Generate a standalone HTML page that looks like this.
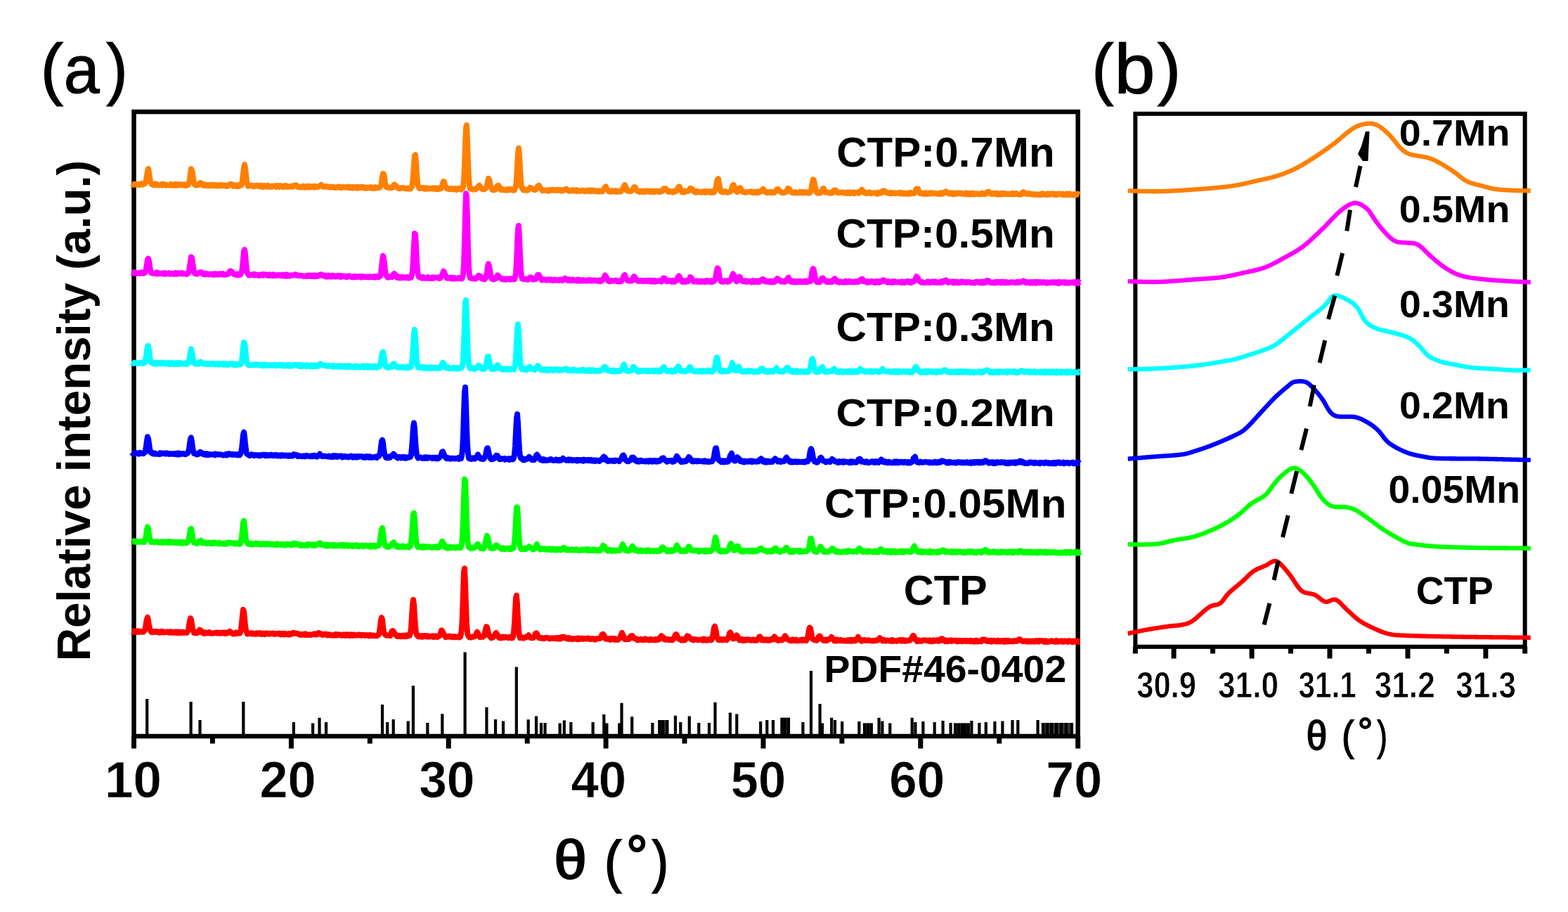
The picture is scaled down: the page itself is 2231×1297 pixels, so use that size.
<!DOCTYPE html><html><head><meta charset="utf-8"><title>XRD</title><style>html,body{margin:0;padding:0;background:#fff;}svg{display:block;}</style></head><body><svg width="2231" height="1297" viewBox="0 0 2231 1297"><rect width="100%" height="100%" fill="#fff"/><rect x="190.5" y="159.0" width="1343.2" height="888.0" fill="none" stroke="#000" stroke-width="6.5"/><line x1="190.5" y1="1047.0" x2="190.5" y2="1064.5" stroke="#000" stroke-width="7"/><line x1="414.4" y1="1047.0" x2="414.4" y2="1064.5" stroke="#000" stroke-width="7"/><line x1="638.2" y1="1047.0" x2="638.2" y2="1064.5" stroke="#000" stroke-width="7"/><line x1="862.1" y1="1047.0" x2="862.1" y2="1064.5" stroke="#000" stroke-width="7"/><line x1="1086.0" y1="1047.0" x2="1086.0" y2="1064.5" stroke="#000" stroke-width="7"/><line x1="1309.8" y1="1047.0" x2="1309.8" y2="1064.5" stroke="#000" stroke-width="7"/><line x1="1533.7" y1="1047.0" x2="1533.7" y2="1064.5" stroke="#000" stroke-width="7"/><line x1="302.4" y1="1047.0" x2="302.4" y2="1057.5" stroke="#000" stroke-width="7"/><line x1="526.3" y1="1047.0" x2="526.3" y2="1057.5" stroke="#000" stroke-width="7"/><line x1="750.2" y1="1047.0" x2="750.2" y2="1057.5" stroke="#000" stroke-width="7"/><line x1="974.0" y1="1047.0" x2="974.0" y2="1057.5" stroke="#000" stroke-width="7"/><line x1="1197.9" y1="1047.0" x2="1197.9" y2="1057.5" stroke="#000" stroke-width="7"/><line x1="1421.8" y1="1047.0" x2="1421.8" y2="1057.5" stroke="#000" stroke-width="7"/><path d="M209.2 1047.0V994.1M271.6 1047.0V997.9M284.5 1047.0V1023.9M346.3 1047.0V997.9M417.8 1047.0V1027.0M445.1 1047.0V1028.6M454.5 1047.0V1020.8M464.0 1047.0V1027.0M544.0 1047.0V1002.0M551.2 1047.0V1027.0M559.7 1047.0V1023.0M580.7 1047.0V1025.5M587.9 1047.0V975.3M608.3 1047.0V1028.0M629.3 1047.0V1015.2M661.6 1047.0V927.6M692.4 1047.0V1005.7M705.0 1047.0V1023.0M716.0 1047.0V1025.5M734.8 1047.0V948.6M751.7 1047.0V1023.3M763.0 1047.0V1018.6M770.0 1047.0V1028.0M775.5 1047.0V1028.0M796.6 1047.0V1028.6M802.8 1047.0V1024.6M812.3 1047.0V1027.0M843.6 1047.0V1027.0M859.3 1047.0V1016.0M863.4 1047.0V1028.6M881.3 1047.0V1028.6M884.5 1047.0V999.8M899.2 1047.0V1019.2M928.4 1047.0V1028.0M938.4 1047.0V1024.0M943.0 1047.0V1024.0M949.4 1047.0V1024.0M961.0 1047.0V1017.7M968.3 1047.0V1027.0M980.8 1047.0V1018.6M994.3 1047.0V1028.0M1009.0 1047.0V1028.0M1017.5 1047.0V998.8M1038.9 1047.0V1013.6M1048.3 1047.0V1015.5M1082.2 1047.0V1026.0M1091.3 1047.0V1024.0M1100.0 1047.0V1024.0M1112.6 1047.0V1020.8M1117.0 1047.0V1020.8M1122.0 1047.0V1020.8M1142.4 1047.0V1027.0M1154.0 1047.0V954.0M1166.6 1047.0V1001.0M1170.0 1047.0V1028.6M1183.2 1047.0V1020.8M1188.0 1047.0V1024.0M1198.2 1047.0V1026.0M1222.4 1047.0V1026.0M1230.0 1047.0V1028.6M1235.0 1047.0V1028.6M1239.7 1047.0V1028.6M1250.6 1047.0V1020.8M1255.4 1047.0V1025.5M1266.3 1047.0V1028.6M1297.7 1047.0V1020.8M1302.4 1047.0V1027.0M1313.4 1047.0V1026.0M1329.7 1047.0V1027.0M1341.6 1047.0V1024.9M1352.6 1047.0V1028.0M1359.0 1047.0V1028.6M1364.0 1047.0V1028.6M1369.0 1047.0V1028.6M1373.0 1047.0V1028.6M1377.7 1047.0V1028.6M1382.4 1047.0V1024.9M1393.4 1047.0V1028.0M1402.8 1047.0V1027.0M1415.4 1047.0V1026.0M1426.4 1047.0V1025.5M1440.5 1047.0V1024.0M1448.3 1047.0V1024.0M1476.6 1047.0V1024.0M1484.0 1047.0V1028.0M1490.0 1047.0V1028.0M1496.0 1047.0V1028.0M1503.0 1047.0V1028.0M1510.0 1047.0V1028.0M1517.0 1047.0V1028.0M1525.0 1047.0V1028.0" stroke="#000" stroke-width="4.2" fill="none"/><rect x="936.5" y="1024.0" width="14.5" height="23.0" fill="#000" fill-opacity="0.8"/><rect x="1110.5" y="1020.8" width="13.5" height="26.2" fill="#000" fill-opacity="0.8"/><rect x="1228.0" y="1028.6" width="14.0" height="18.4" fill="#000" fill-opacity="0.8"/><rect x="1357.0" y="1028.6" width="23.0" height="18.4" fill="#000" fill-opacity="0.8"/><rect x="1482.0" y="1028.0" width="45.0" height="19.0" fill="#000" fill-opacity="0.8"/><path d="M188.0 898.1 189.0 898.6 190.0 897.8 191.0 899.0 192.0 898.6 193.0 897.4 194.0 898.8 195.0 898.1 196.0 897.5 197.0 898.8 198.0 897.9 199.0 898.3 200.0 898.0 201.0 898.8 202.0 898.1 203.0 897.5 204.0 898.6 205.0 897.4 206.0 896.4 207.0 892.8 208.0 885.4 209.0 880.5 210.0 878.0 211.0 882.3 212.0 889.5 213.0 893.9 214.0 896.8 215.0 898.4 216.0 899.3 217.0 898.9 218.0 897.9 219.0 898.1 220.0 898.9 221.0 899.0 222.0 898.0 223.0 898.5 224.0 898.0 225.0 899.4 226.0 899.2 227.0 899.8 228.0 898.5 229.0 898.8 230.0 897.9 231.0 899.1 232.0 898.4 233.0 899.4 234.0 899.3 235.0 899.0 236.0 898.8 237.0 898.5 238.0 898.6 239.0 899.3 240.0 898.7 241.0 899.7 242.0 898.4 243.0 898.3 244.0 899.7 245.0 899.6 246.0 900.0 247.0 899.0 248.0 898.5 249.0 899.6 250.0 900.0 251.0 898.4 252.0 898.4 253.0 900.2 254.0 900.2 255.0 898.8 256.0 900.0 257.0 900.2 258.0 899.2 259.0 899.7 260.0 898.8 261.0 898.8 262.0 900.1 263.0 899.9 264.0 899.7 265.0 899.1 266.0 899.7 267.0 898.1 268.0 896.0 269.0 888.8 270.0 883.8 271.0 879.2 272.0 881.4 273.0 887.9 274.0 894.4 275.0 896.5 276.0 899.9 277.0 899.3 278.0 900.2 279.0 899.9 280.0 900.4 281.0 898.6 282.0 899.4 283.0 898.2 284.0 895.7 285.0 896.1 286.0 896.7 287.0 898.3 288.0 900.0 289.0 899.7 290.0 900.8 291.0 899.6 292.0 900.7 293.0 899.8 294.0 899.7 295.0 899.7 296.0 900.4 297.0 900.2 298.0 899.2 299.0 900.6 300.0 900.8 301.0 900.7 302.0 900.8 303.0 900.4 304.0 900.5 305.0 900.2 306.0 900.0 307.0 899.8 308.0 899.8 309.0 900.5 310.0 899.5 311.0 900.0 312.0 899.8 313.0 900.8 314.0 900.8 315.0 900.3 316.0 899.5 317.0 900.1 318.0 900.5 319.0 899.4 320.0 899.4 321.0 901.1 322.0 899.5 323.0 899.4 324.0 900.3 325.0 899.5 326.0 899.0 327.0 898.0 328.0 898.8 329.0 899.6 330.0 900.5 331.0 901.3 332.0 900.5 333.0 901.4 334.0 901.3 335.0 900.5 336.0 899.6 337.0 901.2 338.0 900.5 339.0 900.0 340.0 899.6 341.0 900.6 342.0 899.5 343.0 894.4 344.0 885.7 345.0 875.7 346.0 867.0 347.0 869.4 348.0 879.1 349.0 890.5 350.0 896.2 351.0 899.3 352.0 901.6 353.0 901.2 354.0 900.4 355.0 901.2 356.0 900.6 357.0 900.5 358.0 900.1 359.0 901.7 360.0 901.3 361.0 901.1 362.0 901.2 363.0 900.8 364.0 901.8 365.0 900.9 366.0 900.3 367.0 901.2 368.0 901.4 369.0 901.5 370.0 900.2 371.0 900.9 372.0 901.9 373.0 901.9 374.0 900.5 375.0 901.0 376.0 901.8 377.0 902.1 378.0 901.0 379.0 900.4 380.0 900.9 381.0 901.3 382.0 900.9 383.0 901.8 384.0 901.2 385.0 901.0 386.0 901.1 387.0 901.2 388.0 900.6 389.0 900.5 390.0 901.9 391.0 901.8 392.0 901.2 393.0 901.6 394.0 901.0 395.0 900.9 396.0 901.0 397.0 901.3 398.0 900.6 399.0 902.5 400.0 902.6 401.0 901.1 402.0 900.7 403.0 901.9 404.0 902.5 405.0 900.8 406.0 901.1 407.0 901.9 408.0 901.7 409.0 902.0 410.0 902.6 411.0 901.1 412.0 902.6 413.0 902.4 414.0 901.2 415.0 901.7 416.0 900.4 417.0 900.9 418.0 900.0 419.0 900.8 420.0 900.7 421.0 900.6 422.0 901.0 423.0 901.1 424.0 901.2 425.0 902.2 426.0 902.1 427.0 901.9 428.0 903.1 429.0 902.0 430.0 902.6 431.0 902.8 432.0 901.7 433.0 902.0 434.0 903.0 435.0 901.5 436.0 903.2 437.0 903.2 438.0 903.0 439.0 902.5 440.0 903.0 441.0 902.5 442.0 902.7 443.0 903.0 444.0 902.5 445.0 902.2 446.0 901.8 447.0 901.4 448.0 902.4 449.0 902.5 450.0 902.7 451.0 902.3 452.0 900.8 453.0 899.9 454.0 900.1 455.0 900.5 456.0 901.8 457.0 902.1 458.0 902.4 459.0 903.0 460.0 901.7 461.0 901.7 462.0 902.2 463.0 902.4 464.0 901.8 465.0 903.5 466.0 903.4 467.0 903.4 468.0 902.3 469.0 903.0 470.0 903.4 471.0 902.8 472.0 903.6 473.0 903.3 474.0 903.8 475.0 903.4 476.0 902.7 477.0 903.5 478.0 902.0 479.0 902.7 480.0 903.5 481.0 903.2 482.0 902.3 483.0 903.0 484.0 902.7 485.0 903.6 486.0 903.7 487.0 903.7 488.0 902.6 489.0 902.4 490.0 903.2 491.0 903.9 492.0 902.4 493.0 903.2 494.0 903.7 495.0 902.5 496.0 903.1 497.0 902.6 498.0 904.1 499.0 903.3 500.0 902.5 501.0 903.8 502.0 903.9 503.0 902.7 504.0 902.5 505.0 903.6 506.0 903.7 507.0 903.3 508.0 903.6 509.0 903.5 510.0 902.6 511.0 902.6 512.0 903.4 513.0 902.8 514.0 903.9 515.0 903.2 516.0 903.0 517.0 902.9 518.0 903.0 519.0 903.9 520.0 903.6 521.0 903.1 522.0 903.5 523.0 903.7 524.0 903.4 525.0 904.5 526.0 904.4 527.0 903.1 528.0 904.1 529.0 903.9 530.0 903.7 531.0 903.6 532.0 904.2 533.0 904.2 534.0 904.4 535.0 904.6 536.0 904.0 537.0 904.1 538.0 902.7 539.0 902.4 540.0 897.7 541.0 890.0 542.0 881.9 543.0 878.4 544.0 881.1 545.0 890.9 546.0 898.2 547.0 901.3 548.0 902.5 549.0 903.5 550.0 903.1 551.0 903.9 552.0 903.7 553.0 903.3 554.0 903.9 555.0 904.3 556.0 901.8 557.0 899.4 558.0 897.2 559.0 897.1 560.0 898.2 561.0 900.1 562.0 902.2 563.0 902.9 564.0 903.8 565.0 904.8 566.0 903.7 567.0 904.8 568.0 904.1 569.0 905.2 570.0 904.8 571.0 904.1 572.0 905.2 573.0 905.2 574.0 903.6 575.0 904.6 576.0 905.3 577.0 903.5 578.0 903.6 579.0 904.9 580.0 903.6 581.0 904.5 582.0 904.1 583.0 903.6 584.0 900.5 585.0 892.1 586.0 876.0 587.0 861.1 588.0 852.9 589.0 859.6 590.0 876.4 591.0 890.9 592.0 899.4 593.0 902.7 594.0 904.3 595.0 905.4 596.0 905.3 597.0 904.3 598.0 905.5 599.0 905.7 600.0 904.4 601.0 904.2 602.0 905.6 603.0 904.1 604.0 904.9 605.0 904.0 606.0 904.6 607.0 905.4 608.0 904.3 609.0 905.6 610.0 905.7 611.0 905.5 612.0 904.9 613.0 904.9 614.0 904.5 615.0 905.5 616.0 904.4 617.0 905.9 618.0 905.8 619.0 905.8 620.0 904.4 621.0 905.5 622.0 906.1 623.0 904.8 624.0 905.2 625.0 904.6 626.0 903.1 627.0 900.0 628.0 896.6 629.0 896.7 630.0 899.1 631.0 900.8 632.0 903.1 633.0 904.3 634.0 906.2 635.0 905.7 636.0 905.2 637.0 905.1 638.0 905.7 639.0 905.4 640.0 904.5 641.0 905.0 642.0 905.8 643.0 906.2 644.0 905.6 645.0 905.1 646.0 906.3 647.0 906.3 648.0 905.3 649.0 905.8 650.0 905.7 651.0 906.3 652.0 905.8 653.0 904.9 654.0 906.3 655.0 905.5 656.0 901.7 657.0 893.4 658.0 873.1 659.0 842.6 660.0 813.4 661.0 808.5 662.0 829.1 663.0 861.4 664.0 887.0 665.0 900.1 666.0 903.6 667.0 905.5 668.0 906.5 669.0 906.4 670.0 906.6 671.0 905.8 672.0 905.4 673.0 905.7 674.0 905.3 675.0 905.4 676.0 904.9 677.0 903.3 678.0 900.4 679.0 898.8 680.0 900.5 681.0 903.3 682.0 905.1 683.0 906.2 684.0 905.6 685.0 905.6 686.0 905.3 687.0 905.8 688.0 905.0 689.0 904.2 690.0 899.2 691.0 894.9 692.0 891.3 693.0 892.0 694.0 896.3 695.0 900.7 696.0 904.1 697.0 905.4 698.0 906.0 699.0 907.2 700.0 905.6 701.0 906.8 702.0 905.9 703.0 904.8 704.0 902.6 705.0 901.0 706.0 899.9 707.0 902.2 708.0 903.0 709.0 905.2 710.0 906.8 711.0 905.9 712.0 907.5 713.0 907.5 714.0 906.6 715.0 905.7 716.0 906.4 717.0 906.9 718.0 906.2 719.0 905.8 720.0 905.8 721.0 906.3 722.0 906.9 723.0 907.3 724.0 906.4 725.0 905.8 726.0 907.0 727.0 906.6 728.0 907.5 729.0 907.3 730.0 905.4 731.0 899.2 732.0 886.9 733.0 868.3 734.0 850.7 735.0 846.9 736.0 860.4 737.0 880.4 738.0 895.6 739.0 904.1 740.0 907.2 741.0 906.9 742.0 907.1 743.0 906.9 744.0 906.5 745.0 907.6 746.0 907.3 747.0 906.7 748.0 906.3 749.0 906.3 750.0 904.6 751.0 904.4 752.0 903.2 753.0 905.3 754.0 906.3 755.0 907.0 756.0 906.8 757.0 907.5 758.0 906.6 759.0 907.0 760.0 905.4 761.0 903.1 762.0 901.0 763.0 900.4 764.0 901.1 765.0 904.1 766.0 905.7 767.0 907.3 768.0 907.4 769.0 907.0 770.0 907.1 771.0 907.9 772.0 907.5 773.0 907.8 774.0 908.3 775.0 907.4 776.0 906.9 777.0 907.1 778.0 906.7 779.0 907.2 780.0 907.6 781.0 907.4 782.0 908.5 783.0 908.0 784.0 908.1 785.0 907.8 786.0 907.2 787.0 907.5 788.0 907.8 789.0 908.0 790.0 907.4 791.0 908.2 792.0 907.2 793.0 908.5 794.0 908.1 795.0 906.9 796.0 908.5 797.0 907.3 798.0 908.2 799.0 905.8 800.0 905.6 801.0 906.7 802.0 906.3 803.0 905.9 804.0 907.5 805.0 907.1 806.0 908.0 807.0 908.4 808.0 907.2 809.0 908.8 810.0 907.3 811.0 907.5 812.0 908.8 813.0 908.7 814.0 908.8 815.0 909.1 816.0 908.2 817.0 907.9 818.0 908.5 819.0 908.3 820.0 908.1 821.0 909.2 822.0 908.8 823.0 907.4 824.0 909.1 825.0 908.2 826.0 908.6 827.0 907.7 828.0 907.8 829.0 908.9 830.0 908.6 831.0 908.1 832.0 908.2 833.0 908.6 834.0 908.4 835.0 908.4 836.0 907.6 837.0 907.8 838.0 907.8 839.0 909.0 840.0 909.2 841.0 909.1 842.0 908.5 843.0 908.1 844.0 908.5 845.0 908.4 846.0 909.6 847.0 909.0 848.0 909.4 849.0 908.3 850.0 908.4 851.0 908.0 852.0 908.2 853.0 908.0 854.0 907.8 855.0 907.1 856.0 903.8 857.0 902.1 858.0 901.8 859.0 902.7 860.0 905.3 861.0 906.9 862.0 908.8 863.0 908.5 864.0 908.0 865.0 908.2 866.0 909.2 867.0 908.8 868.0 909.7 869.0 908.2 870.0 909.3 871.0 908.1 872.0 908.2 873.0 908.4 874.0 909.5 875.0 908.3 876.0 909.8 877.0 909.4 878.0 909.2 879.0 909.9 880.0 908.5 881.0 908.3 882.0 907.7 883.0 904.1 884.0 902.8 885.0 899.9 886.0 902.6 887.0 904.2 888.0 907.5 889.0 909.3 890.0 909.1 891.0 909.1 892.0 909.0 893.0 908.4 894.0 909.2 895.0 909.0 896.0 908.1 897.0 905.1 898.0 904.2 899.0 904.3 900.0 904.2 901.0 906.8 902.0 907.7 903.0 908.2 904.0 908.3 905.0 908.3 906.0 909.5 907.0 910.3 908.0 909.3 909.0 909.8 910.0 910.1 911.0 909.5 912.0 908.9 913.0 909.4 914.0 909.2 915.0 910.3 916.0 909.2 917.0 909.6 918.0 908.6 919.0 909.9 920.0 909.4 921.0 909.7 922.0 909.4 923.0 909.4 924.0 910.3 925.0 909.5 926.0 909.0 927.0 910.1 928.0 910.2 929.0 909.8 930.0 909.9 931.0 909.8 932.0 910.3 933.0 909.0 934.0 909.8 935.0 910.1 936.0 908.8 937.0 909.5 938.0 909.3 939.0 906.9 940.0 905.5 941.0 904.2 942.0 905.3 943.0 906.1 944.0 906.5 945.0 909.3 946.0 909.3 947.0 909.9 948.0 908.9 949.0 908.7 950.0 909.3 951.0 909.3 952.0 910.3 953.0 910.1 954.0 909.3 955.0 909.5 956.0 910.4 957.0 910.3 958.0 908.2 959.0 908.1 960.0 905.3 961.0 902.8 962.0 902.2 963.0 903.3 964.0 905.8 965.0 907.8 966.0 908.6 967.0 909.1 968.0 909.1 969.0 910.4 970.0 908.9 971.0 908.9 972.0 910.6 973.0 910.2 974.0 909.6 975.0 910.1 976.0 908.5 977.0 906.1 978.0 904.3 979.0 904.8 980.0 905.3 981.0 906.8 982.0 907.6 983.0 909.0 984.0 908.6 985.0 908.9 986.0 910.4 987.0 909.2 988.0 910.0 989.0 909.4 990.0 909.0 991.0 909.3 992.0 909.9 993.0 910.3 994.0 910.2 995.0 909.7 996.0 909.7 997.0 909.6 998.0 910.3 999.0 909.9 1000.0 910.6 1001.0 908.8 1002.0 910.3 1003.0 909.0 1004.0 910.5 1005.0 910.4 1006.0 910.8 1007.0 909.5 1008.0 909.9 1009.0 910.1 1010.0 908.8 1011.0 908.7 1012.0 910.4 1013.0 909.0 1014.0 904.3 1015.0 898.9 1016.0 892.8 1017.0 890.6 1018.0 894.3 1019.0 898.6 1020.0 906.0 1021.0 908.0 1022.0 909.7 1023.0 909.0 1024.0 910.2 1025.0 909.0 1026.0 909.1 1027.0 910.3 1028.0 910.4 1029.0 909.2 1030.0 909.6 1031.0 909.0 1032.0 909.8 1033.0 909.4 1034.0 910.2 1035.0 909.0 1036.0 908.0 1037.0 904.6 1038.0 900.5 1039.0 899.5 1040.0 901.3 1041.0 903.8 1042.0 906.7 1043.0 908.2 1044.0 908.3 1045.0 908.1 1046.0 906.8 1047.0 905.0 1048.0 903.4 1049.0 904.5 1050.0 905.9 1051.0 908.2 1052.0 910.4 1053.0 910.4 1054.0 910.2 1055.0 910.4 1056.0 909.0 1057.0 911.0 1058.0 909.7 1059.0 910.8 1060.0 909.8 1061.0 910.5 1062.0 909.4 1063.0 910.2 1064.0 910.1 1065.0 909.3 1066.0 910.0 1067.0 909.7 1068.0 910.7 1069.0 910.6 1070.0 910.3 1071.0 909.7 1072.0 909.5 1073.0 910.8 1074.0 910.0 1075.0 909.9 1076.0 910.9 1077.0 910.7 1078.0 909.6 1079.0 908.2 1080.0 905.8 1081.0 905.3 1082.0 906.4 1083.0 907.9 1084.0 910.1 1085.0 909.5 1086.0 910.6 1087.0 910.7 1088.0 909.4 1089.0 910.3 1090.0 909.9 1091.0 909.6 1092.0 910.7 1093.0 910.4 1094.0 909.9 1095.0 910.9 1096.0 910.5 1097.0 909.2 1098.0 908.8 1099.0 909.5 1100.0 908.0 1101.0 906.8 1102.0 905.4 1103.0 906.6 1104.0 909.3 1105.0 908.9 1106.0 909.2 1107.0 911.0 1108.0 910.8 1109.0 909.7 1110.0 910.0 1111.0 910.5 1112.0 910.5 1113.0 909.0 1114.0 909.8 1115.0 907.9 1116.0 906.1 1117.0 904.4 1118.0 905.7 1119.0 907.5 1120.0 909.0 1121.0 908.9 1122.0 910.4 1123.0 910.4 1124.0 911.0 1125.0 910.9 1126.0 911.3 1127.0 909.8 1128.0 909.4 1129.0 910.9 1130.0 910.2 1131.0 910.9 1132.0 910.6 1133.0 909.7 1134.0 911.4 1135.0 910.9 1136.0 910.7 1137.0 911.2 1138.0 911.0 1139.0 910.1 1140.0 910.2 1141.0 909.6 1142.0 911.2 1143.0 909.8 1144.0 909.8 1145.0 910.0 1146.0 909.6 1147.0 911.1 1148.0 908.9 1149.0 906.9 1150.0 902.5 1151.0 895.6 1152.0 892.6 1153.0 893.4 1154.0 898.3 1155.0 904.8 1156.0 908.9 1157.0 909.2 1158.0 909.4 1159.0 910.4 1160.0 909.8 1161.0 909.5 1162.0 910.8 1163.0 908.9 1164.0 907.9 1165.0 905.2 1166.0 904.5 1167.0 904.9 1168.0 907.0 1169.0 909.0 1170.0 909.3 1171.0 909.8 1172.0 911.1 1173.0 910.8 1174.0 909.9 1175.0 909.6 1176.0 911.2 1177.0 909.7 1178.0 910.5 1179.0 909.5 1180.0 909.0 1181.0 908.8 1182.0 907.9 1183.0 905.9 1184.0 906.7 1185.0 908.4 1186.0 908.7 1187.0 911.3 1188.0 910.4 1189.0 910.4 1190.0 911.6 1191.0 909.8 1192.0 910.9 1193.0 910.7 1194.0 911.2 1195.0 911.1 1196.0 910.0 1197.0 911.2 1198.0 910.7 1199.0 911.3 1200.0 910.9 1201.0 911.3 1202.0 911.6 1203.0 911.0 1204.0 911.6 1205.0 910.9 1206.0 910.3 1207.0 911.5 1208.0 910.5 1209.0 911.4 1210.0 910.0 1211.0 911.6 1212.0 910.0 1213.0 911.5 1214.0 910.3 1215.0 909.9 1216.0 909.8 1217.0 911.3 1218.0 909.9 1219.0 909.0 1220.0 907.7 1221.0 905.8 1222.0 907.9 1223.0 909.3 1224.0 910.1 1225.0 910.4 1226.0 911.7 1227.0 911.0 1228.0 910.4 1229.0 910.0 1230.0 910.0 1231.0 911.0 1232.0 911.1 1233.0 911.0 1234.0 910.7 1235.0 910.3 1236.0 910.9 1237.0 910.6 1238.0 911.0 1239.0 911.2 1240.0 911.5 1241.0 911.6 1242.0 911.5 1243.0 910.9 1244.0 911.4 1245.0 911.1 1246.0 910.8 1247.0 910.3 1248.0 910.9 1249.0 909.6 1250.0 910.0 1251.0 909.1 1252.0 907.2 1253.0 908.7 1254.0 908.9 1255.0 909.7 1256.0 911.4 1257.0 910.5 1258.0 910.0 1259.0 911.5 1260.0 911.7 1261.0 911.5 1262.0 910.8 1263.0 910.6 1264.0 910.8 1265.0 911.4 1266.0 911.6 1267.0 911.3 1268.0 910.5 1269.0 911.7 1270.0 910.2 1271.0 911.7 1272.0 911.0 1273.0 911.6 1274.0 911.4 1275.0 911.5 1276.0 911.9 1277.0 910.9 1278.0 910.6 1279.0 911.1 1280.0 911.0 1281.0 910.1 1282.0 911.5 1283.0 911.8 1284.0 910.9 1285.0 910.1 1286.0 910.9 1287.0 911.6 1288.0 910.5 1289.0 910.9 1290.0 911.7 1291.0 910.9 1292.0 911.0 1293.0 910.5 1294.0 910.9 1295.0 910.3 1296.0 908.8 1297.0 908.4 1298.0 906.0 1299.0 904.0 1300.0 904.2 1301.0 906.5 1302.0 909.1 1303.0 910.2 1304.0 910.1 1305.0 912.1 1306.0 910.6 1307.0 910.3 1308.0 911.8 1309.0 911.6 1310.0 911.7 1311.0 912.0 1312.0 910.9 1313.0 910.6 1314.0 910.7 1315.0 910.5 1316.0 910.4 1317.0 910.6 1318.0 910.5 1319.0 911.3 1320.0 910.9 1321.0 911.3 1322.0 911.9 1323.0 910.4 1324.0 911.4 1325.0 912.2 1326.0 911.3 1327.0 911.5 1328.0 910.5 1329.0 911.9 1330.0 911.3 1331.0 911.2 1332.0 910.9 1333.0 910.3 1334.0 910.5 1335.0 911.9 1336.0 911.4 1337.0 911.5 1338.0 909.3 1339.0 908.7 1340.0 908.1 1341.0 908.7 1342.0 910.7 1343.0 909.8 1344.0 910.2 1345.0 912.0 1346.0 910.7 1347.0 912.2 1348.0 912.2 1349.0 912.3 1350.0 910.8 1351.0 911.1 1352.0 910.4 1353.0 910.7 1354.0 911.9 1355.0 910.7 1356.0 911.1 1357.0 910.9 1358.0 911.2 1359.0 910.9 1360.0 911.0 1361.0 910.8 1362.0 912.4 1363.0 911.8 1364.0 912.1 1365.0 911.4 1366.0 910.7 1367.0 911.1 1368.0 912.0 1369.0 912.4 1370.0 911.1 1371.0 911.1 1372.0 911.1 1373.0 911.0 1374.0 912.1 1375.0 912.1 1376.0 911.1 1377.0 911.7 1378.0 911.4 1379.0 911.9 1380.0 910.9 1381.0 912.2 1382.0 911.3 1383.0 911.1 1384.0 911.4 1385.0 912.5 1386.0 911.6 1387.0 912.5 1388.0 912.3 1389.0 910.6 1390.0 911.2 1391.0 912.5 1392.0 911.6 1393.0 912.0 1394.0 911.8 1395.0 911.6 1396.0 912.3 1397.0 910.2 1398.0 909.5 1399.0 909.9 1400.0 909.4 1401.0 909.7 1402.0 911.0 1403.0 910.9 1404.0 910.5 1405.0 911.9 1406.0 911.3 1407.0 911.2 1408.0 912.0 1409.0 911.0 1410.0 910.7 1411.0 912.5 1412.0 911.8 1413.0 911.4 1414.0 910.7 1415.0 911.3 1416.0 912.1 1417.0 912.2 1418.0 911.7 1419.0 912.5 1420.0 910.8 1421.0 911.5 1422.0 911.9 1423.0 912.4 1424.0 911.2 1425.0 911.2 1426.0 912.2 1427.0 912.1 1428.0 910.9 1429.0 912.7 1430.0 911.2 1431.0 912.4 1432.0 911.3 1433.0 912.2 1434.0 910.9 1435.0 912.4 1436.0 911.4 1437.0 911.5 1438.0 912.2 1439.0 911.6 1440.0 912.1 1441.0 912.1 1442.0 912.5 1443.0 911.1 1444.0 911.8 1445.0 911.5 1446.0 911.5 1447.0 911.8 1448.0 910.5 1449.0 910.2 1450.0 909.2 1451.0 909.2 1452.0 910.2 1453.0 910.8 1454.0 911.6 1455.0 911.6 1456.0 912.2 1457.0 912.1 1458.0 911.7 1459.0 911.4 1460.0 911.5 1461.0 912.5 1462.0 912.7 1463.0 912.0 1464.0 911.5 1465.0 912.5 1466.0 912.1 1467.0 912.4 1468.0 912.6 1469.0 911.4 1470.0 911.6 1471.0 911.9 1472.0 912.6 1473.0 911.6 1474.0 912.2 1475.0 911.2 1476.0 911.7 1477.0 911.3 1478.0 912.6 1479.0 911.1 1480.0 911.2 1481.0 911.4 1482.0 911.5 1483.0 911.2 1484.0 911.3 1485.0 912.6 1486.0 912.0 1487.0 913.0 1488.0 911.2 1489.0 912.8 1490.0 912.7 1491.0 913.0 1492.0 912.6 1493.0 912.6 1494.0 912.2 1495.0 911.5 1496.0 911.4 1497.0 911.2 1498.0 912.0 1499.0 912.5 1500.0 912.4 1501.0 912.9 1502.0 912.4 1503.0 911.1 1504.0 912.6 1505.0 911.9 1506.0 911.8 1507.0 912.7 1508.0 912.2 1509.0 911.8 1510.0 911.3 1511.0 911.7 1512.0 912.8 1513.0 911.8 1514.0 912.4 1515.0 911.6 1516.0 911.5 1517.0 912.1 1518.0 912.1 1519.0 912.9 1520.0 911.5 1521.0 911.2 1522.0 911.7 1523.0 912.5 1524.0 912.2 1525.0 911.9 1526.0 913.2 1527.0 911.7 1528.0 912.5 1529.0 912.8 1530.0 911.7 1531.0 912.4 1532.0 912.6 1533.0 912.7 1534.0 911.7 1535.0 912.6 1536.0 912.3" stroke="#ff0000" stroke-width="8" fill="none" stroke-linejoin="round"/><path d="M188.0 770.4 189.0 770.1 190.0 770.4 191.0 769.4 192.0 769.9 193.0 770.6 194.0 769.7 195.0 769.7 196.0 770.9 197.0 770.8 198.0 770.6 199.0 770.4 200.0 770.5 201.0 769.7 202.0 769.9 203.0 770.6 204.0 770.2 205.0 770.9 206.0 769.2 207.0 766.0 208.0 760.7 209.0 752.7 210.0 749.3 211.0 751.9 212.0 759.7 213.0 765.7 214.0 769.1 215.0 770.9 216.0 770.1 217.0 770.0 218.0 770.8 219.0 771.4 220.0 770.5 221.0 770.2 222.0 770.3 223.0 770.8 224.0 770.1 225.0 770.9 226.0 771.5 227.0 771.5 228.0 771.4 229.0 771.4 230.0 770.3 231.0 770.2 232.0 771.8 233.0 770.9 234.0 770.3 235.0 771.5 236.0 771.6 237.0 770.6 238.0 770.5 239.0 771.6 240.0 770.3 241.0 771.9 242.0 771.7 243.0 770.4 244.0 770.9 245.0 771.5 246.0 771.8 247.0 770.8 248.0 770.9 249.0 771.7 250.0 772.3 251.0 770.9 252.0 770.8 253.0 771.5 254.0 772.1 255.0 772.3 256.0 770.6 257.0 772.4 258.0 771.6 259.0 770.9 260.0 772.5 261.0 771.1 262.0 771.4 263.0 772.3 264.0 772.5 265.0 772.3 266.0 771.6 267.0 771.4 268.0 769.7 269.0 764.7 270.0 758.9 271.0 752.4 272.0 751.9 273.0 757.0 274.0 763.8 275.0 768.9 276.0 771.4 277.0 771.3 278.0 771.6 279.0 772.8 280.0 771.9 281.0 772.5 282.0 771.0 283.0 770.0 284.0 769.6 285.0 770.0 286.0 768.7 287.0 771.3 288.0 772.4 289.0 771.6 290.0 772.3 291.0 772.4 292.0 771.5 293.0 771.4 294.0 773.0 295.0 772.8 296.0 771.4 297.0 771.6 298.0 772.2 299.0 772.2 300.0 773.2 301.0 772.5 302.0 771.7 303.0 772.9 304.0 772.3 305.0 771.5 306.0 772.8 307.0 772.4 308.0 772.3 309.0 772.8 310.0 773.2 311.0 772.6 312.0 771.8 313.0 773.4 314.0 773.0 315.0 772.9 316.0 772.9 317.0 773.6 318.0 772.9 319.0 773.5 320.0 773.8 321.0 772.4 322.0 772.3 323.0 773.2 324.0 771.9 325.0 771.5 326.0 771.6 327.0 772.0 328.0 772.2 329.0 772.0 330.0 772.3 331.0 772.2 332.0 772.3 333.0 773.5 334.0 773.4 335.0 772.5 336.0 773.6 337.0 773.0 338.0 773.0 339.0 772.4 340.0 773.8 341.0 773.9 342.0 773.0 343.0 768.9 344.0 763.7 345.0 753.3 346.0 742.7 347.0 740.7 348.0 747.3 349.0 758.8 350.0 767.5 351.0 771.2 352.0 772.6 353.0 773.6 354.0 773.8 355.0 772.8 356.0 772.6 357.0 774.3 358.0 774.2 359.0 773.5 360.0 773.8 361.0 774.1 362.0 773.2 363.0 773.7 364.0 772.6 365.0 773.9 366.0 773.5 367.0 772.9 368.0 773.8 369.0 773.0 370.0 773.4 371.0 774.5 372.0 774.4 373.0 773.2 374.0 772.8 375.0 773.1 376.0 774.2 377.0 774.4 378.0 773.2 379.0 774.4 380.0 774.1 381.0 773.3 382.0 773.8 383.0 773.3 384.0 774.5 385.0 774.4 386.0 774.5 387.0 774.2 388.0 773.8 389.0 774.7 390.0 774.2 391.0 774.0 392.0 775.0 393.0 773.5 394.0 774.8 395.0 773.6 396.0 774.5 397.0 774.1 398.0 773.9 399.0 774.6 400.0 773.9 401.0 774.2 402.0 774.8 403.0 774.1 404.0 775.3 405.0 774.4 406.0 775.3 407.0 774.5 408.0 774.8 409.0 773.7 410.0 774.2 411.0 774.3 412.0 774.4 413.0 774.1 414.0 775.3 415.0 775.2 416.0 774.1 417.0 774.3 418.0 772.5 419.0 772.8 420.0 772.7 421.0 774.2 422.0 773.3 423.0 773.7 424.0 774.5 425.0 774.3 426.0 774.2 427.0 775.7 428.0 774.5 429.0 775.7 430.0 774.7 431.0 775.1 432.0 775.3 433.0 775.8 434.0 775.4 435.0 775.1 436.0 775.9 437.0 774.2 438.0 775.9 439.0 774.0 440.0 774.7 441.0 774.7 442.0 774.5 443.0 774.5 444.0 774.2 445.0 775.9 446.0 774.7 447.0 774.7 448.0 775.7 449.0 774.3 450.0 775.4 451.0 774.4 452.0 774.1 453.0 773.6 454.0 772.5 455.0 772.6 456.0 772.3 457.0 774.7 458.0 774.6 459.0 774.2 460.0 775.1 461.0 775.4 462.0 774.9 463.0 776.2 464.0 774.8 465.0 776.1 466.0 774.9 467.0 776.4 468.0 775.1 469.0 775.7 470.0 775.3 471.0 775.7 472.0 776.2 473.0 775.0 474.0 776.0 475.0 775.0 476.0 776.6 477.0 775.4 478.0 775.8 479.0 776.4 480.0 776.0 481.0 775.2 482.0 775.3 483.0 775.0 484.0 776.2 485.0 775.2 486.0 775.7 487.0 774.9 488.0 776.6 489.0 775.5 490.0 776.4 491.0 775.2 492.0 775.9 493.0 776.2 494.0 775.0 495.0 775.3 496.0 776.9 497.0 775.7 498.0 775.4 499.0 776.2 500.0 776.7 501.0 775.7 502.0 777.0 503.0 776.3 504.0 776.0 505.0 776.3 506.0 775.3 507.0 776.3 508.0 776.6 509.0 775.8 510.0 777.2 511.0 777.2 512.0 776.7 513.0 776.6 514.0 776.2 515.0 775.5 516.0 776.0 517.0 777.3 518.0 776.0 519.0 776.5 520.0 775.5 521.0 775.8 522.0 776.1 523.0 776.6 524.0 776.6 525.0 776.1 526.0 777.4 527.0 777.4 528.0 775.9 529.0 777.5 530.0 776.6 531.0 776.9 532.0 775.8 533.0 777.0 534.0 777.6 535.0 776.3 536.0 776.7 537.0 776.4 538.0 775.6 539.0 775.5 540.0 773.0 541.0 767.7 542.0 759.9 543.0 752.8 544.0 750.9 545.0 757.5 546.0 765.3 547.0 772.5 548.0 775.8 549.0 775.7 550.0 777.5 551.0 777.6 552.0 777.7 553.0 777.0 554.0 777.6 555.0 776.1 556.0 775.9 557.0 775.5 558.0 773.1 559.0 772.4 560.0 771.3 561.0 773.2 562.0 774.5 563.0 776.4 564.0 777.4 565.0 776.8 566.0 776.3 567.0 778.2 568.0 777.8 569.0 777.8 570.0 777.8 571.0 776.9 572.0 777.9 573.0 776.6 574.0 776.7 575.0 778.1 576.0 777.9 577.0 777.9 578.0 777.0 579.0 776.9 580.0 777.6 581.0 776.5 582.0 778.4 583.0 777.2 584.0 776.3 585.0 771.0 586.0 761.4 587.0 745.8 588.0 731.9 589.0 729.6 590.0 739.3 591.0 756.4 592.0 768.5 593.0 774.0 594.0 777.2 595.0 778.3 596.0 777.7 597.0 777.7 598.0 777.3 599.0 778.4 600.0 777.2 601.0 778.4 602.0 778.9 603.0 777.0 604.0 778.1 605.0 778.1 606.0 778.3 607.0 777.3 608.0 778.0 609.0 777.9 610.0 777.6 611.0 777.6 612.0 777.9 613.0 778.3 614.0 778.4 615.0 779.0 616.0 778.7 617.0 777.8 618.0 777.3 619.0 778.5 620.0 778.4 621.0 777.3 622.0 777.7 623.0 778.9 624.0 777.2 625.0 778.3 626.0 777.1 627.0 775.0 628.0 772.4 629.0 769.8 630.0 771.2 631.0 772.0 632.0 774.7 633.0 777.7 634.0 778.7 635.0 777.5 636.0 779.5 637.0 779.2 638.0 779.5 639.0 778.6 640.0 777.7 641.0 778.9 642.0 778.0 643.0 779.0 644.0 778.9 645.0 778.6 646.0 778.1 647.0 779.1 648.0 779.5 649.0 779.0 650.0 778.0 651.0 778.1 652.0 777.9 653.0 778.8 654.0 778.5 655.0 779.1 656.0 777.7 657.0 773.9 658.0 763.7 659.0 740.8 660.0 707.6 661.0 681.6 662.0 682.9 663.0 707.9 664.0 740.6 665.0 764.3 666.0 774.9 667.0 778.3 668.0 778.5 669.0 778.5 670.0 780.1 671.0 779.3 672.0 779.7 673.0 778.7 674.0 779.3 675.0 778.8 676.0 778.1 677.0 777.7 678.0 776.0 679.0 774.2 680.0 773.9 681.0 775.4 682.0 777.6 683.0 777.9 684.0 779.8 685.0 779.5 686.0 779.5 687.0 779.1 688.0 780.2 689.0 778.2 690.0 775.5 691.0 770.6 692.0 765.5 693.0 761.9 694.0 764.1 695.0 769.5 696.0 775.3 697.0 776.9 698.0 779.4 699.0 778.8 700.0 779.9 701.0 779.5 702.0 779.9 703.0 779.3 704.0 777.4 705.0 775.9 706.0 775.5 707.0 775.5 708.0 777.0 709.0 777.7 710.0 778.4 711.0 779.3 712.0 779.3 713.0 780.7 714.0 779.5 715.0 779.8 716.0 779.3 717.0 781.0 718.0 779.9 719.0 780.8 720.0 779.8 721.0 780.5 722.0 780.1 723.0 779.9 724.0 781.0 725.0 781.0 726.0 780.9 727.0 781.2 728.0 779.3 729.0 780.2 730.0 780.1 731.0 777.9 732.0 771.0 733.0 759.1 734.0 739.5 735.0 721.7 736.0 721.4 737.0 735.5 738.0 756.3 739.0 769.9 740.0 777.3 741.0 780.3 742.0 781.1 743.0 780.5 744.0 780.0 745.0 780.8 746.0 779.8 747.0 781.1 748.0 780.8 749.0 780.3 750.0 779.6 751.0 779.2 752.0 778.1 753.0 777.2 754.0 778.0 755.0 779.5 756.0 779.3 757.0 779.9 758.0 781.5 759.0 781.6 760.0 780.2 761.0 780.2 762.0 778.4 763.0 775.8 764.0 774.0 765.0 776.8 766.0 778.2 767.0 779.9 768.0 779.7 769.0 781.5 770.0 780.1 771.0 780.3 772.0 780.4 773.0 780.9 774.0 780.2 775.0 780.2 776.0 781.3 777.0 780.8 778.0 781.6 779.0 781.4 780.0 781.7 781.0 780.5 782.0 780.3 783.0 780.6 784.0 782.0 785.0 780.7 786.0 781.7 787.0 780.4 788.0 781.4 789.0 782.1 790.0 781.3 791.0 782.1 792.0 780.7 793.0 781.9 794.0 782.0 795.0 781.3 796.0 780.8 797.0 781.1 798.0 782.1 799.0 781.4 800.0 781.2 801.0 780.0 802.0 778.8 803.0 780.5 804.0 780.0 805.0 781.9 806.0 780.9 807.0 781.3 808.0 782.6 809.0 782.4 810.0 781.8 811.0 782.1 812.0 782.5 813.0 781.4 814.0 781.0 815.0 782.2 816.0 782.3 817.0 782.4 818.0 782.1 819.0 781.7 820.0 781.2 821.0 782.3 822.0 782.5 823.0 782.5 824.0 782.6 825.0 783.0 826.0 782.6 827.0 782.6 828.0 781.5 829.0 781.7 830.0 782.5 831.0 781.7 832.0 781.2 833.0 781.7 834.0 782.3 835.0 781.2 836.0 782.8 837.0 781.3 838.0 782.8 839.0 781.6 840.0 782.2 841.0 782.6 842.0 783.1 843.0 783.2 844.0 781.8 845.0 783.0 846.0 781.7 847.0 783.2 848.0 783.1 849.0 782.2 850.0 782.8 851.0 782.4 852.0 782.2 853.0 783.2 854.0 783.3 855.0 782.1 856.0 780.1 857.0 779.4 858.0 775.9 859.0 776.8 860.0 776.8 861.0 778.6 862.0 780.4 863.0 782.1 864.0 782.0 865.0 783.5 866.0 782.8 867.0 782.6 868.0 781.9 869.0 782.3 870.0 783.8 871.0 782.7 872.0 783.4 873.0 783.2 874.0 782.5 875.0 783.6 876.0 783.4 877.0 783.2 878.0 782.6 879.0 783.0 880.0 782.9 881.0 782.7 882.0 782.9 883.0 781.6 884.0 778.6 885.0 776.1 886.0 774.0 887.0 776.1 888.0 778.3 889.0 780.0 890.0 782.8 891.0 782.7 892.0 782.4 893.0 783.1 894.0 783.7 895.0 782.5 896.0 782.2 897.0 782.3 898.0 779.4 899.0 778.3 900.0 776.6 901.0 778.5 902.0 779.2 903.0 781.8 904.0 783.1 905.0 782.4 906.0 782.1 907.0 783.4 908.0 784.0 909.0 783.2 910.0 782.8 911.0 782.8 912.0 782.5 913.0 783.9 914.0 782.8 915.0 782.9 916.0 783.1 917.0 783.7 918.0 783.6 919.0 782.9 920.0 784.0 921.0 782.7 922.0 782.2 923.0 782.3 924.0 783.0 925.0 784.2 926.0 783.4 927.0 783.5 928.0 783.0 929.0 783.1 930.0 784.1 931.0 783.6 932.0 783.6 933.0 782.9 934.0 783.1 935.0 784.0 936.0 783.4 937.0 782.9 938.0 782.6 939.0 783.5 940.0 781.5 941.0 779.7 942.0 778.9 943.0 778.1 944.0 779.2 945.0 781.1 946.0 781.4 947.0 782.2 948.0 782.3 949.0 784.2 950.0 782.7 951.0 783.0 952.0 784.0 953.0 782.7 954.0 784.0 955.0 782.3 956.0 783.6 957.0 784.0 958.0 782.9 959.0 782.8 960.0 782.2 961.0 780.1 962.0 777.2 963.0 775.5 964.0 777.4 965.0 778.6 966.0 781.1 967.0 782.0 968.0 782.4 969.0 784.1 970.0 783.1 971.0 782.6 972.0 783.5 973.0 782.9 974.0 784.1 975.0 783.7 976.0 783.9 977.0 783.1 978.0 781.2 979.0 778.5 980.0 777.3 981.0 777.5 982.0 780.4 983.0 781.9 984.0 783.0 985.0 782.6 986.0 782.7 987.0 782.6 988.0 782.9 989.0 782.6 990.0 783.0 991.0 782.8 992.0 783.0 993.0 782.9 994.0 784.3 995.0 783.4 996.0 784.4 997.0 783.8 998.0 783.4 999.0 782.8 1000.0 783.2 1001.0 783.1 1002.0 784.4 1003.0 783.4 1004.0 782.6 1005.0 784.5 1006.0 783.3 1007.0 784.1 1008.0 782.8 1009.0 782.7 1010.0 783.7 1011.0 784.1 1012.0 783.5 1013.0 782.4 1014.0 781.5 1015.0 779.4 1016.0 774.9 1017.0 768.5 1018.0 764.2 1019.0 766.9 1020.0 772.7 1021.0 777.2 1022.0 782.4 1023.0 782.8 1024.0 783.8 1025.0 783.1 1026.0 784.5 1027.0 782.9 1028.0 783.6 1029.0 783.9 1030.0 783.4 1031.0 783.3 1032.0 784.5 1033.0 784.2 1034.0 783.3 1035.0 783.1 1036.0 782.0 1037.0 780.7 1038.0 777.6 1039.0 774.7 1040.0 773.2 1041.0 774.5 1042.0 775.9 1043.0 780.4 1044.0 782.7 1045.0 782.5 1046.0 782.4 1047.0 780.9 1048.0 778.0 1049.0 776.8 1050.0 776.8 1051.0 778.7 1052.0 782.2 1053.0 783.4 1054.0 784.1 1055.0 784.2 1056.0 784.5 1057.0 783.5 1058.0 784.6 1059.0 783.1 1060.0 783.5 1061.0 783.2 1062.0 783.8 1063.0 783.8 1064.0 783.7 1065.0 782.9 1066.0 783.9 1067.0 784.5 1068.0 783.7 1069.0 783.4 1070.0 782.8 1071.0 784.5 1072.0 782.9 1073.0 783.4 1074.0 783.3 1075.0 784.2 1076.0 782.9 1077.0 783.5 1078.0 783.3 1079.0 782.8 1080.0 781.9 1081.0 781.1 1082.0 779.8 1083.0 779.8 1084.0 780.9 1085.0 781.9 1086.0 782.5 1087.0 782.9 1088.0 783.2 1089.0 783.2 1090.0 783.1 1091.0 784.6 1092.0 784.3 1093.0 783.5 1094.0 783.0 1095.0 784.3 1096.0 783.7 1097.0 783.3 1098.0 784.4 1099.0 784.4 1100.0 783.8 1101.0 780.8 1102.0 780.0 1103.0 780.7 1104.0 779.7 1105.0 782.3 1106.0 782.5 1107.0 783.8 1108.0 784.1 1109.0 784.3 1110.0 784.8 1111.0 783.2 1112.0 783.3 1113.0 783.2 1114.0 783.2 1115.0 783.4 1116.0 781.3 1117.0 780.3 1118.0 779.1 1119.0 778.8 1120.0 779.5 1121.0 782.5 1122.0 782.5 1123.0 783.3 1124.0 785.0 1125.0 783.3 1126.0 783.5 1127.0 784.9 1128.0 783.6 1129.0 785.0 1130.0 783.6 1131.0 783.2 1132.0 783.1 1133.0 783.2 1134.0 783.3 1135.0 783.4 1136.0 784.3 1137.0 783.3 1138.0 785.0 1139.0 783.3 1140.0 784.4 1141.0 784.7 1142.0 784.8 1143.0 784.1 1144.0 783.6 1145.0 783.9 1146.0 784.2 1147.0 784.2 1148.0 783.8 1149.0 782.6 1150.0 782.0 1151.0 778.5 1152.0 773.4 1153.0 766.0 1154.0 765.6 1155.0 768.8 1156.0 774.8 1157.0 779.7 1158.0 782.7 1159.0 784.4 1160.0 784.1 1161.0 784.8 1162.0 785.1 1163.0 783.6 1164.0 782.2 1165.0 782.0 1166.0 780.5 1167.0 777.4 1168.0 777.7 1169.0 779.8 1170.0 782.2 1171.0 782.8 1172.0 784.9 1173.0 783.3 1174.0 784.2 1175.0 785.0 1176.0 784.8 1177.0 784.8 1178.0 784.4 1179.0 784.8 1180.0 783.1 1181.0 783.3 1182.0 783.1 1183.0 781.9 1184.0 780.0 1185.0 780.0 1186.0 781.8 1187.0 782.6 1188.0 783.6 1189.0 783.1 1190.0 785.1 1191.0 783.6 1192.0 784.1 1193.0 784.2 1194.0 785.3 1195.0 784.5 1196.0 785.3 1197.0 785.0 1198.0 785.2 1199.0 784.8 1200.0 784.0 1201.0 784.8 1202.0 784.3 1203.0 784.4 1204.0 785.0 1205.0 783.9 1206.0 784.7 1207.0 783.4 1208.0 784.2 1209.0 784.4 1210.0 783.5 1211.0 783.5 1212.0 783.8 1213.0 784.6 1214.0 784.9 1215.0 784.0 1216.0 784.3 1217.0 784.2 1218.0 784.0 1219.0 784.7 1220.0 783.0 1221.0 781.5 1222.0 780.6 1223.0 779.7 1224.0 781.0 1225.0 783.3 1226.0 783.9 1227.0 784.2 1228.0 784.9 1229.0 783.7 1230.0 784.4 1231.0 783.5 1232.0 784.0 1233.0 784.9 1234.0 784.0 1235.0 784.9 1236.0 783.5 1237.0 784.5 1238.0 784.3 1239.0 784.1 1240.0 784.6 1241.0 784.9 1242.0 785.2 1243.0 784.6 1244.0 783.6 1245.0 783.9 1246.0 784.5 1247.0 785.3 1248.0 783.9 1249.0 783.6 1250.0 785.0 1251.0 782.7 1252.0 781.6 1253.0 781.0 1254.0 781.1 1255.0 782.4 1256.0 782.6 1257.0 785.0 1258.0 784.1 1259.0 783.8 1260.0 784.6 1261.0 784.4 1262.0 783.7 1263.0 785.5 1264.0 783.6 1265.0 784.7 1266.0 784.3 1267.0 785.6 1268.0 783.7 1269.0 785.4 1270.0 783.6 1271.0 784.7 1272.0 784.7 1273.0 783.8 1274.0 785.6 1275.0 785.4 1276.0 785.3 1277.0 785.2 1278.0 785.0 1279.0 784.0 1280.0 785.3 1281.0 785.1 1282.0 784.6 1283.0 783.7 1284.0 785.0 1285.0 784.4 1286.0 785.5 1287.0 783.8 1288.0 784.0 1289.0 783.8 1290.0 783.8 1291.0 784.0 1292.0 784.1 1293.0 784.6 1294.0 784.9 1295.0 785.1 1296.0 785.1 1297.0 784.5 1298.0 783.0 1299.0 779.7 1300.0 778.9 1301.0 776.4 1302.0 779.6 1303.0 780.7 1304.0 782.9 1305.0 784.1 1306.0 783.8 1307.0 785.2 1308.0 784.0 1309.0 785.1 1310.0 785.4 1311.0 784.1 1312.0 785.3 1313.0 785.6 1314.0 784.1 1315.0 784.3 1316.0 784.5 1317.0 785.0 1318.0 784.6 1319.0 785.4 1320.0 785.0 1321.0 784.8 1322.0 785.8 1323.0 785.6 1324.0 783.8 1325.0 785.8 1326.0 784.8 1327.0 785.5 1328.0 784.5 1329.0 784.4 1330.0 785.0 1331.0 785.5 1332.0 785.3 1333.0 785.6 1334.0 785.8 1335.0 783.9 1336.0 783.9 1337.0 785.6 1338.0 784.0 1339.0 784.3 1340.0 782.8 1341.0 782.5 1342.0 782.8 1343.0 782.6 1344.0 783.6 1345.0 785.2 1346.0 784.8 1347.0 783.9 1348.0 784.5 1349.0 785.0 1350.0 785.0 1351.0 785.0 1352.0 784.9 1353.0 784.5 1354.0 784.0 1355.0 785.8 1356.0 784.9 1357.0 784.4 1358.0 784.1 1359.0 785.7 1360.0 785.8 1361.0 785.7 1362.0 785.3 1363.0 784.3 1364.0 784.2 1365.0 784.2 1366.0 785.0 1367.0 784.6 1368.0 785.4 1369.0 785.7 1370.0 785.4 1371.0 786.0 1372.0 784.6 1373.0 785.5 1374.0 785.9 1375.0 786.0 1376.0 784.8 1377.0 785.2 1378.0 784.2 1379.0 785.1 1380.0 785.6 1381.0 785.0 1382.0 784.1 1383.0 785.2 1384.0 785.4 1385.0 784.4 1386.0 785.0 1387.0 785.8 1388.0 786.1 1389.0 786.0 1390.0 786.0 1391.0 784.3 1392.0 784.5 1393.0 784.3 1394.0 784.5 1395.0 784.4 1396.0 786.0 1397.0 784.1 1398.0 785.1 1399.0 784.0 1400.0 783.4 1401.0 783.5 1402.0 781.8 1403.0 782.8 1404.0 783.2 1405.0 785.3 1406.0 784.3 1407.0 785.8 1408.0 785.9 1409.0 785.0 1410.0 784.5 1411.0 785.7 1412.0 785.4 1413.0 785.2 1414.0 784.2 1415.0 784.8 1416.0 785.4 1417.0 785.8 1418.0 785.5 1419.0 784.9 1420.0 786.1 1421.0 786.0 1422.0 786.1 1423.0 784.8 1424.0 784.3 1425.0 785.7 1426.0 785.6 1427.0 784.5 1428.0 784.7 1429.0 785.3 1430.0 785.4 1431.0 785.1 1432.0 785.1 1433.0 786.2 1434.0 786.0 1435.0 784.8 1436.0 784.7 1437.0 784.9 1438.0 784.4 1439.0 785.3 1440.0 786.2 1441.0 785.8 1442.0 784.4 1443.0 785.8 1444.0 784.5 1445.0 784.9 1446.0 785.2 1447.0 785.0 1448.0 784.2 1449.0 785.6 1450.0 784.2 1451.0 784.2 1452.0 783.2 1453.0 783.4 1454.0 784.2 1455.0 785.2 1456.0 786.2 1457.0 786.0 1458.0 786.0 1459.0 784.5 1460.0 784.6 1461.0 785.3 1462.0 786.0 1463.0 784.6 1464.0 785.9 1465.0 784.9 1466.0 784.5 1467.0 786.1 1468.0 784.9 1469.0 785.3 1470.0 786.0 1471.0 785.0 1472.0 785.4 1473.0 785.8 1474.0 784.9 1475.0 786.4 1476.0 785.7 1477.0 784.8 1478.0 786.2 1479.0 785.9 1480.0 784.6 1481.0 785.5 1482.0 784.9 1483.0 785.7 1484.0 785.5 1485.0 784.9 1486.0 786.0 1487.0 784.8 1488.0 786.1 1489.0 785.6 1490.0 786.1 1491.0 784.7 1492.0 784.7 1493.0 785.0 1494.0 786.1 1495.0 785.3 1496.0 785.8 1497.0 785.1 1498.0 785.3 1499.0 785.7 1500.0 785.0 1501.0 785.4 1502.0 786.3 1503.0 786.1 1504.0 785.7 1505.0 786.2 1506.0 786.6 1507.0 786.6 1508.0 785.8 1509.0 785.6 1510.0 786.1 1511.0 786.6 1512.0 786.5 1513.0 785.5 1514.0 785.9 1515.0 785.0 1516.0 785.8 1517.0 786.6 1518.0 785.1 1519.0 785.4 1520.0 784.7 1521.0 785.1 1522.0 786.2 1523.0 784.9 1524.0 785.0 1525.0 786.1 1526.0 785.5 1527.0 785.6 1528.0 786.0 1529.0 786.3 1530.0 784.7 1531.0 785.8 1532.0 786.6 1533.0 784.9 1534.0 784.8 1535.0 786.6 1536.0 784.7" stroke="#00ff00" stroke-width="8" fill="none" stroke-linejoin="round"/><path d="M188.0 643.5 189.0 645.3 190.0 645.1 191.0 645.5 192.0 644.3 193.0 643.8 194.0 644.6 195.0 644.5 196.0 645.0 197.0 645.6 198.0 643.9 199.0 643.7 200.0 644.4 201.0 645.0 202.0 644.5 203.0 645.0 204.0 645.2 205.0 643.5 206.0 643.5 207.0 639.7 208.0 634.1 209.0 626.6 210.0 621.2 211.0 624.1 212.0 630.3 213.0 637.4 214.0 643.2 215.0 643.7 216.0 644.6 217.0 644.3 218.0 644.0 219.0 645.6 220.0 645.2 221.0 644.6 222.0 645.8 223.0 645.8 224.0 645.8 225.0 645.7 226.0 645.7 227.0 646.0 228.0 644.2 229.0 645.6 230.0 644.6 231.0 644.8 232.0 644.6 233.0 645.0 234.0 644.5 235.0 645.5 236.0 645.4 237.0 644.3 238.0 644.9 239.0 645.5 240.0 645.9 241.0 645.0 242.0 645.7 243.0 645.2 244.0 645.2 245.0 645.8 246.0 645.2 247.0 645.7 248.0 645.0 249.0 645.8 250.0 645.1 251.0 646.1 252.0 645.4 253.0 644.6 254.0 646.5 255.0 644.6 256.0 645.0 257.0 645.8 258.0 645.2 259.0 645.5 260.0 645.2 261.0 645.1 262.0 645.7 263.0 645.4 264.0 646.1 265.0 645.1 266.0 645.0 267.0 644.5 268.0 642.0 269.0 638.8 270.0 630.5 271.0 624.4 272.0 622.4 273.0 628.1 274.0 636.2 275.0 641.9 276.0 644.9 277.0 644.7 278.0 645.2 279.0 645.7 280.0 646.4 281.0 645.4 282.0 646.0 283.0 644.1 284.0 644.4 285.0 642.7 286.0 643.9 287.0 643.7 288.0 645.5 289.0 645.8 290.0 646.4 291.0 645.2 292.0 645.2 293.0 645.5 294.0 647.1 295.0 645.3 296.0 645.7 297.0 646.2 298.0 646.9 299.0 646.0 300.0 646.4 301.0 646.3 302.0 646.5 303.0 646.4 304.0 646.1 305.0 646.1 306.0 647.3 307.0 645.5 308.0 646.5 309.0 646.6 310.0 646.2 311.0 646.2 312.0 646.1 313.0 646.6 314.0 646.5 315.0 646.5 316.0 646.8 317.0 647.4 318.0 647.3 319.0 647.3 320.0 647.2 321.0 646.1 322.0 645.7 323.0 647.4 324.0 646.6 325.0 646.8 326.0 645.1 327.0 645.5 328.0 645.8 329.0 645.7 330.0 646.7 331.0 645.8 332.0 646.6 333.0 646.0 334.0 646.2 335.0 646.6 336.0 647.0 337.0 646.1 338.0 645.9 339.0 647.3 340.0 646.4 341.0 647.1 342.0 645.7 343.0 643.3 344.0 638.0 345.0 628.5 346.0 618.2 347.0 614.6 348.0 620.7 349.0 632.1 350.0 639.5 351.0 645.2 352.0 645.6 353.0 646.7 354.0 646.9 355.0 648.0 356.0 647.3 357.0 647.0 358.0 646.2 359.0 647.4 360.0 647.2 361.0 648.0 362.0 647.1 363.0 647.6 364.0 647.0 365.0 647.3 366.0 647.2 367.0 647.8 368.0 647.1 369.0 648.3 370.0 647.5 371.0 647.1 372.0 647.7 373.0 646.8 374.0 646.6 375.0 646.9 376.0 647.3 377.0 648.0 378.0 646.6 379.0 646.8 380.0 648.0 381.0 647.1 382.0 648.1 383.0 648.1 384.0 647.2 385.0 647.5 386.0 646.7 387.0 647.8 388.0 648.0 389.0 648.2 390.0 647.1 391.0 647.8 392.0 647.8 393.0 646.8 394.0 647.5 395.0 648.5 396.0 648.0 397.0 647.4 398.0 647.3 399.0 648.6 400.0 647.8 401.0 647.0 402.0 647.2 403.0 648.3 404.0 648.3 405.0 647.5 406.0 648.1 407.0 647.6 408.0 647.6 409.0 648.8 410.0 648.6 411.0 648.8 412.0 647.4 413.0 648.3 414.0 648.4 415.0 647.7 416.0 648.7 417.0 647.9 418.0 646.0 419.0 646.3 420.0 647.3 421.0 646.9 422.0 647.0 423.0 647.4 424.0 649.1 425.0 648.7 426.0 648.3 427.0 648.3 428.0 648.8 429.0 649.0 430.0 649.0 431.0 649.1 432.0 648.3 433.0 648.6 434.0 649.3 435.0 648.6 436.0 647.9 437.0 648.5 438.0 648.3 439.0 648.8 440.0 648.7 441.0 648.6 442.0 649.2 443.0 648.5 444.0 648.0 445.0 649.1 446.0 647.9 447.0 647.7 448.0 647.7 449.0 649.0 450.0 648.6 451.0 649.5 452.0 648.6 453.0 648.4 454.0 646.8 455.0 645.5 456.0 647.6 457.0 648.1 458.0 648.9 459.0 648.9 460.0 648.4 461.0 648.8 462.0 648.4 463.0 649.0 464.0 648.8 465.0 649.0 466.0 649.4 467.0 648.9 468.0 648.4 469.0 649.7 470.0 649.6 471.0 649.6 472.0 649.8 473.0 650.0 474.0 648.1 475.0 648.6 476.0 649.6 477.0 648.2 478.0 649.2 479.0 648.5 480.0 649.8 481.0 649.1 482.0 648.5 483.0 648.5 484.0 649.0 485.0 648.3 486.0 649.3 487.0 650.2 488.0 648.8 489.0 649.4 490.0 648.9 491.0 649.8 492.0 649.1 493.0 649.8 494.0 649.5 495.0 650.2 496.0 650.4 497.0 649.1 498.0 649.1 499.0 648.4 500.0 648.5 501.0 649.2 502.0 650.5 503.0 649.3 504.0 649.1 505.0 649.0 506.0 650.3 507.0 650.6 508.0 649.9 509.0 649.0 510.0 649.8 511.0 648.9 512.0 649.1 513.0 649.1 514.0 649.3 515.0 649.0 516.0 649.7 517.0 650.7 518.0 649.9 519.0 649.5 520.0 650.6 521.0 648.9 522.0 648.9 523.0 649.7 524.0 650.5 525.0 649.2 526.0 649.1 527.0 650.0 528.0 650.8 529.0 650.0 530.0 650.4 531.0 650.3 532.0 650.2 533.0 650.3 534.0 649.6 535.0 650.1 536.0 650.9 537.0 649.1 538.0 649.0 539.0 648.9 540.0 646.9 541.0 643.2 542.0 635.5 543.0 627.6 544.0 625.8 545.0 629.8 546.0 638.9 547.0 645.4 548.0 647.7 549.0 650.7 550.0 649.8 551.0 651.2 552.0 650.3 553.0 649.7 554.0 649.4 555.0 650.8 556.0 649.2 557.0 648.0 558.0 648.1 559.0 646.8 560.0 645.4 561.0 647.1 562.0 647.6 563.0 649.6 564.0 649.7 565.0 650.7 566.0 651.4 567.0 649.8 568.0 649.9 569.0 650.1 570.0 650.1 571.0 651.2 572.0 650.3 573.0 649.8 574.0 650.0 575.0 649.8 576.0 651.6 577.0 650.3 578.0 651.6 579.0 651.0 580.0 650.9 581.0 650.0 582.0 650.5 583.0 649.7 584.0 649.9 585.0 646.6 586.0 636.7 587.0 622.8 588.0 606.9 589.0 601.5 590.0 609.4 591.0 626.3 592.0 640.2 593.0 646.9 594.0 650.2 595.0 651.4 596.0 650.2 597.0 650.2 598.0 650.2 599.0 651.1 600.0 651.5 601.0 651.8 602.0 651.3 603.0 651.9 604.0 650.3 605.0 650.6 606.0 651.6 607.0 650.2 608.0 651.7 609.0 651.6 610.0 650.6 611.0 650.4 612.0 650.9 613.0 650.7 614.0 651.3 615.0 652.0 616.0 650.7 617.0 651.2 618.0 651.6 619.0 650.8 620.0 652.2 621.0 652.3 622.0 651.1 623.0 652.3 624.0 651.5 625.0 651.0 626.0 649.8 627.0 649.2 628.0 646.1 629.0 642.7 630.0 642.1 631.0 644.7 632.0 646.9 633.0 649.1 634.0 650.4 635.0 651.8 636.0 652.1 637.0 651.1 638.0 651.2 639.0 651.7 640.0 652.6 641.0 651.9 642.0 651.7 643.0 652.2 644.0 651.6 645.0 652.1 646.0 652.0 647.0 652.5 648.0 651.8 649.0 652.2 650.0 651.8 651.0 651.6 652.0 651.0 653.0 652.7 654.0 651.2 655.0 651.9 656.0 652.1 657.0 648.6 658.0 639.3 659.0 619.6 660.0 585.8 661.0 557.8 662.0 550.7 663.0 574.3 664.0 607.5 665.0 632.3 666.0 645.2 667.0 651.5 668.0 652.5 669.0 652.5 670.0 651.6 671.0 652.8 672.0 652.1 673.0 651.4 674.0 652.3 675.0 652.7 676.0 651.5 677.0 651.8 678.0 649.7 679.0 648.7 680.0 646.4 681.0 648.6 682.0 650.0 683.0 650.9 684.0 652.3 685.0 651.5 686.0 652.7 687.0 653.1 688.0 652.9 689.0 651.6 690.0 650.1 691.0 647.3 692.0 641.5 693.0 637.6 694.0 637.3 695.0 641.8 696.0 646.8 697.0 649.4 698.0 652.4 699.0 653.3 700.0 652.6 701.0 652.3 702.0 652.8 703.0 652.0 704.0 650.5 705.0 649.8 706.0 647.6 707.0 648.7 708.0 648.2 709.0 651.3 710.0 652.5 711.0 653.2 712.0 652.6 713.0 652.2 714.0 652.4 715.0 652.7 716.0 652.5 717.0 652.5 718.0 651.9 719.0 653.6 720.0 652.6 721.0 653.0 722.0 652.9 723.0 653.2 724.0 652.2 725.0 653.9 726.0 652.7 727.0 652.5 728.0 652.1 729.0 653.4 730.0 653.1 731.0 651.6 732.0 645.8 733.0 634.5 734.0 613.8 735.0 594.6 736.0 589.0 737.0 602.6 738.0 621.9 739.0 639.6 740.0 648.4 741.0 651.5 742.0 652.6 743.0 652.4 744.0 653.8 745.0 652.6 746.0 654.3 747.0 653.1 748.0 653.5 749.0 652.6 750.0 652.9 751.0 652.2 752.0 650.6 753.0 649.7 754.0 651.1 755.0 651.8 756.0 652.9 757.0 654.0 758.0 652.9 759.0 653.0 760.0 654.1 761.0 651.7 762.0 650.7 763.0 647.6 764.0 646.6 765.0 648.1 766.0 649.1 767.0 651.3 768.0 653.0 769.0 654.0 770.0 652.9 771.0 653.2 772.0 654.7 773.0 653.2 774.0 654.7 775.0 653.8 776.0 654.7 777.0 654.6 778.0 654.8 779.0 654.2 780.0 654.3 781.0 654.4 782.0 653.6 783.0 653.1 784.0 653.0 785.0 653.9 786.0 654.6 787.0 654.8 788.0 654.9 789.0 654.6 790.0 654.3 791.0 653.5 792.0 654.8 793.0 654.4 794.0 654.0 795.0 655.1 796.0 654.0 797.0 654.9 798.0 654.8 799.0 653.8 800.0 653.4 801.0 651.8 802.0 653.2 803.0 653.3 804.0 653.6 805.0 654.0 806.0 654.9 807.0 654.7 808.0 654.1 809.0 653.4 810.0 654.7 811.0 654.0 812.0 653.5 813.0 654.6 814.0 655.0 815.0 654.4 816.0 654.0 817.0 654.4 818.0 654.8 819.0 654.4 820.0 655.2 821.0 654.1 822.0 655.3 823.0 654.7 824.0 654.0 825.0 654.2 826.0 654.0 827.0 655.0 828.0 654.0 829.0 654.1 830.0 655.6 831.0 653.8 832.0 654.8 833.0 654.0 834.0 654.6 835.0 654.1 836.0 655.0 837.0 654.4 838.0 653.9 839.0 655.3 840.0 655.1 841.0 654.0 842.0 655.1 843.0 655.6 844.0 654.8 845.0 654.2 846.0 654.8 847.0 655.8 848.0 654.9 849.0 654.5 850.0 654.9 851.0 655.2 852.0 655.8 853.0 656.0 854.0 654.3 855.0 654.4 856.0 653.8 857.0 652.2 858.0 650.6 859.0 649.4 860.0 650.2 861.0 650.8 862.0 654.4 863.0 654.9 864.0 654.1 865.0 656.0 866.0 655.5 867.0 655.8 868.0 655.1 869.0 655.4 870.0 655.2 871.0 655.7 872.0 654.9 873.0 655.9 874.0 656.1 875.0 655.7 876.0 654.6 877.0 654.9 878.0 655.1 879.0 655.2 880.0 655.1 881.0 656.0 882.0 654.5 883.0 653.7 884.0 652.8 885.0 649.9 886.0 647.8 887.0 647.3 888.0 649.2 889.0 652.6 890.0 654.4 891.0 654.4 892.0 655.8 893.0 656.1 894.0 656.3 895.0 654.9 896.0 654.9 897.0 654.6 898.0 653.1 899.0 650.5 900.0 650.6 901.0 650.5 902.0 651.1 903.0 653.7 904.0 655.1 905.0 654.4 906.0 655.9 907.0 656.5 908.0 656.2 909.0 655.3 910.0 656.5 911.0 655.7 912.0 654.7 913.0 655.5 914.0 656.0 915.0 655.8 916.0 656.2 917.0 655.8 918.0 655.5 919.0 656.5 920.0 655.3 921.0 655.9 922.0 655.7 923.0 656.6 924.0 655.4 925.0 654.8 926.0 655.2 927.0 655.4 928.0 656.6 929.0 656.2 930.0 655.0 931.0 656.2 932.0 655.1 933.0 655.0 934.0 656.5 935.0 655.6 936.0 656.4 937.0 655.8 938.0 654.8 939.0 655.6 940.0 653.9 941.0 653.0 942.0 651.7 943.0 651.5 944.0 651.3 945.0 652.9 946.0 654.2 947.0 655.2 948.0 655.2 949.0 656.7 950.0 656.3 951.0 655.3 952.0 654.9 953.0 654.9 954.0 655.5 955.0 655.6 956.0 655.0 957.0 656.7 958.0 655.1 959.0 656.2 960.0 655.5 961.0 653.8 962.0 650.6 963.0 648.8 964.0 650.0 965.0 651.6 966.0 654.0 967.0 654.9 968.0 654.7 969.0 656.8 970.0 656.0 971.0 655.7 972.0 656.8 973.0 656.6 974.0 656.2 975.0 655.1 976.0 656.1 977.0 655.2 978.0 652.9 979.0 652.9 980.0 649.9 981.0 650.9 982.0 652.4 983.0 653.1 984.0 655.6 985.0 655.0 986.0 656.4 987.0 655.8 988.0 656.2 989.0 655.4 990.0 655.1 991.0 655.3 992.0 656.4 993.0 656.2 994.0 655.3 995.0 655.8 996.0 655.4 997.0 656.0 998.0 656.0 999.0 656.3 1000.0 655.5 1001.0 656.3 1002.0 656.6 1003.0 655.1 1004.0 655.7 1005.0 656.8 1006.0 656.7 1007.0 656.1 1008.0 656.6 1009.0 656.9 1010.0 656.8 1011.0 656.1 1012.0 656.2 1013.0 656.3 1014.0 654.7 1015.0 652.9 1016.0 648.9 1017.0 642.4 1018.0 637.5 1019.0 637.3 1020.0 642.5 1021.0 648.8 1022.0 653.3 1023.0 654.7 1024.0 655.2 1025.0 655.4 1026.0 657.0 1027.0 655.5 1028.0 656.1 1029.0 655.5 1030.0 657.2 1031.0 655.9 1032.0 655.3 1033.0 655.6 1034.0 656.9 1035.0 656.8 1036.0 656.5 1037.0 655.3 1038.0 651.5 1039.0 647.9 1040.0 646.5 1041.0 644.6 1042.0 649.2 1043.0 651.5 1044.0 654.7 1045.0 655.5 1046.0 655.6 1047.0 653.8 1048.0 651.0 1049.0 650.2 1050.0 651.0 1051.0 652.2 1052.0 652.9 1053.0 655.8 1054.0 655.0 1055.0 655.3 1056.0 656.8 1057.0 656.5 1058.0 655.7 1059.0 657.3 1060.0 655.6 1061.0 655.8 1062.0 656.6 1063.0 656.0 1064.0 656.0 1065.0 656.6 1066.0 655.4 1067.0 656.2 1068.0 656.0 1069.0 655.5 1070.0 657.1 1071.0 655.6 1072.0 656.0 1073.0 655.9 1074.0 656.4 1075.0 656.3 1076.0 656.8 1077.0 655.9 1078.0 656.1 1079.0 656.4 1080.0 655.7 1081.0 653.2 1082.0 653.2 1083.0 652.3 1084.0 653.4 1085.0 653.9 1086.0 656.7 1087.0 656.0 1088.0 656.2 1089.0 657.4 1090.0 655.5 1091.0 656.2 1092.0 657.2 1093.0 655.6 1094.0 656.4 1095.0 657.1 1096.0 656.4 1097.0 656.3 1098.0 656.3 1099.0 656.8 1100.0 655.2 1101.0 654.2 1102.0 654.0 1103.0 652.2 1104.0 653.6 1105.0 654.8 1106.0 654.6 1107.0 656.6 1108.0 656.5 1109.0 656.6 1110.0 655.6 1111.0 656.9 1112.0 655.7 1113.0 656.2 1114.0 656.3 1115.0 656.2 1116.0 655.6 1117.0 653.8 1118.0 651.8 1119.0 650.6 1120.0 652.0 1121.0 653.8 1122.0 655.4 1123.0 656.3 1124.0 657.0 1125.0 655.7 1126.0 657.2 1127.0 656.2 1128.0 656.7 1129.0 657.5 1130.0 657.0 1131.0 656.3 1132.0 656.0 1133.0 657.3 1134.0 657.4 1135.0 657.0 1136.0 656.4 1137.0 657.2 1138.0 657.1 1139.0 657.0 1140.0 657.2 1141.0 657.3 1142.0 656.6 1143.0 656.8 1144.0 657.4 1145.0 657.5 1146.0 656.0 1147.0 656.0 1148.0 656.5 1149.0 656.5 1150.0 655.2 1151.0 652.9 1152.0 646.4 1153.0 640.7 1154.0 638.3 1155.0 640.3 1156.0 645.2 1157.0 651.9 1158.0 654.8 1159.0 656.5 1160.0 656.5 1161.0 657.3 1162.0 657.7 1163.0 657.5 1164.0 655.3 1165.0 655.1 1166.0 653.7 1167.0 651.3 1168.0 650.6 1169.0 651.5 1170.0 654.5 1171.0 655.5 1172.0 655.6 1173.0 655.8 1174.0 656.2 1175.0 657.3 1176.0 656.3 1177.0 656.3 1178.0 656.0 1179.0 656.6 1180.0 656.1 1181.0 656.9 1182.0 655.0 1183.0 654.4 1184.0 652.8 1185.0 653.7 1186.0 654.0 1187.0 655.1 1188.0 656.4 1189.0 656.1 1190.0 656.7 1191.0 657.0 1192.0 657.9 1193.0 656.4 1194.0 656.0 1195.0 657.5 1196.0 656.4 1197.0 656.6 1198.0 656.9 1199.0 656.2 1200.0 657.7 1201.0 656.3 1202.0 657.1 1203.0 656.6 1204.0 657.1 1205.0 656.8 1206.0 656.9 1207.0 656.9 1208.0 657.9 1209.0 656.7 1210.0 656.3 1211.0 658.0 1212.0 657.9 1213.0 656.4 1214.0 656.7 1215.0 657.3 1216.0 657.4 1217.0 657.4 1218.0 657.8 1219.0 656.7 1220.0 656.3 1221.0 653.7 1222.0 654.1 1223.0 652.6 1224.0 652.9 1225.0 655.4 1226.0 656.6 1227.0 656.2 1228.0 656.2 1229.0 656.4 1230.0 657.5 1231.0 657.0 1232.0 657.5 1233.0 656.3 1234.0 657.2 1235.0 657.9 1236.0 658.0 1237.0 657.9 1238.0 657.5 1239.0 657.0 1240.0 656.2 1241.0 656.3 1242.0 656.3 1243.0 657.6 1244.0 656.8 1245.0 657.8 1246.0 656.3 1247.0 656.9 1248.0 656.3 1249.0 657.2 1250.0 657.9 1251.0 655.9 1252.0 655.6 1253.0 655.1 1254.0 653.4 1255.0 654.8 1256.0 656.6 1257.0 657.3 1258.0 657.3 1259.0 656.2 1260.0 657.7 1261.0 657.4 1262.0 656.9 1263.0 658.1 1264.0 657.8 1265.0 656.8 1266.0 657.9 1267.0 658.1 1268.0 658.1 1269.0 657.7 1270.0 658.3 1271.0 657.4 1272.0 657.8 1273.0 656.4 1274.0 658.0 1275.0 658.3 1276.0 656.4 1277.0 657.2 1278.0 656.7 1279.0 658.1 1280.0 657.0 1281.0 656.9 1282.0 656.8 1283.0 656.8 1284.0 657.8 1285.0 657.9 1286.0 657.9 1287.0 656.6 1288.0 657.1 1289.0 657.4 1290.0 657.0 1291.0 658.3 1292.0 657.1 1293.0 658.2 1294.0 658.1 1295.0 658.4 1296.0 658.2 1297.0 656.3 1298.0 656.7 1299.0 654.1 1300.0 651.1 1301.0 650.8 1302.0 649.6 1303.0 653.5 1304.0 656.1 1305.0 657.4 1306.0 656.7 1307.0 657.9 1308.0 658.1 1309.0 656.7 1310.0 656.6 1311.0 656.8 1312.0 657.3 1313.0 657.8 1314.0 657.4 1315.0 657.2 1316.0 657.1 1317.0 656.7 1318.0 656.9 1319.0 657.3 1320.0 657.6 1321.0 657.5 1322.0 657.0 1323.0 658.3 1324.0 657.7 1325.0 657.5 1326.0 657.4 1327.0 658.3 1328.0 657.9 1329.0 657.6 1330.0 656.8 1331.0 657.9 1332.0 657.7 1333.0 658.3 1334.0 657.7 1335.0 656.8 1336.0 657.1 1337.0 657.7 1338.0 656.4 1339.0 657.0 1340.0 655.3 1341.0 655.4 1342.0 655.6 1343.0 656.0 1344.0 656.5 1345.0 656.7 1346.0 657.2 1347.0 658.3 1348.0 657.7 1349.0 658.3 1350.0 656.9 1351.0 658.0 1352.0 656.9 1353.0 657.5 1354.0 657.8 1355.0 658.1 1356.0 658.1 1357.0 657.4 1358.0 657.7 1359.0 658.2 1360.0 658.6 1361.0 658.1 1362.0 657.9 1363.0 656.9 1364.0 657.5 1365.0 657.7 1366.0 657.2 1367.0 657.9 1368.0 658.0 1369.0 657.3 1370.0 658.4 1371.0 657.9 1372.0 658.3 1373.0 657.5 1374.0 657.6 1375.0 658.0 1376.0 657.3 1377.0 658.5 1378.0 658.5 1379.0 658.1 1380.0 658.1 1381.0 657.2 1382.0 658.8 1383.0 658.1 1384.0 657.4 1385.0 658.2 1386.0 656.9 1387.0 658.3 1388.0 657.6 1389.0 656.8 1390.0 657.6 1391.0 656.9 1392.0 658.0 1393.0 657.0 1394.0 658.2 1395.0 658.4 1396.0 656.9 1397.0 657.6 1398.0 657.1 1399.0 657.7 1400.0 656.2 1401.0 655.9 1402.0 655.1 1403.0 656.3 1404.0 655.8 1405.0 657.1 1406.0 657.9 1407.0 658.7 1408.0 657.8 1409.0 657.4 1410.0 657.3 1411.0 657.9 1412.0 658.7 1413.0 657.2 1414.0 657.7 1415.0 658.9 1416.0 657.9 1417.0 658.6 1418.0 657.1 1419.0 657.6 1420.0 658.0 1421.0 657.3 1422.0 657.7 1423.0 658.1 1424.0 657.8 1425.0 657.1 1426.0 657.7 1427.0 657.8 1428.0 657.2 1429.0 657.3 1430.0 658.1 1431.0 658.9 1432.0 658.6 1433.0 657.9 1434.0 659.0 1435.0 657.8 1436.0 658.7 1437.0 659.0 1438.0 657.5 1439.0 657.4 1440.0 658.2 1441.0 657.8 1442.0 658.4 1443.0 657.4 1444.0 657.3 1445.0 658.8 1446.0 657.1 1447.0 657.9 1448.0 657.6 1449.0 657.1 1450.0 657.4 1451.0 655.5 1452.0 655.5 1453.0 655.8 1454.0 657.9 1455.0 656.7 1456.0 657.0 1457.0 657.5 1458.0 658.8 1459.0 658.3 1460.0 658.6 1461.0 658.9 1462.0 658.9 1463.0 658.9 1464.0 657.8 1465.0 657.3 1466.0 657.9 1467.0 657.5 1468.0 657.7 1469.0 658.3 1470.0 657.8 1471.0 658.8 1472.0 659.0 1473.0 657.8 1474.0 658.5 1475.0 658.4 1476.0 658.3 1477.0 658.7 1478.0 658.7 1479.0 657.9 1480.0 659.2 1481.0 658.0 1482.0 657.7 1483.0 658.3 1484.0 658.4 1485.0 658.1 1486.0 658.9 1487.0 658.7 1488.0 657.4 1489.0 658.0 1490.0 658.3 1491.0 658.7 1492.0 658.2 1493.0 659.2 1494.0 658.4 1495.0 658.4 1496.0 658.6 1497.0 659.2 1498.0 658.0 1499.0 658.8 1500.0 659.2 1501.0 658.1 1502.0 659.2 1503.0 657.6 1504.0 657.5 1505.0 657.4 1506.0 658.2 1507.0 657.4 1508.0 658.4 1509.0 658.0 1510.0 658.8 1511.0 658.4 1512.0 658.4 1513.0 657.6 1514.0 659.2 1515.0 658.6 1516.0 658.0 1517.0 658.3 1518.0 658.6 1519.0 657.9 1520.0 658.4 1521.0 659.2 1522.0 658.2 1523.0 658.3 1524.0 658.1 1525.0 657.7 1526.0 658.6 1527.0 657.7 1528.0 659.3 1529.0 658.9 1530.0 658.4 1531.0 659.2 1532.0 658.0 1533.0 659.1 1534.0 658.5 1535.0 657.9 1536.0 658.9" stroke="#0000ff" stroke-width="8" fill="none" stroke-linejoin="round"/><path d="M188.0 515.1 189.0 516.2 190.0 517.0 191.0 515.7 192.0 516.1 193.0 515.8 194.0 516.5 195.0 516.5 196.0 516.3 197.0 517.1 198.0 516.5 199.0 515.8 200.0 515.9 201.0 516.5 202.0 516.6 203.0 515.7 204.0 516.8 205.0 515.9 206.0 515.7 207.0 511.7 208.0 506.4 209.0 497.8 210.0 492.2 211.0 491.9 212.0 498.5 213.0 506.3 214.0 513.3 215.0 515.6 216.0 515.9 217.0 516.4 218.0 515.8 219.0 517.4 220.0 517.3 221.0 516.7 222.0 515.8 223.0 517.5 224.0 516.0 225.0 515.7 226.0 516.4 227.0 516.4 228.0 517.3 229.0 515.9 230.0 515.8 231.0 516.6 232.0 515.8 233.0 517.0 234.0 516.7 235.0 517.5 236.0 517.6 237.0 516.3 238.0 517.4 239.0 516.8 240.0 517.7 241.0 516.0 242.0 516.8 243.0 517.8 244.0 516.0 245.0 516.5 246.0 516.6 247.0 516.7 248.0 518.0 249.0 516.4 250.0 517.6 251.0 516.6 252.0 517.8 253.0 516.3 254.0 516.3 255.0 518.1 256.0 516.1 257.0 517.4 258.0 516.5 259.0 517.3 260.0 516.8 261.0 517.4 262.0 517.6 263.0 517.7 264.0 516.5 265.0 517.9 266.0 516.7 267.0 517.1 268.0 516.4 269.0 513.1 270.0 506.9 271.0 500.3 272.0 496.3 273.0 500.3 274.0 506.1 275.0 512.5 276.0 516.5 277.0 517.4 278.0 517.0 279.0 517.4 280.0 516.8 281.0 516.9 282.0 517.8 283.0 516.7 284.0 514.7 285.0 514.7 286.0 514.6 287.0 516.2 288.0 517.2 289.0 516.9 290.0 516.7 291.0 517.0 292.0 517.8 293.0 517.4 294.0 516.8 295.0 518.2 296.0 518.0 297.0 517.4 298.0 516.9 299.0 517.5 300.0 518.0 301.0 517.0 302.0 517.1 303.0 517.0 304.0 517.0 305.0 518.1 306.0 518.4 307.0 518.2 308.0 517.6 309.0 517.7 310.0 517.0 311.0 518.6 312.0 518.1 313.0 517.4 314.0 517.3 315.0 517.6 316.0 517.9 317.0 518.5 318.0 517.3 319.0 518.7 320.0 517.6 321.0 517.5 322.0 518.4 323.0 517.5 324.0 519.1 325.0 518.2 326.0 517.9 327.0 517.1 328.0 517.6 329.0 517.7 330.0 517.6 331.0 517.2 332.0 518.6 333.0 519.3 334.0 517.9 335.0 518.8 336.0 517.7 337.0 519.1 338.0 518.5 339.0 518.6 340.0 518.7 341.0 518.5 342.0 518.5 343.0 517.1 344.0 512.6 345.0 505.7 346.0 493.5 347.0 487.0 348.0 487.4 349.0 495.8 350.0 506.7 351.0 514.2 352.0 516.7 353.0 518.7 354.0 519.6 355.0 519.2 356.0 518.9 357.0 519.0 358.0 518.8 359.0 519.3 360.0 519.2 361.0 518.9 362.0 519.4 363.0 519.2 364.0 518.0 365.0 518.2 366.0 518.7 367.0 518.6 368.0 519.4 369.0 518.9 370.0 519.4 371.0 519.4 372.0 519.9 373.0 519.1 374.0 518.6 375.0 520.0 376.0 518.8 377.0 519.6 378.0 518.6 379.0 518.9 380.0 519.4 381.0 520.0 382.0 520.1 383.0 520.1 384.0 519.2 385.0 519.7 386.0 519.8 387.0 519.3 388.0 519.8 389.0 519.1 390.0 519.2 391.0 519.0 392.0 518.6 393.0 520.3 394.0 519.5 395.0 519.4 396.0 519.8 397.0 519.0 398.0 518.7 399.0 519.7 400.0 519.0 401.0 518.9 402.0 519.5 403.0 519.3 404.0 520.4 405.0 519.6 406.0 520.5 407.0 520.2 408.0 520.0 409.0 519.8 410.0 519.0 411.0 520.4 412.0 519.0 413.0 520.3 414.0 520.7 415.0 520.5 416.0 520.3 417.0 519.9 418.0 518.9 419.0 519.0 420.0 518.8 421.0 518.9 422.0 519.1 423.0 519.8 424.0 520.3 425.0 519.1 426.0 520.2 427.0 520.8 428.0 519.1 429.0 521.0 430.0 520.8 431.0 519.9 432.0 520.2 433.0 519.9 434.0 519.6 435.0 519.7 436.0 521.0 437.0 519.3 438.0 520.1 439.0 519.7 440.0 520.4 441.0 521.1 442.0 520.4 443.0 519.6 444.0 521.2 445.0 520.1 446.0 521.0 447.0 521.1 448.0 519.9 449.0 519.6 450.0 521.2 451.0 521.0 452.0 519.6 453.0 520.5 454.0 519.7 455.0 517.8 456.0 517.3 457.0 518.7 458.0 518.9 459.0 519.4 460.0 519.3 461.0 520.1 462.0 519.6 463.0 519.6 464.0 520.0 465.0 520.6 466.0 520.8 467.0 520.3 468.0 520.1 469.0 520.7 470.0 520.9 471.0 520.5 472.0 520.7 473.0 520.9 474.0 521.7 475.0 519.9 476.0 521.5 477.0 521.4 478.0 520.6 479.0 521.1 480.0 521.6 481.0 521.4 482.0 521.4 483.0 520.1 484.0 520.4 485.0 520.2 486.0 521.9 487.0 520.4 488.0 520.8 489.0 521.4 490.0 521.7 491.0 520.6 492.0 521.8 493.0 520.7 494.0 521.8 495.0 520.4 496.0 521.9 497.0 520.2 498.0 521.9 499.0 520.9 500.0 521.5 501.0 521.8 502.0 522.1 503.0 522.0 504.0 521.8 505.0 520.5 506.0 522.2 507.0 521.1 508.0 520.7 509.0 520.9 510.0 521.8 511.0 522.3 512.0 521.6 513.0 522.2 514.0 521.5 515.0 521.5 516.0 520.5 517.0 521.9 518.0 522.4 519.0 520.6 520.0 521.7 521.0 521.6 522.0 520.6 523.0 522.5 524.0 522.0 525.0 520.8 526.0 522.6 527.0 520.9 528.0 521.8 529.0 521.0 530.0 521.2 531.0 522.6 532.0 522.3 533.0 520.7 534.0 522.3 535.0 522.0 536.0 522.6 537.0 520.9 538.0 521.7 539.0 520.7 540.0 521.3 541.0 518.5 542.0 515.3 543.0 506.8 544.0 501.7 545.0 500.6 546.0 505.3 547.0 511.5 548.0 518.9 549.0 521.5 550.0 522.2 551.0 522.9 552.0 522.2 553.0 522.0 554.0 522.7 555.0 521.8 556.0 521.8 557.0 520.8 558.0 521.3 559.0 518.1 560.0 517.2 561.0 517.3 562.0 518.7 563.0 519.5 564.0 522.0 565.0 522.5 566.0 521.6 567.0 522.3 568.0 522.8 569.0 522.2 570.0 522.2 571.0 522.3 572.0 521.7 573.0 522.8 574.0 522.4 575.0 522.9 576.0 522.2 577.0 522.6 578.0 523.1 579.0 521.5 580.0 521.7 581.0 523.0 582.0 522.1 583.0 521.8 584.0 522.2 585.0 521.8 586.0 515.9 587.0 507.5 588.0 490.4 589.0 474.0 590.0 468.9 591.0 479.7 592.0 497.3 593.0 512.6 594.0 519.5 595.0 522.7 596.0 522.6 597.0 522.2 598.0 523.0 599.0 522.1 600.0 523.0 601.0 522.5 602.0 521.9 603.0 523.5 604.0 522.0 605.0 523.1 606.0 522.3 607.0 523.8 608.0 523.0 609.0 522.9 610.0 523.2 611.0 523.9 612.0 523.4 613.0 522.2 614.0 523.9 615.0 523.3 616.0 523.7 617.0 522.6 618.0 522.8 619.0 523.1 620.0 522.6 621.0 523.7 622.0 523.0 623.0 523.3 624.0 523.8 625.0 523.6 626.0 522.0 627.0 523.2 628.0 520.1 629.0 517.6 630.0 515.8 631.0 516.6 632.0 517.9 633.0 520.9 634.0 522.5 635.0 523.3 636.0 523.2 637.0 523.6 638.0 522.6 639.0 524.3 640.0 524.0 641.0 524.5 642.0 524.0 643.0 523.8 644.0 523.0 645.0 523.2 646.0 523.9 647.0 523.2 648.0 523.0 649.0 522.8 650.0 524.5 651.0 524.1 652.0 523.2 653.0 523.8 654.0 524.3 655.0 523.1 656.0 523.0 657.0 522.4 658.0 520.4 659.0 512.8 660.0 491.5 661.0 459.6 662.0 431.6 663.0 426.8 664.0 447.9 665.0 480.0 666.0 504.8 667.0 517.8 668.0 522.4 669.0 524.1 670.0 523.7 671.0 523.0 672.0 523.2 673.0 523.5 674.0 524.2 675.0 524.9 676.0 523.8 677.0 524.2 678.0 522.7 679.0 522.0 680.0 520.3 681.0 519.7 682.0 520.0 683.0 521.5 684.0 522.1 685.0 524.4 686.0 524.0 687.0 524.8 688.0 523.6 689.0 524.5 690.0 524.4 691.0 521.3 692.0 518.6 693.0 511.5 694.0 506.9 695.0 506.9 696.0 512.3 697.0 518.7 698.0 521.8 699.0 524.7 700.0 524.1 701.0 524.2 702.0 523.7 703.0 524.9 704.0 523.7 705.0 523.9 706.0 521.3 707.0 519.6 708.0 519.0 709.0 520.0 710.0 522.0 711.0 523.8 712.0 524.1 713.0 524.8 714.0 525.4 715.0 524.5 716.0 525.5 717.0 525.4 718.0 525.3 719.0 525.2 720.0 524.3 721.0 524.6 722.0 525.7 723.0 524.6 724.0 524.2 725.0 524.4 726.0 525.6 727.0 524.5 728.0 524.8 729.0 524.6 730.0 524.5 731.0 525.5 732.0 523.2 733.0 519.4 734.0 508.2 735.0 489.3 736.0 468.8 737.0 461.3 738.0 472.4 739.0 492.5 740.0 511.4 741.0 519.5 742.0 524.5 743.0 525.4 744.0 525.2 745.0 525.6 746.0 525.4 747.0 524.6 748.0 526.0 749.0 524.6 750.0 525.9 751.0 524.7 752.0 522.9 753.0 523.5 754.0 521.6 755.0 523.3 756.0 524.7 757.0 524.0 758.0 524.4 759.0 524.8 760.0 525.4 761.0 525.9 762.0 523.8 763.0 523.8 764.0 521.4 765.0 520.1 766.0 520.4 767.0 522.4 768.0 523.6 769.0 525.0 770.0 526.3 771.0 525.3 772.0 526.0 773.0 526.5 774.0 525.5 775.0 526.4 776.0 525.0 777.0 525.3 778.0 526.3 779.0 526.8 780.0 525.4 781.0 526.7 782.0 525.5 783.0 525.2 784.0 525.2 785.0 525.2 786.0 526.7 787.0 526.6 788.0 525.7 789.0 526.4 790.0 526.6 791.0 525.2 792.0 525.0 793.0 526.1 794.0 525.8 795.0 525.6 796.0 526.7 797.0 525.7 798.0 526.0 799.0 526.7 800.0 526.4 801.0 525.5 802.0 525.1 803.0 524.7 804.0 525.0 805.0 524.3 806.0 524.8 807.0 525.1 808.0 526.9 809.0 525.8 810.0 526.8 811.0 526.1 812.0 526.1 813.0 526.4 814.0 527.3 815.0 527.3 816.0 525.4 817.0 525.9 818.0 526.9 819.0 527.1 820.0 527.3 821.0 526.7 822.0 526.7 823.0 527.4 824.0 526.9 825.0 526.8 826.0 526.2 827.0 527.4 828.0 527.6 829.0 525.7 830.0 525.7 831.0 526.1 832.0 527.6 833.0 527.6 834.0 527.1 835.0 526.6 836.0 527.1 837.0 527.7 838.0 526.3 839.0 526.0 840.0 527.8 841.0 527.8 842.0 527.3 843.0 526.1 844.0 526.5 845.0 527.4 846.0 526.7 847.0 527.2 848.0 527.9 849.0 527.0 850.0 526.6 851.0 526.8 852.0 527.7 853.0 527.9 854.0 526.6 855.0 526.4 856.0 526.5 857.0 525.7 858.0 524.2 859.0 522.4 860.0 521.8 861.0 521.8 862.0 524.2 863.0 524.2 864.0 526.8 865.0 526.9 866.0 526.8 867.0 526.5 868.0 526.7 869.0 528.0 870.0 526.9 871.0 526.6 872.0 527.7 873.0 528.2 874.0 526.7 875.0 528.1 876.0 527.6 877.0 527.7 878.0 527.9 879.0 527.6 880.0 527.3 881.0 527.0 882.0 528.3 883.0 526.6 884.0 525.9 885.0 525.5 886.0 522.5 887.0 520.1 888.0 518.3 889.0 521.0 890.0 524.9 891.0 526.9 892.0 527.6 893.0 527.7 894.0 527.0 895.0 527.8 896.0 527.1 897.0 527.1 898.0 527.1 899.0 526.1 900.0 523.9 901.0 521.7 902.0 521.9 903.0 523.4 904.0 524.1 905.0 525.5 906.0 526.9 907.0 528.5 908.0 527.1 909.0 528.4 910.0 527.2 911.0 527.2 912.0 527.9 913.0 527.6 914.0 527.4 915.0 526.9 916.0 527.6 917.0 527.6 918.0 527.2 919.0 527.2 920.0 528.3 921.0 528.3 922.0 527.3 923.0 528.2 924.0 527.6 925.0 528.1 926.0 527.5 927.0 527.0 928.0 527.7 929.0 526.8 930.0 528.5 931.0 528.5 932.0 527.5 933.0 526.8 934.0 527.7 935.0 526.9 936.0 527.9 937.0 526.9 938.0 528.5 939.0 527.9 940.0 528.2 941.0 526.5 942.0 524.8 943.0 523.0 944.0 522.9 945.0 522.0 946.0 525.0 947.0 525.9 948.0 527.0 949.0 528.1 950.0 527.5 951.0 527.7 952.0 527.1 953.0 527.4 954.0 527.5 955.0 526.7 956.0 528.7 957.0 527.3 958.0 527.6 959.0 527.2 960.0 528.5 961.0 526.2 962.0 525.8 963.0 523.4 964.0 522.4 965.0 521.2 966.0 521.8 967.0 525.0 968.0 526.3 969.0 527.7 970.0 528.0 971.0 527.7 972.0 527.5 973.0 527.7 974.0 527.3 975.0 528.6 976.0 527.3 977.0 527.0 978.0 526.4 979.0 526.6 980.0 524.4 981.0 522.0 982.0 521.9 983.0 523.8 984.0 524.8 985.0 527.1 986.0 526.8 987.0 527.3 988.0 528.4 989.0 528.0 990.0 528.3 991.0 528.0 992.0 527.4 993.0 527.6 994.0 528.5 995.0 527.4 996.0 527.3 997.0 527.3 998.0 527.4 999.0 528.7 1000.0 528.2 1001.0 526.9 1002.0 527.9 1003.0 528.2 1004.0 528.3 1005.0 528.0 1006.0 527.1 1007.0 528.4 1008.0 528.1 1009.0 527.0 1010.0 527.8 1011.0 528.5 1012.0 527.7 1013.0 528.8 1014.0 527.7 1015.0 527.2 1016.0 526.3 1017.0 522.7 1018.0 517.6 1019.0 511.5 1020.0 508.4 1021.0 510.6 1022.0 517.3 1023.0 522.6 1024.0 526.4 1025.0 527.8 1026.0 526.9 1027.0 527.2 1028.0 528.3 1029.0 527.1 1030.0 527.2 1031.0 527.1 1032.0 527.5 1033.0 528.3 1034.0 528.1 1035.0 528.2 1036.0 528.3 1037.0 526.8 1038.0 526.8 1039.0 526.2 1040.0 521.7 1041.0 519.6 1042.0 516.1 1043.0 518.5 1044.0 521.5 1045.0 525.2 1046.0 527.0 1047.0 526.6 1048.0 526.9 1049.0 525.3 1050.0 523.2 1051.0 521.5 1052.0 522.9 1053.0 524.6 1054.0 526.9 1055.0 528.3 1056.0 528.5 1057.0 528.8 1058.0 528.6 1059.0 527.8 1060.0 527.5 1061.0 528.0 1062.0 528.4 1063.0 528.6 1064.0 527.3 1065.0 528.3 1066.0 528.3 1067.0 528.5 1068.0 527.7 1069.0 527.1 1070.0 527.7 1071.0 528.5 1072.0 528.7 1073.0 529.0 1074.0 529.0 1075.0 528.1 1076.0 528.0 1077.0 528.1 1078.0 529.0 1079.0 528.4 1080.0 528.5 1081.0 527.9 1082.0 525.2 1083.0 524.3 1084.0 524.0 1085.0 524.4 1086.0 524.9 1087.0 527.4 1088.0 528.1 1089.0 528.7 1090.0 528.8 1091.0 527.8 1092.0 528.9 1093.0 529.0 1094.0 528.5 1095.0 527.4 1096.0 528.0 1097.0 528.3 1098.0 527.4 1099.0 528.2 1100.0 528.8 1101.0 527.4 1102.0 526.2 1103.0 526.3 1104.0 524.0 1105.0 523.3 1106.0 525.8 1107.0 527.0 1108.0 527.8 1109.0 528.3 1110.0 528.0 1111.0 528.5 1112.0 527.8 1113.0 528.2 1114.0 528.7 1115.0 527.2 1116.0 527.6 1117.0 526.9 1118.0 525.8 1119.0 523.3 1120.0 523.0 1121.0 522.8 1122.0 524.0 1123.0 526.3 1124.0 527.4 1125.0 527.9 1126.0 527.5 1127.0 529.1 1128.0 527.3 1129.0 528.9 1130.0 527.8 1131.0 527.7 1132.0 527.7 1133.0 529.1 1134.0 527.3 1135.0 528.6 1136.0 528.1 1137.0 528.7 1138.0 529.0 1139.0 528.8 1140.0 528.1 1141.0 528.3 1142.0 528.9 1143.0 528.9 1144.0 527.9 1145.0 529.2 1146.0 528.2 1147.0 529.1 1148.0 529.0 1149.0 528.4 1150.0 529.0 1151.0 528.1 1152.0 525.3 1153.0 523.4 1154.0 517.7 1155.0 511.4 1156.0 510.3 1157.0 512.8 1158.0 519.5 1159.0 524.3 1160.0 527.9 1161.0 528.9 1162.0 529.1 1163.0 527.4 1164.0 528.3 1165.0 529.0 1166.0 527.7 1167.0 525.5 1168.0 523.4 1169.0 523.4 1170.0 521.7 1171.0 523.6 1172.0 526.8 1173.0 527.4 1174.0 528.9 1175.0 528.9 1176.0 528.9 1177.0 528.1 1178.0 528.4 1179.0 528.6 1180.0 528.0 1181.0 528.0 1182.0 528.3 1183.0 528.1 1184.0 527.1 1185.0 526.1 1186.0 525.1 1187.0 524.4 1188.0 526.2 1189.0 527.1 1190.0 528.4 1191.0 529.1 1192.0 528.8 1193.0 528.7 1194.0 529.2 1195.0 527.9 1196.0 527.7 1197.0 527.7 1198.0 528.1 1199.0 529.2 1200.0 528.3 1201.0 529.1 1202.0 529.2 1203.0 528.7 1204.0 528.3 1205.0 528.0 1206.0 529.3 1207.0 528.2 1208.0 529.1 1209.0 527.4 1210.0 528.5 1211.0 529.3 1212.0 527.9 1213.0 528.1 1214.0 527.7 1215.0 529.3 1216.0 528.2 1217.0 527.7 1218.0 528.1 1219.0 528.8 1220.0 529.2 1221.0 528.8 1222.0 526.5 1223.0 526.1 1224.0 524.5 1225.0 525.5 1226.0 526.2 1227.0 527.4 1228.0 527.4 1229.0 528.1 1230.0 528.2 1231.0 528.9 1232.0 527.8 1233.0 528.1 1234.0 528.6 1235.0 528.2 1236.0 527.9 1237.0 527.5 1238.0 527.6 1239.0 529.2 1240.0 527.7 1241.0 527.7 1242.0 528.9 1243.0 528.0 1244.0 527.8 1245.0 528.0 1246.0 528.1 1247.0 527.7 1248.0 528.5 1249.0 528.6 1250.0 528.6 1251.0 529.2 1252.0 528.7 1253.0 528.5 1254.0 526.2 1255.0 525.6 1256.0 524.6 1257.0 526.4 1258.0 527.6 1259.0 527.9 1260.0 528.4 1261.0 528.6 1262.0 528.1 1263.0 528.2 1264.0 528.6 1265.0 528.2 1266.0 528.2 1267.0 529.2 1268.0 528.5 1269.0 528.9 1270.0 528.9 1271.0 529.2 1272.0 527.6 1273.0 528.7 1274.0 529.3 1275.0 527.7 1276.0 528.7 1277.0 528.3 1278.0 529.4 1279.0 527.7 1280.0 528.5 1281.0 528.3 1282.0 528.8 1283.0 529.0 1284.0 528.6 1285.0 528.0 1286.0 527.8 1287.0 528.2 1288.0 529.0 1289.0 529.0 1290.0 528.0 1291.0 527.8 1292.0 529.2 1293.0 528.8 1294.0 528.4 1295.0 529.6 1296.0 528.9 1297.0 528.3 1298.0 529.2 1299.0 527.3 1300.0 527.2 1301.0 524.7 1302.0 522.7 1303.0 521.6 1304.0 521.8 1305.0 524.7 1306.0 526.3 1307.0 527.2 1308.0 528.4 1309.0 528.1 1310.0 529.6 1311.0 529.0 1312.0 528.3 1313.0 529.1 1314.0 527.9 1315.0 527.9 1316.0 529.6 1317.0 527.8 1318.0 529.6 1319.0 529.6 1320.0 529.2 1321.0 527.7 1322.0 528.2 1323.0 528.8 1324.0 528.3 1325.0 527.8 1326.0 529.1 1327.0 529.3 1328.0 528.6 1329.0 528.8 1330.0 528.8 1331.0 529.3 1332.0 528.1 1333.0 529.6 1334.0 528.4 1335.0 528.1 1336.0 528.5 1337.0 529.0 1338.0 528.1 1339.0 528.7 1340.0 528.1 1341.0 528.3 1342.0 527.8 1343.0 526.2 1344.0 526.2 1345.0 526.1 1346.0 526.7 1347.0 527.5 1348.0 529.0 1349.0 529.3 1350.0 529.0 1351.0 529.6 1352.0 529.8 1353.0 529.1 1354.0 529.5 1355.0 528.1 1356.0 528.9 1357.0 529.0 1358.0 529.2 1359.0 528.3 1360.0 529.5 1361.0 529.5 1362.0 528.5 1363.0 529.3 1364.0 529.6 1365.0 529.7 1366.0 527.9 1367.0 529.3 1368.0 529.5 1369.0 528.3 1370.0 529.6 1371.0 529.5 1372.0 528.3 1373.0 528.3 1374.0 527.9 1375.0 529.3 1376.0 528.9 1377.0 529.3 1378.0 529.3 1379.0 528.5 1380.0 529.8 1381.0 529.0 1382.0 529.1 1383.0 529.2 1384.0 528.6 1385.0 529.2 1386.0 529.9 1387.0 528.8 1388.0 529.3 1389.0 529.3 1390.0 529.5 1391.0 529.4 1392.0 528.8 1393.0 528.2 1394.0 528.1 1395.0 529.0 1396.0 529.9 1397.0 528.6 1398.0 528.2 1399.0 529.3 1400.0 528.0 1401.0 527.8 1402.0 527.2 1403.0 526.5 1404.0 527.0 1405.0 526.3 1406.0 527.1 1407.0 528.4 1408.0 528.0 1409.0 529.7 1410.0 528.8 1411.0 528.8 1412.0 528.6 1413.0 530.0 1414.0 528.8 1415.0 528.5 1416.0 529.1 1417.0 529.6 1418.0 528.5 1419.0 529.6 1420.0 529.8 1421.0 528.3 1422.0 529.7 1423.0 528.2 1424.0 528.1 1425.0 528.7 1426.0 529.1 1427.0 529.1 1428.0 529.0 1429.0 528.8 1430.0 528.9 1431.0 528.4 1432.0 528.1 1433.0 530.0 1434.0 528.0 1435.0 528.9 1436.0 528.2 1437.0 528.2 1438.0 528.3 1439.0 528.4 1440.0 529.3 1441.0 529.2 1442.0 528.1 1443.0 529.4 1444.0 528.1 1445.0 530.0 1446.0 530.0 1447.0 529.7 1448.0 530.0 1449.0 529.0 1450.0 529.0 1451.0 528.4 1452.0 527.4 1453.0 527.2 1454.0 527.3 1455.0 527.5 1456.0 527.8 1457.0 529.3 1458.0 529.2 1459.0 528.5 1460.0 528.2 1461.0 528.6 1462.0 528.7 1463.0 528.1 1464.0 529.3 1465.0 529.6 1466.0 528.4 1467.0 529.2 1468.0 528.8 1469.0 528.9 1470.0 529.6 1471.0 529.5 1472.0 528.2 1473.0 529.2 1474.0 529.6 1475.0 529.7 1476.0 529.4 1477.0 529.0 1478.0 529.2 1479.0 529.6 1480.0 529.2 1481.0 528.5 1482.0 529.9 1483.0 529.8 1484.0 528.6 1485.0 529.6 1486.0 529.1 1487.0 530.0 1488.0 528.2 1489.0 529.3 1490.0 529.7 1491.0 529.1 1492.0 528.5 1493.0 529.9 1494.0 530.1 1495.0 528.7 1496.0 529.8 1497.0 528.7 1498.0 528.3 1499.0 528.8 1500.0 529.8 1501.0 528.9 1502.0 529.3 1503.0 530.2 1504.0 528.3 1505.0 530.1 1506.0 529.0 1507.0 529.8 1508.0 530.1 1509.0 530.2 1510.0 528.5 1511.0 529.9 1512.0 529.6 1513.0 528.8 1514.0 529.0 1515.0 529.1 1516.0 529.5 1517.0 530.2 1518.0 528.3 1519.0 529.7 1520.0 528.5 1521.0 530.0 1522.0 528.6 1523.0 528.5 1524.0 528.5 1525.0 528.4 1526.0 529.8 1527.0 529.2 1528.0 529.5 1529.0 528.8 1530.0 530.0 1531.0 529.8 1532.0 529.8 1533.0 529.4 1534.0 529.9 1535.0 528.5 1536.0 528.9" stroke="#00ffff" stroke-width="8" fill="none" stroke-linejoin="round"/><path d="M188.0 387.8 189.0 387.6 190.0 388.8 191.0 388.6 192.0 387.1 193.0 388.0 194.0 389.0 195.0 389.0 196.0 388.2 197.0 388.6 198.0 388.3 199.0 389.0 200.0 387.5 201.0 387.5 202.0 388.4 203.0 387.6 204.0 389.0 205.0 388.5 206.0 387.9 207.0 386.4 208.0 382.1 209.0 376.0 210.0 368.8 211.0 367.7 212.0 371.0 213.0 377.7 214.0 384.4 215.0 387.8 216.0 387.7 217.0 388.8 218.0 388.8 219.0 389.0 220.0 388.7 221.0 388.7 222.0 388.8 223.0 387.6 224.0 389.5 225.0 388.2 226.0 389.2 227.0 388.4 228.0 388.8 229.0 389.1 230.0 389.3 231.0 389.2 232.0 388.4 233.0 389.0 234.0 389.7 235.0 388.1 236.0 389.5 237.0 388.9 238.0 389.2 239.0 388.8 240.0 388.4 241.0 389.1 242.0 389.7 243.0 388.7 244.0 388.7 245.0 389.2 246.0 389.3 247.0 389.8 248.0 389.0 249.0 388.9 250.0 388.0 251.0 389.7 252.0 388.7 253.0 388.3 254.0 389.1 255.0 388.6 256.0 389.2 257.0 389.2 258.0 389.2 259.0 388.3 260.0 389.5 261.0 389.2 262.0 389.1 263.0 389.3 264.0 389.5 265.0 389.7 266.0 390.0 267.0 388.4 268.0 388.5 269.0 385.0 270.0 379.0 271.0 371.4 272.0 365.5 273.0 366.2 274.0 372.9 275.0 380.1 276.0 386.7 277.0 389.0 278.0 389.2 279.0 388.7 280.0 389.7 281.0 388.5 282.0 388.4 283.0 388.4 284.0 387.4 285.0 387.3 286.0 387.5 287.0 387.2 288.0 388.4 289.0 389.7 290.0 390.2 291.0 390.5 292.0 388.8 293.0 389.2 294.0 389.9 295.0 389.3 296.0 390.2 297.0 390.6 298.0 390.0 299.0 389.8 300.0 389.7 301.0 390.0 302.0 390.2 303.0 390.9 304.0 389.5 305.0 390.8 306.0 390.4 307.0 389.4 308.0 390.5 309.0 390.5 310.0 390.4 311.0 389.6 312.0 390.4 313.0 389.3 314.0 389.5 315.0 390.2 316.0 390.4 317.0 389.3 318.0 390.8 319.0 390.9 320.0 390.2 321.0 390.7 322.0 390.4 323.0 390.3 324.0 389.2 325.0 389.5 326.0 389.2 327.0 385.7 328.0 385.3 329.0 386.0 330.0 386.3 331.0 388.2 332.0 389.0 333.0 390.1 334.0 390.5 335.0 390.8 336.0 390.7 337.0 389.8 338.0 391.4 339.0 390.0 340.0 391.1 341.0 390.5 342.0 390.6 343.0 388.6 344.0 386.2 345.0 380.1 346.0 368.0 347.0 356.9 348.0 355.2 349.0 361.0 350.0 373.1 351.0 383.3 352.0 388.8 353.0 389.4 354.0 391.3 355.0 390.8 356.0 391.1 357.0 391.3 358.0 391.0 359.0 390.4 360.0 390.9 361.0 390.1 362.0 391.5 363.0 390.3 364.0 391.1 365.0 390.8 366.0 391.5 367.0 390.9 368.0 391.1 369.0 392.0 370.0 390.7 371.0 391.2 372.0 390.8 373.0 391.4 374.0 390.2 375.0 391.4 376.0 390.2 377.0 390.5 378.0 390.6 379.0 390.4 380.0 391.5 381.0 391.8 382.0 391.4 383.0 392.2 384.0 390.5 385.0 391.4 386.0 391.6 387.0 391.5 388.0 392.3 389.0 390.4 390.0 391.3 391.0 391.1 392.0 392.0 393.0 391.8 394.0 391.8 395.0 391.0 396.0 391.1 397.0 391.0 398.0 391.5 399.0 392.0 400.0 392.2 401.0 390.7 402.0 392.2 403.0 391.3 404.0 391.1 405.0 390.6 406.0 392.6 407.0 390.7 408.0 392.6 409.0 390.8 410.0 391.6 411.0 392.0 412.0 392.7 413.0 392.2 414.0 391.2 415.0 391.6 416.0 391.5 417.0 391.6 418.0 391.1 419.0 391.3 420.0 390.3 421.0 390.6 422.0 390.7 423.0 391.8 424.0 391.9 425.0 392.0 426.0 392.2 427.0 391.8 428.0 392.1 429.0 391.9 430.0 392.4 431.0 392.3 432.0 393.0 433.0 392.8 434.0 392.7 435.0 392.8 436.0 392.0 437.0 392.8 438.0 393.0 439.0 391.4 440.0 392.0 441.0 391.6 442.0 392.9 443.0 392.2 444.0 392.9 445.0 391.7 446.0 391.9 447.0 391.5 448.0 393.3 449.0 391.6 450.0 392.6 451.0 393.0 452.0 392.2 453.0 392.4 454.0 391.8 455.0 390.9 456.0 390.4 457.0 390.2 458.0 391.8 459.0 392.0 460.0 391.8 461.0 391.5 462.0 391.7 463.0 393.3 464.0 392.7 465.0 393.6 466.0 391.9 467.0 393.4 468.0 391.8 469.0 393.5 470.0 393.6 471.0 392.6 472.0 393.3 473.0 391.8 474.0 393.0 475.0 392.1 476.0 392.5 477.0 393.4 478.0 392.5 479.0 392.4 480.0 393.1 481.0 392.1 482.0 393.1 483.0 393.5 484.0 392.1 485.0 394.0 486.0 392.1 487.0 392.5 488.0 392.9 489.0 392.5 490.0 393.6 491.0 393.3 492.0 392.8 493.0 393.8 494.0 394.0 495.0 393.1 496.0 392.4 497.0 392.2 498.0 392.9 499.0 393.8 500.0 393.8 501.0 394.2 502.0 393.7 503.0 393.1 504.0 394.2 505.0 393.1 506.0 393.1 507.0 394.0 508.0 393.6 509.0 393.4 510.0 393.9 511.0 393.4 512.0 393.0 513.0 393.4 514.0 394.4 515.0 393.2 516.0 392.9 517.0 393.7 518.0 393.6 519.0 394.3 520.0 394.1 521.0 393.8 522.0 393.4 523.0 393.9 524.0 393.8 525.0 394.4 526.0 393.4 527.0 393.3 528.0 393.7 529.0 394.1 530.0 394.3 531.0 393.8 532.0 393.2 533.0 394.6 534.0 394.4 535.0 393.0 536.0 393.2 537.0 393.5 538.0 394.4 539.0 393.9 540.0 393.1 541.0 392.8 542.0 387.9 543.0 379.5 544.0 370.2 545.0 363.7 546.0 367.0 547.0 374.3 548.0 385.0 549.0 390.2 550.0 392.3 551.0 394.0 552.0 393.2 553.0 394.6 554.0 393.5 555.0 393.6 556.0 393.1 557.0 393.6 558.0 394.0 559.0 391.3 560.0 389.9 561.0 389.0 562.0 389.7 563.0 392.0 564.0 392.6 565.0 394.7 566.0 393.3 567.0 395.0 568.0 395.3 569.0 394.0 570.0 395.3 571.0 393.9 572.0 393.7 573.0 394.9 574.0 394.2 575.0 394.5 576.0 395.0 577.0 394.7 578.0 395.0 579.0 393.9 580.0 394.9 581.0 395.5 582.0 394.0 583.0 394.3 584.0 394.8 585.0 394.7 586.0 390.7 587.0 384.7 588.0 367.7 589.0 347.7 590.0 331.9 591.0 333.0 592.0 349.6 593.0 370.8 594.0 385.0 595.0 391.6 596.0 393.7 597.0 394.2 598.0 394.3 599.0 394.6 600.0 395.6 601.0 394.0 602.0 395.5 603.0 395.6 604.0 394.9 605.0 395.8 606.0 395.6 607.0 395.5 608.0 395.7 609.0 394.1 610.0 395.5 611.0 395.8 612.0 396.0 613.0 395.9 614.0 395.5 615.0 394.5 616.0 396.0 617.0 395.7 618.0 394.7 619.0 394.4 620.0 394.9 621.0 394.4 622.0 394.5 623.0 394.5 624.0 395.1 625.0 396.1 626.0 394.2 627.0 394.9 628.0 392.6 629.0 391.9 630.0 388.7 631.0 385.6 632.0 386.6 633.0 389.9 634.0 391.5 635.0 393.9 636.0 395.7 637.0 395.5 638.0 395.1 639.0 395.7 640.0 396.0 641.0 394.6 642.0 394.7 643.0 395.1 644.0 396.5 645.0 394.9 646.0 395.5 647.0 396.4 648.0 395.4 649.0 396.0 650.0 395.8 651.0 396.0 652.0 396.2 653.0 395.0 654.0 395.1 655.0 396.0 656.0 396.0 657.0 396.5 658.0 394.6 659.0 390.5 660.0 375.7 661.0 345.9 662.0 304.3 663.0 275.2 664.0 279.1 665.0 312.0 666.0 352.7 667.0 380.1 668.0 391.8 669.0 395.4 670.0 395.3 671.0 395.7 672.0 395.7 673.0 396.3 674.0 396.3 675.0 395.7 676.0 395.5 677.0 396.6 678.0 395.0 679.0 394.9 680.0 393.2 681.0 391.8 682.0 392.2 683.0 393.0 684.0 393.1 685.0 396.1 686.0 395.8 687.0 396.8 688.0 396.9 689.0 395.7 690.0 397.0 691.0 395.0 692.0 391.8 693.0 387.1 694.0 379.3 695.0 375.2 696.0 378.4 697.0 383.5 698.0 390.8 699.0 394.9 700.0 396.6 701.0 395.9 702.0 397.4 703.0 397.1 704.0 396.1 705.0 395.0 706.0 395.7 707.0 394.4 708.0 391.4 709.0 392.3 710.0 393.8 711.0 395.1 712.0 395.8 713.0 395.6 714.0 397.1 715.0 396.8 716.0 396.6 717.0 397.4 718.0 397.4 719.0 396.7 720.0 397.7 721.0 397.1 722.0 396.8 723.0 396.3 724.0 396.6 725.0 397.1 726.0 397.6 727.0 396.3 728.0 396.6 729.0 396.9 730.0 396.4 731.0 397.1 732.0 397.3 733.0 394.3 734.0 387.8 735.0 371.2 736.0 347.7 737.0 325.4 738.0 321.0 739.0 338.1 740.0 362.7 741.0 382.5 742.0 393.5 743.0 396.5 744.0 396.7 745.0 396.6 746.0 397.0 747.0 396.8 748.0 396.7 749.0 396.8 750.0 397.2 751.0 397.8 752.0 396.3 753.0 395.7 754.0 394.6 755.0 394.3 756.0 394.6 757.0 397.1 758.0 396.0 759.0 397.4 760.0 396.7 761.0 397.3 762.0 396.8 763.0 396.6 764.0 393.5 765.0 390.9 766.0 390.8 767.0 391.0 768.0 394.0 769.0 395.4 770.0 396.2 771.0 398.4 772.0 397.8 773.0 397.2 774.0 397.5 775.0 397.6 776.0 398.1 777.0 398.5 778.0 398.5 779.0 397.5 780.0 397.7 781.0 397.4 782.0 397.4 783.0 398.4 784.0 397.4 785.0 398.0 786.0 398.6 787.0 398.9 788.0 398.7 789.0 397.6 790.0 398.3 791.0 398.4 792.0 398.6 793.0 398.1 794.0 398.4 795.0 399.0 796.0 398.3 797.0 397.6 798.0 398.0 799.0 397.5 800.0 398.9 801.0 397.3 802.0 397.3 803.0 397.4 804.0 395.8 805.0 396.5 806.0 396.9 807.0 398.2 808.0 398.8 809.0 398.7 810.0 397.5 811.0 398.9 812.0 398.2 813.0 399.1 814.0 397.7 815.0 397.6 816.0 398.8 817.0 398.5 818.0 398.9 819.0 398.5 820.0 399.3 821.0 399.5 822.0 397.7 823.0 399.2 824.0 397.7 825.0 398.0 826.0 399.6 827.0 398.8 828.0 398.9 829.0 399.2 830.0 398.2 831.0 399.4 832.0 398.8 833.0 399.2 834.0 399.4 835.0 398.6 836.0 399.4 837.0 399.2 838.0 398.0 839.0 398.6 840.0 398.2 841.0 399.5 842.0 398.9 843.0 399.5 844.0 399.5 845.0 398.3 846.0 398.8 847.0 398.6 848.0 399.1 849.0 399.6 850.0 399.1 851.0 399.6 852.0 398.5 853.0 398.7 854.0 400.0 855.0 398.8 856.0 399.5 857.0 397.9 858.0 397.0 859.0 396.0 860.0 393.8 861.0 391.5 862.0 393.5 863.0 394.4 864.0 397.5 865.0 399.4 866.0 399.6 867.0 400.3 868.0 400.2 869.0 399.3 870.0 398.8 871.0 399.5 872.0 399.0 873.0 399.4 874.0 399.5 875.0 399.2 876.0 398.6 877.0 399.5 878.0 400.2 879.0 400.3 880.0 399.5 881.0 400.6 882.0 400.6 883.0 399.2 884.0 400.1 885.0 397.7 886.0 396.5 887.0 393.5 888.0 391.8 889.0 390.9 890.0 393.4 891.0 396.9 892.0 397.7 893.0 399.1 894.0 399.0 895.0 399.3 896.0 399.4 897.0 398.9 898.0 399.3 899.0 399.5 900.0 397.1 901.0 395.0 902.0 393.1 903.0 393.9 904.0 395.6 905.0 396.6 906.0 399.1 907.0 399.3 908.0 398.8 909.0 399.8 910.0 399.3 911.0 399.2 912.0 399.4 913.0 398.8 914.0 400.1 915.0 400.1 916.0 399.3 917.0 399.3 918.0 399.9 919.0 399.0 920.0 398.9 921.0 399.8 922.0 398.8 923.0 398.8 924.0 399.4 925.0 400.3 926.0 399.0 927.0 400.5 928.0 399.3 929.0 400.5 930.0 400.6 931.0 398.9 932.0 400.6 933.0 399.2 934.0 399.7 935.0 399.9 936.0 400.0 937.0 399.3 938.0 399.3 939.0 399.2 940.0 400.2 941.0 400.6 942.0 399.4 943.0 397.6 944.0 395.5 945.0 395.4 946.0 396.1 947.0 397.3 948.0 398.1 949.0 400.1 950.0 400.3 951.0 398.9 952.0 399.5 953.0 398.9 954.0 399.9 955.0 400.2 956.0 400.8 957.0 399.0 958.0 399.9 959.0 400.1 960.0 400.8 961.0 399.0 962.0 398.8 963.0 398.8 964.0 394.9 965.0 394.2 966.0 392.5 967.0 393.9 968.0 396.4 969.0 398.7 970.0 398.5 971.0 400.8 972.0 399.3 973.0 400.8 974.0 400.7 975.0 399.2 976.0 400.7 977.0 400.6 978.0 398.9 979.0 400.0 980.0 398.5 981.0 397.8 982.0 394.2 983.0 394.7 984.0 395.5 985.0 397.4 986.0 399.6 987.0 400.4 988.0 400.3 989.0 400.6 990.0 400.3 991.0 399.5 992.0 399.4 993.0 400.8 994.0 400.6 995.0 399.8 996.0 400.7 997.0 399.7 998.0 400.9 999.0 400.5 1000.0 399.9 1001.0 400.8 1002.0 401.0 1003.0 400.0 1004.0 400.7 1005.0 399.3 1006.0 400.4 1007.0 399.1 1008.0 399.3 1009.0 400.7 1010.0 400.1 1011.0 399.7 1012.0 399.4 1013.0 401.1 1014.0 400.0 1015.0 400.4 1016.0 399.5 1017.0 398.7 1018.0 395.1 1019.0 390.0 1020.0 384.3 1021.0 381.4 1022.0 382.5 1023.0 389.0 1024.0 395.9 1025.0 397.8 1026.0 400.4 1027.0 399.2 1028.0 400.3 1029.0 400.8 1030.0 400.6 1031.0 399.3 1032.0 399.6 1033.0 399.2 1034.0 400.1 1035.0 400.8 1036.0 399.3 1037.0 400.3 1038.0 399.3 1039.0 398.6 1040.0 397.4 1041.0 394.2 1042.0 391.9 1043.0 389.4 1044.0 390.9 1045.0 392.8 1046.0 396.5 1047.0 398.8 1048.0 400.2 1049.0 399.2 1050.0 397.5 1051.0 394.7 1052.0 393.6 1053.0 394.3 1054.0 396.8 1055.0 399.1 1056.0 398.9 1057.0 400.0 1058.0 400.2 1059.0 399.5 1060.0 400.4 1061.0 399.4 1062.0 400.9 1063.0 399.6 1064.0 399.8 1065.0 400.4 1066.0 400.2 1067.0 399.7 1068.0 400.4 1069.0 401.3 1070.0 399.9 1071.0 399.3 1072.0 399.3 1073.0 401.1 1074.0 400.6 1075.0 400.8 1076.0 399.6 1077.0 400.6 1078.0 399.9 1079.0 401.0 1080.0 399.8 1081.0 400.5 1082.0 398.8 1083.0 399.0 1084.0 397.7 1085.0 396.9 1086.0 397.1 1087.0 398.7 1088.0 400.0 1089.0 399.0 1090.0 400.2 1091.0 400.8 1092.0 400.0 1093.0 400.4 1094.0 399.8 1095.0 399.9 1096.0 401.2 1097.0 399.7 1098.0 401.3 1099.0 401.0 1100.0 401.2 1101.0 400.8 1102.0 399.5 1103.0 400.4 1104.0 398.0 1105.0 397.2 1106.0 396.2 1107.0 396.7 1108.0 397.8 1109.0 398.7 1110.0 399.5 1111.0 400.5 1112.0 399.5 1113.0 400.3 1114.0 400.0 1115.0 400.7 1116.0 401.0 1117.0 400.4 1118.0 400.0 1119.0 398.2 1120.0 397.3 1121.0 395.2 1122.0 394.6 1123.0 397.4 1124.0 398.7 1125.0 400.4 1126.0 399.6 1127.0 401.0 1128.0 400.1 1129.0 399.6 1130.0 401.4 1131.0 401.5 1132.0 401.2 1133.0 401.2 1134.0 400.2 1135.0 401.2 1136.0 400.4 1137.0 400.9 1138.0 399.7 1139.0 400.1 1140.0 401.1 1141.0 400.7 1142.0 400.3 1143.0 401.1 1144.0 399.7 1145.0 399.7 1146.0 399.8 1147.0 401.2 1148.0 399.7 1149.0 400.1 1150.0 400.7 1151.0 400.5 1152.0 399.8 1153.0 399.9 1154.0 395.2 1155.0 390.4 1156.0 383.6 1157.0 382.1 1158.0 384.0 1159.0 390.6 1160.0 396.0 1161.0 399.4 1162.0 401.0 1163.0 400.2 1164.0 400.5 1165.0 400.7 1166.0 401.4 1167.0 399.3 1168.0 398.2 1169.0 396.3 1170.0 395.6 1171.0 395.5 1172.0 396.9 1173.0 398.9 1174.0 399.1 1175.0 399.8 1176.0 401.0 1177.0 400.8 1178.0 399.8 1179.0 401.1 1180.0 401.0 1181.0 401.1 1182.0 400.1 1183.0 400.7 1184.0 401.0 1185.0 400.2 1186.0 397.5 1187.0 396.7 1188.0 396.3 1189.0 398.4 1190.0 398.2 1191.0 400.8 1192.0 399.7 1193.0 401.3 1194.0 401.7 1195.0 401.2 1196.0 400.4 1197.0 400.4 1198.0 401.4 1199.0 401.6 1200.0 401.6 1201.0 401.2 1202.0 401.5 1203.0 399.8 1204.0 401.1 1205.0 401.3 1206.0 401.3 1207.0 401.3 1208.0 399.8 1209.0 400.0 1210.0 401.0 1211.0 401.2 1212.0 400.5 1213.0 401.3 1214.0 401.1 1215.0 401.5 1216.0 400.5 1217.0 400.2 1218.0 400.9 1219.0 400.2 1220.0 400.3 1221.0 401.0 1222.0 400.0 1223.0 400.2 1224.0 398.0 1225.0 398.2 1226.0 396.9 1227.0 396.7 1228.0 399.9 1229.0 399.0 1230.0 400.0 1231.0 399.9 1232.0 400.1 1233.0 399.9 1234.0 401.7 1235.0 400.4 1236.0 401.5 1237.0 401.4 1238.0 400.5 1239.0 400.9 1240.0 399.9 1241.0 400.9 1242.0 400.6 1243.0 400.5 1244.0 401.7 1245.0 400.8 1246.0 401.7 1247.0 400.2 1248.0 401.5 1249.0 401.0 1250.0 400.2 1251.0 401.7 1252.0 400.4 1253.0 401.0 1254.0 400.4 1255.0 399.1 1256.0 398.8 1257.0 398.2 1258.0 398.5 1259.0 400.0 1260.0 399.7 1261.0 400.6 1262.0 400.4 1263.0 401.7 1264.0 400.1 1265.0 401.5 1266.0 401.6 1267.0 401.5 1268.0 400.7 1269.0 401.8 1270.0 400.3 1271.0 401.6 1272.0 400.9 1273.0 400.1 1274.0 401.0 1275.0 401.1 1276.0 401.3 1277.0 401.3 1278.0 400.9 1279.0 401.1 1280.0 401.3 1281.0 401.5 1282.0 401.2 1283.0 400.4 1284.0 402.1 1285.0 401.4 1286.0 400.8 1287.0 401.9 1288.0 401.0 1289.0 401.3 1290.0 400.2 1291.0 401.0 1292.0 400.2 1293.0 401.2 1294.0 400.2 1295.0 400.4 1296.0 402.1 1297.0 401.9 1298.0 400.6 1299.0 400.7 1300.0 400.5 1301.0 399.1 1302.0 398.3 1303.0 395.6 1304.0 393.2 1305.0 394.7 1306.0 395.4 1307.0 398.9 1308.0 399.7 1309.0 400.5 1310.0 401.1 1311.0 401.8 1312.0 401.0 1313.0 402.0 1314.0 401.6 1315.0 401.8 1316.0 402.1 1317.0 401.9 1318.0 401.3 1319.0 401.7 1320.0 400.3 1321.0 400.4 1322.0 402.1 1323.0 402.1 1324.0 401.1 1325.0 401.6 1326.0 400.7 1327.0 401.2 1328.0 400.4 1329.0 401.8 1330.0 401.5 1331.0 400.4 1332.0 401.9 1333.0 402.1 1334.0 402.0 1335.0 401.2 1336.0 401.3 1337.0 401.2 1338.0 402.2 1339.0 400.4 1340.0 401.1 1341.0 401.6 1342.0 401.4 1343.0 399.2 1344.0 399.4 1345.0 399.7 1346.0 398.5 1347.0 399.9 1348.0 399.8 1349.0 401.8 1350.0 400.8 1351.0 400.7 1352.0 401.3 1353.0 400.8 1354.0 401.2 1355.0 401.6 1356.0 400.6 1357.0 402.3 1358.0 401.1 1359.0 400.7 1360.0 400.6 1361.0 401.7 1362.0 400.6 1363.0 401.0 1364.0 402.3 1365.0 401.4 1366.0 401.5 1367.0 400.7 1368.0 401.7 1369.0 400.4 1370.0 401.1 1371.0 401.0 1372.0 401.1 1373.0 401.7 1374.0 401.0 1375.0 401.9 1376.0 400.9 1377.0 401.0 1378.0 401.0 1379.0 401.1 1380.0 401.4 1381.0 402.2 1382.0 401.9 1383.0 401.9 1384.0 402.4 1385.0 402.1 1386.0 401.9 1387.0 402.3 1388.0 400.8 1389.0 401.0 1390.0 400.5 1391.0 401.0 1392.0 401.7 1393.0 401.4 1394.0 402.1 1395.0 400.6 1396.0 401.1 1397.0 402.0 1398.0 400.6 1399.0 402.4 1400.0 402.3 1401.0 400.4 1402.0 400.5 1403.0 401.4 1404.0 399.1 1405.0 399.4 1406.0 399.0 1407.0 399.6 1408.0 400.7 1409.0 402.0 1410.0 402.0 1411.0 401.8 1412.0 402.2 1413.0 401.9 1414.0 401.4 1415.0 401.2 1416.0 402.4 1417.0 400.8 1418.0 400.7 1419.0 400.7 1420.0 401.8 1421.0 401.6 1422.0 400.8 1423.0 401.0 1424.0 402.2 1425.0 401.5 1426.0 400.6 1427.0 401.5 1428.0 402.0 1429.0 401.0 1430.0 402.2 1431.0 401.2 1432.0 401.1 1433.0 402.2 1434.0 401.7 1435.0 402.3 1436.0 401.7 1437.0 401.6 1438.0 401.4 1439.0 401.8 1440.0 401.1 1441.0 401.6 1442.0 401.6 1443.0 401.5 1444.0 401.8 1445.0 402.2 1446.0 401.4 1447.0 400.8 1448.0 401.9 1449.0 401.9 1450.0 401.1 1451.0 401.8 1452.0 401.7 1453.0 400.9 1454.0 400.2 1455.0 400.0 1456.0 399.3 1457.0 400.4 1458.0 401.3 1459.0 400.7 1460.0 402.2 1461.0 401.8 1462.0 401.1 1463.0 401.5 1464.0 401.6 1465.0 402.4 1466.0 401.0 1467.0 401.3 1468.0 401.0 1469.0 402.6 1470.0 401.7 1471.0 402.2 1472.0 400.8 1473.0 401.1 1474.0 402.7 1475.0 401.9 1476.0 400.9 1477.0 401.5 1478.0 402.1 1479.0 401.1 1480.0 400.9 1481.0 402.1 1482.0 402.3 1483.0 401.6 1484.0 401.0 1485.0 401.7 1486.0 401.3 1487.0 401.4 1488.0 402.3 1489.0 402.7 1490.0 401.4 1491.0 401.7 1492.0 401.8 1493.0 402.5 1494.0 401.7 1495.0 401.9 1496.0 401.2 1497.0 401.9 1498.0 401.5 1499.0 401.6 1500.0 401.1 1501.0 402.2 1502.0 401.7 1503.0 401.6 1504.0 402.2 1505.0 402.8 1506.0 401.1 1507.0 402.8 1508.0 401.0 1509.0 402.0 1510.0 401.5 1511.0 401.4 1512.0 401.3 1513.0 401.1 1514.0 401.7 1515.0 402.5 1516.0 401.1 1517.0 401.6 1518.0 402.4 1519.0 401.6 1520.0 402.6 1521.0 402.1 1522.0 401.6 1523.0 402.1 1524.0 401.5 1525.0 401.5 1526.0 401.4 1527.0 401.2 1528.0 402.5 1529.0 401.1 1530.0 402.3 1531.0 402.5 1532.0 401.3 1533.0 401.2 1534.0 402.9 1535.0 401.1 1536.0 402.1" stroke="#ff00ff" stroke-width="8" fill="none" stroke-linejoin="round"/><path d="M188.0 261.1 189.0 262.2 190.0 262.8 191.0 261.8 192.0 261.8 193.0 261.9 194.0 262.5 195.0 262.9 196.0 261.8 197.0 262.4 198.0 263.0 199.0 262.9 200.0 261.9 201.0 261.2 202.0 262.3 203.0 262.5 204.0 261.9 205.0 261.6 206.0 261.2 207.0 259.4 208.0 256.0 209.0 249.9 210.0 243.4 211.0 240.1 212.0 245.3 213.0 252.4 214.0 258.2 215.0 260.4 216.0 262.2 217.0 262.7 218.0 262.9 219.0 263.4 220.0 262.5 221.0 261.5 222.0 262.9 223.0 263.1 224.0 262.1 225.0 263.0 226.0 263.4 227.0 263.4 228.0 263.0 229.0 263.0 230.0 261.9 231.0 263.5 232.0 261.7 233.0 262.3 234.0 262.4 235.0 262.6 236.0 263.6 237.0 262.7 238.0 263.3 239.0 263.2 240.0 263.6 241.0 263.6 242.0 263.7 243.0 262.0 244.0 263.3 245.0 262.9 246.0 263.7 247.0 263.8 248.0 262.3 249.0 263.6 250.0 261.9 251.0 263.7 252.0 263.4 253.0 262.8 254.0 262.1 255.0 263.4 256.0 262.2 257.0 262.6 258.0 263.3 259.0 262.8 260.0 262.3 261.0 262.6 262.0 262.5 263.0 264.0 264.0 262.7 265.0 263.5 266.0 263.8 267.0 262.0 268.0 262.7 269.0 259.9 270.0 254.9 271.0 246.1 272.0 240.3 273.0 242.0 274.0 247.5 275.0 253.9 276.0 260.4 277.0 262.5 278.0 263.0 279.0 263.7 280.0 262.8 281.0 262.9 282.0 263.1 283.0 262.4 284.0 260.7 285.0 259.8 286.0 260.3 287.0 261.7 288.0 262.6 289.0 263.6 290.0 262.7 291.0 263.8 292.0 262.5 293.0 263.7 294.0 263.8 295.0 263.1 296.0 264.3 297.0 263.0 298.0 263.1 299.0 264.2 300.0 264.1 301.0 263.7 302.0 262.7 303.0 263.7 304.0 263.4 305.0 264.2 306.0 263.1 307.0 263.4 308.0 263.7 309.0 264.5 310.0 263.1 311.0 264.3 312.0 264.4 313.0 263.3 314.0 264.0 315.0 263.0 316.0 263.8 317.0 264.2 318.0 264.0 319.0 263.2 320.0 263.4 321.0 264.8 322.0 264.7 323.0 264.3 324.0 264.7 325.0 263.5 326.0 262.5 327.0 263.0 328.0 262.0 329.0 262.8 330.0 262.0 331.0 262.7 332.0 264.6 333.0 263.1 334.0 263.5 335.0 263.5 336.0 263.4 337.0 265.1 338.0 264.3 339.0 263.2 340.0 264.9 341.0 263.5 342.0 263.3 343.0 263.6 344.0 262.0 345.0 256.0 346.0 246.8 347.0 238.1 348.0 234.0 349.0 239.1 350.0 248.8 351.0 257.6 352.0 261.2 353.0 264.7 354.0 263.9 355.0 263.6 356.0 264.2 357.0 264.2 358.0 263.7 359.0 264.0 360.0 264.0 361.0 265.3 362.0 265.3 363.0 264.1 364.0 263.9 365.0 264.1 366.0 263.6 367.0 264.1 368.0 264.6 369.0 265.1 370.0 264.9 371.0 263.7 372.0 265.1 373.0 265.6 374.0 264.5 375.0 265.7 376.0 264.0 377.0 264.5 378.0 265.1 379.0 265.5 380.0 265.4 381.0 263.8 382.0 265.7 383.0 265.0 384.0 264.8 385.0 265.6 386.0 265.7 387.0 264.7 388.0 265.2 389.0 264.7 390.0 264.5 391.0 264.6 392.0 264.1 393.0 265.9 394.0 264.3 395.0 265.0 396.0 264.3 397.0 265.8 398.0 264.3 399.0 264.5 400.0 264.2 401.0 265.2 402.0 265.6 403.0 266.0 404.0 265.8 405.0 264.3 406.0 265.3 407.0 264.3 408.0 265.7 409.0 264.9 410.0 265.4 411.0 265.7 412.0 265.1 413.0 264.8 414.0 264.7 415.0 265.4 416.0 265.8 417.0 264.2 418.0 264.1 419.0 263.9 420.0 263.5 421.0 263.1 422.0 264.4 423.0 265.6 424.0 265.3 425.0 266.3 426.0 266.0 427.0 265.8 428.0 266.4 429.0 265.6 430.0 265.6 431.0 264.8 432.0 266.3 433.0 266.5 434.0 265.1 435.0 266.4 436.0 265.3 437.0 265.1 438.0 266.1 439.0 264.7 440.0 266.5 441.0 265.2 442.0 266.2 443.0 266.0 444.0 265.0 445.0 265.5 446.0 265.0 447.0 266.5 448.0 265.1 449.0 265.0 450.0 266.2 451.0 266.0 452.0 265.7 453.0 265.9 454.0 264.6 455.0 264.3 456.0 263.8 457.0 262.7 458.0 264.3 459.0 264.5 460.0 265.8 461.0 265.4 462.0 265.9 463.0 265.0 464.0 265.1 465.0 265.8 466.0 265.3 467.0 265.9 468.0 266.3 469.0 265.7 470.0 266.4 471.0 266.5 472.0 265.5 473.0 265.8 474.0 266.0 475.0 265.7 476.0 267.0 477.0 266.6 478.0 266.8 479.0 266.5 480.0 265.9 481.0 265.6 482.0 265.6 483.0 265.5 484.0 266.9 485.0 267.0 486.0 267.0 487.0 265.7 488.0 265.8 489.0 266.3 490.0 266.0 491.0 266.1 492.0 266.6 493.0 266.5 494.0 266.5 495.0 265.6 496.0 266.5 497.0 265.7 498.0 267.1 499.0 266.4 500.0 267.2 501.0 266.2 502.0 267.4 503.0 265.9 504.0 266.7 505.0 266.3 506.0 266.6 507.0 267.4 508.0 265.8 509.0 267.5 510.0 267.5 511.0 265.9 512.0 266.9 513.0 266.2 514.0 266.8 515.0 265.8 516.0 266.9 517.0 266.1 518.0 267.6 519.0 266.6 520.0 267.1 521.0 266.6 522.0 267.7 523.0 267.4 524.0 267.1 525.0 266.5 526.0 267.3 527.0 266.8 528.0 266.0 529.0 267.7 530.0 266.9 531.0 266.8 532.0 267.7 533.0 266.8 534.0 266.1 535.0 267.4 536.0 267.1 537.0 266.7 538.0 267.0 539.0 266.8 540.0 266.9 541.0 265.5 542.0 264.0 543.0 258.1 544.0 251.0 545.0 247.1 546.0 247.4 547.0 251.8 548.0 260.0 549.0 264.7 550.0 266.1 551.0 266.4 552.0 266.5 553.0 266.8 554.0 266.5 555.0 267.4 556.0 267.0 557.0 267.1 558.0 267.1 559.0 265.2 560.0 263.5 561.0 262.5 562.0 263.4 563.0 263.6 564.0 266.5 565.0 267.0 566.0 266.8 567.0 267.7 568.0 268.3 569.0 268.3 570.0 267.9 571.0 267.3 572.0 267.2 573.0 266.9 574.0 267.2 575.0 267.3 576.0 268.2 577.0 268.2 578.0 268.0 579.0 268.4 580.0 268.5 581.0 267.6 582.0 268.0 583.0 268.7 584.0 268.6 585.0 266.7 586.0 266.0 587.0 260.4 588.0 249.4 589.0 233.9 590.0 221.0 591.0 220.3 592.0 231.5 593.0 247.2 594.0 259.2 595.0 264.7 596.0 266.9 597.0 268.0 598.0 267.1 599.0 267.4 600.0 267.1 601.0 267.3 602.0 267.0 603.0 268.3 604.0 267.4 605.0 267.3 606.0 268.9 607.0 267.1 608.0 267.8 609.0 267.8 610.0 268.7 611.0 268.2 612.0 268.3 613.0 268.3 614.0 267.8 615.0 268.3 616.0 267.5 617.0 268.8 618.0 268.7 619.0 267.6 620.0 268.5 621.0 267.4 622.0 268.0 623.0 269.3 624.0 268.9 625.0 267.6 626.0 268.6 627.0 268.6 628.0 266.8 629.0 264.0 630.0 260.9 631.0 258.1 632.0 258.7 633.0 262.3 634.0 265.6 635.0 266.3 636.0 268.5 637.0 268.5 638.0 268.9 639.0 268.3 640.0 269.1 641.0 269.1 642.0 268.2 643.0 268.1 644.0 269.2 645.0 268.7 646.0 269.5 647.0 268.1 648.0 267.9 649.0 268.5 650.0 269.7 651.0 269.0 652.0 268.0 653.0 268.2 654.0 267.8 655.0 269.1 656.0 269.7 657.0 267.7 658.0 268.0 659.0 265.5 660.0 257.1 661.0 235.9 662.0 205.8 663.0 181.8 664.0 178.1 665.0 200.9 666.0 230.2 667.0 253.4 668.0 264.0 669.0 268.6 670.0 268.6 671.0 269.0 672.0 268.5 673.0 269.6 674.0 269.3 675.0 269.4 676.0 269.5 677.0 269.1 678.0 267.8 679.0 267.4 680.0 266.3 681.0 264.4 682.0 263.8 683.0 265.3 684.0 267.4 685.0 267.5 686.0 269.0 687.0 268.7 688.0 268.8 689.0 269.3 690.0 268.1 691.0 268.0 692.0 267.2 693.0 263.2 694.0 257.8 695.0 253.8 696.0 255.3 697.0 259.1 698.0 264.2 699.0 266.2 700.0 269.1 701.0 268.7 702.0 270.3 703.0 268.7 704.0 268.9 705.0 269.7 706.0 268.4 707.0 265.2 708.0 264.7 709.0 263.7 710.0 264.9 711.0 266.3 712.0 269.1 713.0 270.1 714.0 268.8 715.0 269.0 716.0 270.1 717.0 270.2 718.0 269.8 719.0 270.3 720.0 270.4 721.0 270.5 722.0 269.3 723.0 270.4 724.0 268.9 725.0 269.7 726.0 269.6 727.0 269.1 728.0 270.0 729.0 269.3 730.0 270.7 731.0 270.7 732.0 270.3 733.0 267.4 734.0 265.1 735.0 254.2 736.0 234.9 737.0 217.7 738.0 210.8 739.0 220.1 740.0 239.5 741.0 256.1 742.0 265.5 743.0 268.0 744.0 269.4 745.0 270.6 746.0 270.4 747.0 269.3 748.0 270.1 749.0 270.6 750.0 270.8 751.0 270.5 752.0 269.2 753.0 268.4 754.0 266.7 755.0 267.9 756.0 267.5 757.0 267.8 758.0 268.6 759.0 269.8 760.0 269.8 761.0 270.2 762.0 269.7 763.0 269.1 764.0 268.2 765.0 264.7 766.0 264.3 767.0 263.9 768.0 265.9 769.0 268.0 770.0 268.8 771.0 269.4 772.0 271.1 773.0 270.5 774.0 270.5 775.0 270.4 776.0 270.9 777.0 270.5 778.0 271.2 779.0 270.5 780.0 270.9 781.0 271.6 782.0 270.1 783.0 270.8 784.0 270.4 785.0 270.4 786.0 269.7 787.0 270.5 788.0 270.4 789.0 270.4 790.0 270.8 791.0 270.6 792.0 269.9 793.0 270.8 794.0 270.0 795.0 270.7 796.0 270.7 797.0 270.0 798.0 271.1 799.0 271.7 800.0 270.6 801.0 271.2 802.0 270.3 803.0 269.5 804.0 269.4 805.0 269.7 806.0 268.7 807.0 269.9 808.0 270.1 809.0 271.5 810.0 271.9 811.0 271.7 812.0 270.9 813.0 270.7 814.0 270.2 815.0 270.2 816.0 271.6 817.0 270.5 818.0 270.5 819.0 270.8 820.0 270.2 821.0 272.0 822.0 271.5 823.0 271.1 824.0 271.6 825.0 271.3 826.0 272.0 827.0 271.2 828.0 270.5 829.0 271.2 830.0 270.9 831.0 270.9 832.0 272.2 833.0 271.4 834.0 271.0 835.0 270.6 836.0 271.8 837.0 270.8 838.0 271.3 839.0 272.1 840.0 270.4 841.0 272.1 842.0 270.7 843.0 270.7 844.0 270.6 845.0 271.5 846.0 272.2 847.0 271.3 848.0 271.8 849.0 271.3 850.0 272.3 851.0 272.4 852.0 271.5 853.0 272.4 854.0 271.8 855.0 271.6 856.0 271.5 857.0 272.4 858.0 270.2 859.0 269.1 860.0 267.9 861.0 266.3 862.0 265.2 863.0 267.8 864.0 269.4 865.0 270.2 866.0 272.1 867.0 270.9 868.0 271.5 869.0 272.8 870.0 271.8 871.0 271.3 872.0 272.4 873.0 272.2 874.0 272.5 875.0 271.6 876.0 271.1 877.0 272.9 878.0 272.8 879.0 271.7 880.0 271.7 881.0 272.6 882.0 272.5 883.0 272.6 884.0 271.5 885.0 270.8 886.0 268.7 887.0 267.2 888.0 263.8 889.0 263.0 890.0 264.8 891.0 267.2 892.0 271.0 893.0 271.7 894.0 271.1 895.0 271.1 896.0 271.6 897.0 271.9 898.0 271.8 899.0 270.8 900.0 270.1 901.0 268.2 902.0 266.3 903.0 265.9 904.0 266.5 905.0 269.8 906.0 270.2 907.0 272.0 908.0 271.7 909.0 271.7 910.0 273.0 911.0 272.3 912.0 271.6 913.0 271.8 914.0 273.1 915.0 272.9 916.0 271.6 917.0 271.8 918.0 272.7 919.0 271.5 920.0 271.7 921.0 271.4 922.0 271.6 923.0 272.2 924.0 271.6 925.0 272.7 926.0 271.8 927.0 272.5 928.0 271.9 929.0 272.8 930.0 273.3 931.0 271.9 932.0 272.8 933.0 272.3 934.0 271.6 935.0 272.0 936.0 272.4 937.0 271.8 938.0 273.2 939.0 273.0 940.0 271.9 941.0 271.4 942.0 272.0 943.0 270.1 944.0 268.6 945.0 268.3 946.0 268.2 947.0 268.0 948.0 270.5 949.0 270.8 950.0 272.0 951.0 272.8 952.0 271.6 953.0 272.5 954.0 272.7 955.0 272.6 956.0 273.3 957.0 272.7 958.0 273.4 959.0 271.8 960.0 272.5 961.0 272.5 962.0 271.6 963.0 270.9 964.0 268.7 965.0 266.7 966.0 265.5 967.0 265.6 968.0 269.4 969.0 271.2 970.0 270.9 971.0 273.4 972.0 273.4 973.0 272.0 974.0 273.3 975.0 271.7 976.0 272.3 977.0 272.1 978.0 271.9 979.0 271.9 980.0 270.8 981.0 270.9 982.0 267.8 983.0 267.9 984.0 268.6 985.0 268.9 986.0 270.8 987.0 271.3 988.0 272.9 989.0 273.4 990.0 272.2 991.0 273.4 992.0 272.1 993.0 273.3 994.0 272.7 995.0 272.8 996.0 272.6 997.0 272.9 998.0 273.7 999.0 273.0 1000.0 272.3 1001.0 272.2 1002.0 273.2 1003.0 273.8 1004.0 272.0 1005.0 273.6 1006.0 272.6 1007.0 273.2 1008.0 272.1 1009.0 272.1 1010.0 272.3 1011.0 273.8 1012.0 273.3 1013.0 272.1 1014.0 272.9 1015.0 273.8 1016.0 273.3 1017.0 271.6 1018.0 268.8 1019.0 265.8 1020.0 258.3 1021.0 255.1 1022.0 254.2 1023.0 260.4 1024.0 265.4 1025.0 271.0 1026.0 272.6 1027.0 272.8 1028.0 272.2 1029.0 273.3 1030.0 272.3 1031.0 272.2 1032.0 272.3 1033.0 272.7 1034.0 273.8 1035.0 273.6 1036.0 273.5 1037.0 273.5 1038.0 273.0 1039.0 272.1 1040.0 271.6 1041.0 269.1 1042.0 265.0 1043.0 262.9 1044.0 262.9 1045.0 266.4 1046.0 268.7 1047.0 271.6 1048.0 272.3 1049.0 273.1 1050.0 270.2 1051.0 268.4 1052.0 267.8 1053.0 267.1 1054.0 268.0 1055.0 271.4 1056.0 272.1 1057.0 272.2 1058.0 273.4 1059.0 273.6 1060.0 273.2 1061.0 274.0 1062.0 273.3 1063.0 273.0 1064.0 272.8 1065.0 272.9 1066.0 273.0 1067.0 272.5 1068.0 272.7 1069.0 272.4 1070.0 273.8 1071.0 273.4 1072.0 274.1 1073.0 273.3 1074.0 272.8 1075.0 272.5 1076.0 274.1 1077.0 274.3 1078.0 272.4 1079.0 273.0 1080.0 273.6 1081.0 272.5 1082.0 272.6 1083.0 271.3 1084.0 271.7 1085.0 269.4 1086.0 268.7 1087.0 270.8 1088.0 272.5 1089.0 273.0 1090.0 273.1 1091.0 274.0 1092.0 272.8 1093.0 273.2 1094.0 273.4 1095.0 274.0 1096.0 274.0 1097.0 272.7 1098.0 273.2 1099.0 274.0 1100.0 273.7 1101.0 273.6 1102.0 273.9 1103.0 272.1 1104.0 271.0 1105.0 269.7 1106.0 270.2 1107.0 268.9 1108.0 270.1 1109.0 271.4 1110.0 272.6 1111.0 272.5 1112.0 273.2 1113.0 274.3 1114.0 274.3 1115.0 274.3 1116.0 273.5 1117.0 273.2 1118.0 273.3 1119.0 272.7 1120.0 270.1 1121.0 267.9 1122.0 268.3 1123.0 268.4 1124.0 271.3 1125.0 271.8 1126.0 273.5 1127.0 274.0 1128.0 273.8 1129.0 273.8 1130.0 274.4 1131.0 273.1 1132.0 273.2 1133.0 274.2 1134.0 274.3 1135.0 274.6 1136.0 274.0 1137.0 274.3 1138.0 273.1 1139.0 274.0 1140.0 274.2 1141.0 274.6 1142.0 273.0 1143.0 273.9 1144.0 273.1 1145.0 274.3 1146.0 273.2 1147.0 274.0 1148.0 273.5 1149.0 274.3 1150.0 273.2 1151.0 274.6 1152.0 273.3 1153.0 273.6 1154.0 271.5 1155.0 265.1 1156.0 259.5 1157.0 255.4 1158.0 255.9 1159.0 261.6 1160.0 267.4 1161.0 270.6 1162.0 273.6 1163.0 274.6 1164.0 273.6 1165.0 274.4 1166.0 273.6 1167.0 274.4 1168.0 272.5 1169.0 271.6 1170.0 269.9 1171.0 268.0 1172.0 267.9 1173.0 271.3 1174.0 273.5 1175.0 273.2 1176.0 272.9 1177.0 273.6 1178.0 273.3 1179.0 274.2 1180.0 274.3 1181.0 274.7 1182.0 274.7 1183.0 273.8 1184.0 273.9 1185.0 274.1 1186.0 271.1 1187.0 270.8 1188.0 270.3 1189.0 270.4 1190.0 271.7 1191.0 273.6 1192.0 273.3 1193.0 274.3 1194.0 274.0 1195.0 273.7 1196.0 273.7 1197.0 274.0 1198.0 273.7 1199.0 273.4 1200.0 273.7 1201.0 274.4 1202.0 274.7 1203.0 274.6 1204.0 273.8 1205.0 273.5 1206.0 275.1 1207.0 273.3 1208.0 273.5 1209.0 273.3 1210.0 275.1 1211.0 273.8 1212.0 274.2 1213.0 273.8 1214.0 273.4 1215.0 275.0 1216.0 273.7 1217.0 274.7 1218.0 274.1 1219.0 273.9 1220.0 273.5 1221.0 273.6 1222.0 274.8 1223.0 273.1 1224.0 271.8 1225.0 271.0 1226.0 269.7 1227.0 270.4 1228.0 272.6 1229.0 273.7 1230.0 273.2 1231.0 274.3 1232.0 275.1 1233.0 274.8 1234.0 274.3 1235.0 274.0 1236.0 274.4 1237.0 273.5 1238.0 274.3 1239.0 275.1 1240.0 274.3 1241.0 274.5 1242.0 274.6 1243.0 274.3 1244.0 274.3 1245.0 274.7 1246.0 274.8 1247.0 275.5 1248.0 274.3 1249.0 273.6 1250.0 275.5 1251.0 274.7 1252.0 273.7 1253.0 273.8 1254.0 274.6 1255.0 272.3 1256.0 272.2 1257.0 271.4 1258.0 272.5 1259.0 271.7 1260.0 273.2 1261.0 273.4 1262.0 274.3 1263.0 274.3 1264.0 274.6 1265.0 274.5 1266.0 275.2 1267.0 273.9 1268.0 273.8 1269.0 275.1 1270.0 275.1 1271.0 274.4 1272.0 274.7 1273.0 274.3 1274.0 275.2 1275.0 274.5 1276.0 275.0 1277.0 274.8 1278.0 274.3 1279.0 274.1 1280.0 275.1 1281.0 275.4 1282.0 274.0 1283.0 275.2 1284.0 275.3 1285.0 274.4 1286.0 275.6 1287.0 275.0 1288.0 274.5 1289.0 275.8 1290.0 275.8 1291.0 275.0 1292.0 274.5 1293.0 275.8 1294.0 274.2 1295.0 275.6 1296.0 274.0 1297.0 274.7 1298.0 274.7 1299.0 275.2 1300.0 275.1 1301.0 274.7 1302.0 273.2 1303.0 269.8 1304.0 268.4 1305.0 268.4 1306.0 268.4 1307.0 270.8 1308.0 273.6 1309.0 275.1 1310.0 275.0 1311.0 274.7 1312.0 275.5 1313.0 274.8 1314.0 275.8 1315.0 275.3 1316.0 275.5 1317.0 274.1 1318.0 275.9 1319.0 274.9 1320.0 275.5 1321.0 275.5 1322.0 275.8 1323.0 274.6 1324.0 274.1 1325.0 274.8 1326.0 275.3 1327.0 274.6 1328.0 275.3 1329.0 274.5 1330.0 275.0 1331.0 274.9 1332.0 275.4 1333.0 275.7 1334.0 275.9 1335.0 275.4 1336.0 274.9 1337.0 276.1 1338.0 274.4 1339.0 274.7 1340.0 274.6 1341.0 275.8 1342.0 274.7 1343.0 273.7 1344.0 274.2 1345.0 273.4 1346.0 272.4 1347.0 273.4 1348.0 274.3 1349.0 274.3 1350.0 275.4 1351.0 274.5 1352.0 275.3 1353.0 274.4 1354.0 275.7 1355.0 276.1 1356.0 274.5 1357.0 276.1 1358.0 274.6 1359.0 275.5 1360.0 275.9 1361.0 275.8 1362.0 274.4 1363.0 275.1 1364.0 274.4 1365.0 275.3 1366.0 274.8 1367.0 275.5 1368.0 274.6 1369.0 275.5 1370.0 275.5 1371.0 275.9 1372.0 276.2 1373.0 275.8 1374.0 274.5 1375.0 275.7 1376.0 276.4 1377.0 274.5 1378.0 274.9 1379.0 276.4 1380.0 275.5 1381.0 276.4 1382.0 276.5 1383.0 274.6 1384.0 274.7 1385.0 274.9 1386.0 276.5 1387.0 275.6 1388.0 275.2 1389.0 275.6 1390.0 275.4 1391.0 275.3 1392.0 276.2 1393.0 276.4 1394.0 276.1 1395.0 276.3 1396.0 276.3 1397.0 274.6 1398.0 275.1 1399.0 275.7 1400.0 276.0 1401.0 276.4 1402.0 275.5 1403.0 275.6 1404.0 273.4 1405.0 273.1 1406.0 273.6 1407.0 272.7 1408.0 274.5 1409.0 275.0 1410.0 275.2 1411.0 276.1 1412.0 276.2 1413.0 274.8 1414.0 275.4 1415.0 275.6 1416.0 275.3 1417.0 274.7 1418.0 276.6 1419.0 276.7 1420.0 275.1 1421.0 276.5 1422.0 276.6 1423.0 276.6 1424.0 275.7 1425.0 274.8 1426.0 276.4 1427.0 275.7 1428.0 274.9 1429.0 275.8 1430.0 275.9 1431.0 275.4 1432.0 276.3 1433.0 276.1 1434.0 276.1 1435.0 275.5 1436.0 276.4 1437.0 276.2 1438.0 275.8 1439.0 275.3 1440.0 274.9 1441.0 276.5 1442.0 275.7 1443.0 276.0 1444.0 275.1 1445.0 276.0 1446.0 274.9 1447.0 275.9 1448.0 275.9 1449.0 276.5 1450.0 276.8 1451.0 276.2 1452.0 276.2 1453.0 276.5 1454.0 274.3 1455.0 274.7 1456.0 273.2 1457.0 273.9 1458.0 274.6 1459.0 275.2 1460.0 275.7 1461.0 275.0 1462.0 276.0 1463.0 275.6 1464.0 275.4 1465.0 275.6 1466.0 275.2 1467.0 276.5 1468.0 276.3 1469.0 276.0 1470.0 276.4 1471.0 276.9 1472.0 276.2 1473.0 276.3 1474.0 276.7 1475.0 276.5 1476.0 276.3 1477.0 276.9 1478.0 276.9 1479.0 276.9 1480.0 276.1 1481.0 277.0 1482.0 276.9 1483.0 275.2 1484.0 275.7 1485.0 276.3 1486.0 276.9 1487.0 276.7 1488.0 276.0 1489.0 277.1 1490.0 276.6 1491.0 275.6 1492.0 276.6 1493.0 276.3 1494.0 276.6 1495.0 275.6 1496.0 275.5 1497.0 275.6 1498.0 275.3 1499.0 276.6 1500.0 276.2 1501.0 277.0 1502.0 276.0 1503.0 277.1 1504.0 277.1 1505.0 275.9 1506.0 276.2 1507.0 275.4 1508.0 276.0 1509.0 276.3 1510.0 275.9 1511.0 276.8 1512.0 275.7 1513.0 277.1 1514.0 277.0 1515.0 276.7 1516.0 277.2 1517.0 275.8 1518.0 275.5 1519.0 277.0 1520.0 277.2 1521.0 276.5 1522.0 275.6 1523.0 277.0 1524.0 277.3 1525.0 276.6 1526.0 276.4 1527.0 277.3 1528.0 276.3 1529.0 276.8 1530.0 277.4 1531.0 277.3 1532.0 275.8 1533.0 275.8 1534.0 275.7 1535.0 276.6 1536.0 277.0" stroke="#ff8000" stroke-width="8" fill="none" stroke-linejoin="round"/><rect x="1615.4" y="161.8" width="554.3" height="758.0" fill="none" stroke="#000" stroke-width="6"/><line x1="1670.1" y1="919.8" x2="1670.1" y2="936.5" stroke="#000" stroke-width="7"/><line x1="1781.1" y1="919.8" x2="1781.1" y2="936.5" stroke="#000" stroke-width="7"/><line x1="1892.0" y1="919.8" x2="1892.0" y2="936.5" stroke="#000" stroke-width="7"/><line x1="2003.0" y1="919.8" x2="2003.0" y2="936.5" stroke="#000" stroke-width="7"/><line x1="2113.9" y1="919.8" x2="2113.9" y2="936.5" stroke="#000" stroke-width="7"/><line x1="1615.4" y1="919.8" x2="1615.4" y2="929.5" stroke="#000" stroke-width="7"/><line x1="1725.6" y1="919.8" x2="1725.6" y2="929.5" stroke="#000" stroke-width="7"/><line x1="1836.5" y1="919.8" x2="1836.5" y2="929.5" stroke="#000" stroke-width="7"/><line x1="1947.5" y1="919.8" x2="1947.5" y2="929.5" stroke="#000" stroke-width="7"/><line x1="2058.4" y1="919.8" x2="2058.4" y2="929.5" stroke="#000" stroke-width="7"/><line x1="2169.7" y1="919.8" x2="2169.7" y2="929.5" stroke="#000" stroke-width="7"/><path d="M1604.8 271.32 1605.8 271.34 1606.8 271.36 1607.8 271.39 1608.8 271.42 1609.8 271.45 1610.8 271.48 1611.8 271.52 1612.8 271.55 1613.8 271.59 1614.8 271.62 1615.8 271.65 1616.8 271.69 1617.8 271.72 1618.8 271.75 1619.8 271.79 1620.8 271.82 1621.8 271.85 1622.8 271.88 1623.8 271.91 1624.8 271.94 1625.8 271.97 1626.8 271.99 1627.8 272.02 1628.8 272.05 1629.8 272.07 1630.8 272.09 1631.8 272.11 1632.8 272.13 1633.8 272.15 1634.8 272.17 1635.8 272.18 1636.8 272.20 1637.8 272.21 1638.8 272.22 1639.8 272.23 1640.8 272.23 1641.8 272.24 1642.8 272.24 1643.8 272.24 1644.8 272.23 1645.8 272.23 1646.8 272.22 1647.8 272.20 1648.8 272.19 1649.8 272.17 1650.8 272.15 1651.8 272.12 1652.8 272.10 1653.8 272.07 1654.8 272.04 1655.8 272.01 1656.8 271.98 1657.8 271.95 1658.8 271.91 1659.8 271.87 1660.8 271.84 1661.8 271.79 1662.8 271.75 1663.8 271.71 1664.8 271.66 1665.8 271.62 1666.8 271.57 1667.8 271.52 1668.8 271.47 1669.8 271.42 1670.8 271.37 1671.8 271.31 1672.8 271.26 1673.8 271.20 1674.8 271.15 1675.8 271.09 1676.8 271.03 1677.8 270.97 1678.8 270.91 1679.8 270.85 1680.8 270.79 1681.8 270.72 1682.8 270.66 1683.8 270.59 1684.8 270.53 1685.8 270.46 1686.8 270.40 1687.8 270.33 1688.8 270.26 1689.8 270.19 1690.8 270.12 1691.8 270.05 1692.8 269.98 1693.8 269.91 1694.8 269.84 1695.8 269.77 1696.8 269.70 1697.8 269.63 1698.8 269.56 1699.8 269.48 1700.8 269.41 1701.8 269.34 1702.8 269.26 1703.8 269.19 1704.8 269.12 1705.8 269.04 1706.8 268.97 1707.8 268.89 1708.8 268.81 1709.8 268.74 1710.8 268.66 1711.8 268.58 1712.8 268.51 1713.8 268.43 1714.8 268.35 1715.8 268.27 1716.8 268.19 1717.8 268.11 1718.8 268.02 1719.8 267.94 1720.8 267.86 1721.8 267.78 1722.8 267.69 1723.8 267.61 1724.8 267.52 1725.8 267.43 1726.8 267.34 1727.8 267.26 1728.8 267.17 1729.8 267.07 1730.8 266.98 1731.8 266.89 1732.8 266.79 1733.8 266.70 1734.8 266.60 1735.8 266.50 1736.8 266.40 1737.8 266.30 1738.8 266.20 1739.8 266.09 1740.8 265.99 1741.8 265.88 1742.8 265.77 1743.8 265.65 1744.8 265.54 1745.8 265.42 1746.8 265.30 1747.8 265.18 1748.8 265.05 1749.8 264.92 1750.8 264.78 1751.8 264.65 1752.8 264.50 1753.8 264.36 1754.8 264.21 1755.8 264.05 1756.8 263.89 1757.8 263.72 1758.8 263.55 1759.8 263.38 1760.8 263.20 1761.8 263.01 1762.8 262.82 1763.8 262.62 1764.8 262.42 1765.8 262.22 1766.8 262.01 1767.8 261.80 1768.8 261.58 1769.8 261.36 1770.8 261.13 1771.8 260.91 1772.8 260.68 1773.8 260.45 1774.8 260.22 1775.8 259.98 1776.8 259.75 1777.8 259.52 1778.8 259.29 1779.8 259.06 1780.8 258.83 1781.8 258.61 1782.8 258.38 1783.8 258.16 1784.8 257.94 1785.8 257.72 1786.8 257.50 1787.8 257.28 1788.8 257.07 1789.8 256.85 1790.8 256.63 1791.8 256.41 1792.8 256.20 1793.8 255.98 1794.8 255.76 1795.8 255.53 1796.8 255.31 1797.8 255.09 1798.8 254.86 1799.8 254.64 1800.8 254.41 1801.8 254.17 1802.8 253.94 1803.8 253.70 1804.8 253.46 1805.8 253.22 1806.8 252.97 1807.8 252.72 1808.8 252.46 1809.8 252.20 1810.8 251.93 1811.8 251.66 1812.8 251.38 1813.8 251.10 1814.8 250.81 1815.8 250.51 1816.8 250.21 1817.8 249.90 1818.8 249.58 1819.8 249.26 1820.8 248.93 1821.8 248.60 1822.8 248.26 1823.8 247.91 1824.8 247.56 1825.8 247.20 1826.8 246.83 1827.8 246.46 1828.8 246.08 1829.8 245.69 1830.8 245.29 1831.8 244.89 1832.8 244.48 1833.8 244.06 1834.8 243.63 1835.8 243.19 1836.8 242.75 1837.8 242.30 1838.8 241.84 1839.8 241.37 1840.8 240.90 1841.8 240.42 1842.8 239.93 1843.8 239.43 1844.8 238.93 1845.8 238.41 1846.8 237.89 1847.8 237.36 1848.8 236.82 1849.8 236.27 1850.8 235.71 1851.8 235.14 1852.8 234.57 1853.8 233.98 1854.8 233.39 1855.8 232.80 1856.8 232.19 1857.8 231.59 1858.8 230.97 1859.8 230.35 1860.8 229.73 1861.8 229.10 1862.8 228.47 1863.8 227.84 1864.8 227.20 1865.8 226.56 1866.8 225.91 1867.8 225.27 1868.8 224.62 1869.8 223.98 1870.8 223.33 1871.8 222.67 1872.8 222.02 1873.8 221.36 1874.8 220.70 1875.8 220.04 1876.8 219.37 1877.8 218.69 1878.8 218.02 1879.8 217.34 1880.8 216.66 1881.8 215.97 1882.8 215.28 1883.8 214.58 1884.8 213.88 1885.8 213.18 1886.8 212.48 1887.8 211.77 1888.8 211.05 1889.8 210.34 1890.8 209.62 1891.8 208.89 1892.8 208.16 1893.8 207.43 1894.8 206.70 1895.8 205.96 1896.8 205.21 1897.8 204.45 1898.8 203.69 1899.8 202.91 1900.8 202.12 1901.8 201.32 1902.8 200.51 1903.8 199.68 1904.8 198.85 1905.8 198.01 1906.8 197.16 1907.8 196.31 1908.8 195.46 1909.8 194.60 1910.8 193.75 1911.8 192.90 1912.8 192.05 1913.8 191.21 1914.8 190.38 1915.8 189.56 1916.8 188.75 1917.8 187.95 1918.8 187.17 1919.8 186.40 1920.8 185.66 1921.8 184.94 1922.8 184.25 1923.8 183.59 1924.8 182.96 1925.8 182.36 1926.8 181.79 1927.8 181.24 1928.8 180.72 1929.8 180.22 1930.8 179.75 1931.8 179.31 1932.8 178.89 1933.8 178.50 1934.8 178.14 1935.8 177.80 1936.8 177.49 1937.8 177.20 1938.8 176.94 1939.8 176.70 1940.8 176.49 1941.8 176.30 1942.8 176.14 1943.8 175.99 1944.8 175.87 1945.8 175.77 1946.8 175.69 1947.8 175.65 1948.8 175.63 1949.8 175.65 1950.8 175.71 1951.8 175.81 1952.8 175.95 1953.8 176.14 1954.8 176.37 1955.8 176.65 1956.8 176.98 1957.8 177.35 1958.8 177.77 1959.8 178.23 1960.8 178.74 1961.8 179.29 1962.8 179.89 1963.8 180.54 1964.8 181.23 1965.8 181.96 1966.8 182.73 1967.8 183.53 1968.8 184.37 1969.8 185.23 1970.8 186.12 1971.8 187.03 1972.8 187.95 1973.8 188.90 1974.8 189.86 1975.8 190.84 1976.8 191.83 1977.8 192.85 1978.8 193.89 1979.8 194.97 1980.8 196.10 1981.8 197.28 1982.8 198.51 1983.8 199.77 1984.8 201.06 1985.8 202.36 1986.8 203.65 1987.8 204.92 1988.8 206.15 1989.8 207.33 1990.8 208.44 1991.8 209.50 1992.8 210.51 1993.8 211.48 1994.8 212.42 1995.8 213.32 1996.8 214.17 1997.8 214.96 1998.8 215.69 1999.8 216.36 2000.8 216.97 2001.8 217.52 2002.8 218.01 2003.8 218.46 2004.8 218.86 2005.8 219.23 2006.8 219.56 2007.8 219.85 2008.8 220.12 2009.8 220.36 2010.8 220.58 2011.8 220.78 2012.8 220.97 2013.8 221.15 2014.8 221.32 2015.8 221.48 2016.8 221.64 2017.8 221.79 2018.8 221.95 2019.8 222.10 2020.8 222.25 2021.8 222.40 2022.8 222.56 2023.8 222.72 2024.8 222.88 2025.8 223.06 2026.8 223.24 2027.8 223.43 2028.8 223.64 2029.8 223.87 2030.8 224.11 2031.8 224.38 2032.8 224.67 2033.8 224.98 2034.8 225.31 2035.8 225.66 2036.8 226.03 2037.8 226.43 2038.8 226.84 2039.8 227.28 2040.8 227.74 2041.8 228.22 2042.8 228.71 2043.8 229.23 2044.8 229.75 2045.8 230.29 2046.8 230.83 2047.8 231.39 2048.8 231.94 2049.8 232.50 2050.8 233.06 2051.8 233.63 2052.8 234.21 2053.8 234.80 2054.8 235.40 2055.8 236.00 2056.8 236.62 2057.8 237.24 2058.8 237.87 2059.8 238.50 2060.8 239.14 2061.8 239.79 2062.8 240.44 2063.8 241.09 2064.8 241.75 2065.8 242.42 2066.8 243.09 2067.8 243.76 2068.8 244.44 2069.8 245.14 2070.8 245.85 2071.8 246.59 2072.8 247.35 2073.8 248.13 2074.8 248.93 2075.8 249.75 2076.8 250.57 2077.8 251.38 2078.8 252.19 2079.8 252.98 2080.8 253.74 2081.8 254.48 2082.8 255.18 2083.8 255.84 2084.8 256.46 2085.8 257.03 2086.8 257.57 2087.8 258.06 2088.8 258.52 2089.8 258.95 2090.8 259.34 2091.8 259.72 2092.8 260.07 2093.8 260.41 2094.8 260.73 2095.8 261.03 2096.8 261.33 2097.8 261.61 2098.8 261.89 2099.8 262.16 2100.8 262.42 2101.8 262.68 2102.8 262.93 2103.8 263.18 2104.8 263.43 2105.8 263.68 2106.8 263.93 2107.8 264.18 2108.8 264.44 2109.8 264.70 2110.8 264.96 2111.8 265.23 2112.8 265.51 2113.8 265.78 2114.8 266.06 2115.8 266.33 2116.8 266.60 2117.8 266.87 2118.8 267.12 2119.8 267.37 2120.8 267.61 2121.8 267.84 2122.8 268.05 2123.8 268.25 2124.8 268.44 2125.8 268.62 2126.8 268.78 2127.8 268.93 2128.8 269.08 2129.8 269.21 2130.8 269.33 2131.8 269.44 2132.8 269.54 2133.8 269.64 2134.8 269.73 2135.8 269.81 2136.8 269.89 2137.8 269.97 2138.8 270.04 2139.8 270.10 2140.8 270.16 2141.8 270.22 2142.8 270.28 2143.8 270.33 2144.8 270.39 2145.8 270.44 2146.8 270.48 2147.8 270.53 2148.8 270.58 2149.8 270.63 2150.8 270.67 2151.8 270.71 2152.8 270.75 2153.8 270.79 2154.8 270.83 2155.8 270.86 2156.8 270.89 2157.8 270.92 2158.8 270.95 2159.8 270.97 2160.8 271.00 2161.8 271.02 2162.8 271.04 2163.8 271.06 2164.8 271.08 2165.8 271.10 2166.8 271.11 2167.8 271.13 2168.8 271.15 2169.8 271.16 2170.8 271.18 2171.8 271.20 2172.8 271.21 2173.8 271.23 2174.8 271.24 2175.8 271.26 2176.8 271.27 2177.8 271.28" stroke="#ff8000" stroke-width="6.3" fill="none" stroke-linejoin="round"/><path d="M1604.8 400.12 1605.8 400.14 1606.8 400.16 1607.8 400.18 1608.8 400.21 1609.8 400.25 1610.8 400.28 1611.8 400.32 1612.8 400.35 1613.8 400.38 1614.8 400.42 1615.8 400.45 1616.8 400.49 1617.8 400.52 1618.8 400.56 1619.8 400.59 1620.8 400.62 1621.8 400.65 1622.8 400.68 1623.8 400.71 1624.8 400.74 1625.8 400.77 1626.8 400.79 1627.8 400.82 1628.8 400.84 1629.8 400.86 1630.8 400.88 1631.8 400.90 1632.8 400.92 1633.8 400.94 1634.8 400.95 1635.8 400.96 1636.8 400.97 1637.8 400.98 1638.8 400.98 1639.8 400.99 1640.8 400.99 1641.8 400.99 1642.8 400.98 1643.8 400.97 1644.8 400.96 1645.8 400.95 1646.8 400.93 1647.8 400.91 1648.8 400.88 1649.8 400.85 1650.8 400.82 1651.8 400.78 1652.8 400.74 1653.8 400.70 1654.8 400.65 1655.8 400.60 1656.8 400.55 1657.8 400.50 1658.8 400.45 1659.8 400.39 1660.8 400.33 1661.8 400.27 1662.8 400.21 1663.8 400.14 1664.8 400.07 1665.8 400.01 1666.8 399.94 1667.8 399.87 1668.8 399.80 1669.8 399.72 1670.8 399.65 1671.8 399.57 1672.8 399.50 1673.8 399.42 1674.8 399.34 1675.8 399.27 1676.8 399.19 1677.8 399.11 1678.8 399.03 1679.8 398.95 1680.8 398.87 1681.8 398.79 1682.8 398.70 1683.8 398.62 1684.8 398.54 1685.8 398.46 1686.8 398.38 1687.8 398.30 1688.8 398.22 1689.8 398.14 1690.8 398.06 1691.8 397.98 1692.8 397.90 1693.8 397.83 1694.8 397.75 1695.8 397.68 1696.8 397.60 1697.8 397.53 1698.8 397.46 1699.8 397.39 1700.8 397.32 1701.8 397.25 1702.8 397.18 1703.8 397.12 1704.8 397.05 1705.8 396.99 1706.8 396.92 1707.8 396.86 1708.8 396.80 1709.8 396.73 1710.8 396.67 1711.8 396.60 1712.8 396.54 1713.8 396.47 1714.8 396.41 1715.8 396.34 1716.8 396.27 1717.8 396.21 1718.8 396.14 1719.8 396.06 1720.8 395.99 1721.8 395.92 1722.8 395.84 1723.8 395.76 1724.8 395.68 1725.8 395.60 1726.8 395.51 1727.8 395.42 1728.8 395.33 1729.8 395.23 1730.8 395.13 1731.8 395.03 1732.8 394.92 1733.8 394.81 1734.8 394.69 1735.8 394.57 1736.8 394.44 1737.8 394.31 1738.8 394.17 1739.8 394.03 1740.8 393.88 1741.8 393.72 1742.8 393.56 1743.8 393.40 1744.8 393.23 1745.8 393.06 1746.8 392.88 1747.8 392.69 1748.8 392.50 1749.8 392.31 1750.8 392.11 1751.8 391.91 1752.8 391.71 1753.8 391.50 1754.8 391.29 1755.8 391.07 1756.8 390.85 1757.8 390.63 1758.8 390.41 1759.8 390.18 1760.8 389.96 1761.8 389.73 1762.8 389.50 1763.8 389.28 1764.8 389.05 1765.8 388.82 1766.8 388.59 1767.8 388.36 1768.8 388.14 1769.8 387.92 1770.8 387.69 1771.8 387.47 1772.8 387.26 1773.8 387.04 1774.8 386.83 1775.8 386.61 1776.8 386.40 1777.8 386.18 1778.8 385.97 1779.8 385.75 1780.8 385.54 1781.8 385.32 1782.8 385.09 1783.8 384.87 1784.8 384.64 1785.8 384.40 1786.8 384.17 1787.8 383.92 1788.8 383.67 1789.8 383.42 1790.8 383.15 1791.8 382.88 1792.8 382.60 1793.8 382.31 1794.8 382.01 1795.8 381.70 1796.8 381.38 1797.8 381.05 1798.8 380.70 1799.8 380.34 1800.8 379.97 1801.8 379.59 1802.8 379.19 1803.8 378.77 1804.8 378.35 1805.8 377.91 1806.8 377.45 1807.8 376.99 1808.8 376.52 1809.8 376.03 1810.8 375.54 1811.8 375.03 1812.8 374.52 1813.8 374.00 1814.8 373.47 1815.8 372.93 1816.8 372.39 1817.8 371.85 1818.8 371.30 1819.8 370.75 1820.8 370.19 1821.8 369.63 1822.8 369.08 1823.8 368.52 1824.8 367.97 1825.8 367.41 1826.8 366.86 1827.8 366.31 1828.8 365.77 1829.8 365.22 1830.8 364.68 1831.8 364.14 1832.8 363.59 1833.8 363.05 1834.8 362.50 1835.8 361.96 1836.8 361.40 1837.8 360.85 1838.8 360.29 1839.8 359.72 1840.8 359.14 1841.8 358.56 1842.8 357.97 1843.8 357.37 1844.8 356.76 1845.8 356.14 1846.8 355.50 1847.8 354.86 1848.8 354.20 1849.8 353.52 1850.8 352.83 1851.8 352.13 1852.8 351.40 1853.8 350.66 1854.8 349.91 1855.8 349.13 1856.8 348.34 1857.8 347.53 1858.8 346.71 1859.8 345.87 1860.8 345.02 1861.8 344.16 1862.8 343.28 1863.8 342.39 1864.8 341.50 1865.8 340.59 1866.8 339.67 1867.8 338.75 1868.8 337.82 1869.8 336.88 1870.8 335.94 1871.8 335.00 1872.8 334.05 1873.8 333.09 1874.8 332.14 1875.8 331.18 1876.8 330.23 1877.8 329.27 1878.8 328.31 1879.8 327.35 1880.8 326.39 1881.8 325.42 1882.8 324.43 1883.8 323.44 1884.8 322.43 1885.8 321.42 1886.8 320.39 1887.8 319.35 1888.8 318.31 1889.8 317.26 1890.8 316.21 1891.8 315.16 1892.8 314.10 1893.8 313.05 1894.8 312.00 1895.8 310.95 1896.8 309.91 1897.8 308.88 1898.8 307.86 1899.8 306.85 1900.8 305.85 1901.8 304.87 1902.8 303.91 1903.8 302.98 1904.8 302.06 1905.8 301.18 1906.8 300.32 1907.8 299.48 1908.8 298.67 1909.8 297.87 1910.8 297.09 1911.8 296.33 1912.8 295.59 1913.8 294.86 1914.8 294.16 1915.8 293.49 1916.8 292.85 1917.8 292.23 1918.8 291.66 1919.8 291.13 1920.8 290.64 1921.8 290.20 1922.8 289.81 1923.8 289.47 1924.8 289.20 1925.8 288.98 1926.8 288.83 1927.8 288.75 1928.8 288.74 1929.8 288.80 1930.8 288.94 1931.8 289.16 1932.8 289.44 1933.8 289.78 1934.8 290.18 1935.8 290.64 1936.8 291.15 1937.8 291.70 1938.8 292.30 1939.8 292.94 1940.8 293.62 1941.8 294.33 1942.8 295.08 1943.8 295.87 1944.8 296.72 1945.8 297.65 1946.8 298.69 1947.8 299.88 1948.8 301.21 1949.8 302.68 1950.8 304.24 1951.8 305.85 1952.8 307.44 1953.8 308.98 1954.8 310.47 1955.8 311.90 1956.8 313.30 1957.8 314.68 1958.8 316.05 1959.8 317.40 1960.8 318.75 1961.8 320.07 1962.8 321.37 1963.8 322.64 1964.8 323.89 1965.8 325.09 1966.8 326.27 1967.8 327.42 1968.8 328.54 1969.8 329.65 1970.8 330.75 1971.8 331.83 1972.8 332.89 1973.8 333.94 1974.8 334.96 1975.8 335.96 1976.8 336.91 1977.8 337.83 1978.8 338.71 1979.8 339.53 1980.8 340.30 1981.8 341.01 1982.8 341.66 1983.8 342.23 1984.8 342.74 1985.8 343.18 1986.8 343.54 1987.8 343.84 1988.8 344.09 1989.8 344.29 1990.8 344.44 1991.8 344.56 1992.8 344.66 1993.8 344.73 1994.8 344.79 1995.8 344.84 1996.8 344.90 1997.8 344.95 1998.8 345.02 1999.8 345.11 2000.8 345.20 2001.8 345.31 2002.8 345.41 2003.8 345.50 2004.8 345.58 2005.8 345.64 2006.8 345.69 2007.8 345.74 2008.8 345.80 2009.8 345.87 2010.8 345.97 2011.8 346.11 2012.8 346.29 2013.8 346.53 2014.8 346.83 2015.8 347.20 2016.8 347.65 2017.8 348.17 2018.8 348.77 2019.8 349.45 2020.8 350.20 2021.8 351.01 2022.8 351.88 2023.8 352.80 2024.8 353.76 2025.8 354.74 2026.8 355.75 2027.8 356.77 2028.8 357.79 2029.8 358.81 2030.8 359.81 2031.8 360.80 2032.8 361.76 2033.8 362.70 2034.8 363.61 2035.8 364.50 2036.8 365.38 2037.8 366.24 2038.8 367.10 2039.8 367.96 2040.8 368.81 2041.8 369.66 2042.8 370.50 2043.8 371.34 2044.8 372.16 2045.8 372.98 2046.8 373.79 2047.8 374.59 2048.8 375.38 2049.8 376.16 2050.8 376.92 2051.8 377.66 2052.8 378.39 2053.8 379.10 2054.8 379.79 2055.8 380.47 2056.8 381.14 2057.8 381.79 2058.8 382.43 2059.8 383.06 2060.8 383.68 2061.8 384.29 2062.8 384.88 2063.8 385.46 2064.8 386.02 2065.8 386.56 2066.8 387.09 2067.8 387.60 2068.8 388.09 2069.8 388.56 2070.8 389.01 2071.8 389.45 2072.8 389.86 2073.8 390.26 2074.8 390.64 2075.8 391.00 2076.8 391.35 2077.8 391.68 2078.8 391.99 2079.8 392.29 2080.8 392.57 2081.8 392.83 2082.8 393.09 2083.8 393.32 2084.8 393.55 2085.8 393.76 2086.8 393.96 2087.8 394.15 2088.8 394.34 2089.8 394.51 2090.8 394.67 2091.8 394.83 2092.8 394.99 2093.8 395.14 2094.8 395.28 2095.8 395.43 2096.8 395.56 2097.8 395.70 2098.8 395.84 2099.8 395.97 2100.8 396.10 2101.8 396.22 2102.8 396.34 2103.8 396.46 2104.8 396.58 2105.8 396.69 2106.8 396.80 2107.8 396.90 2108.8 397.00 2109.8 397.10 2110.8 397.20 2111.8 397.30 2112.8 397.39 2113.8 397.48 2114.8 397.58 2115.8 397.66 2116.8 397.75 2117.8 397.84 2118.8 397.92 2119.8 398.01 2120.8 398.09 2121.8 398.17 2122.8 398.25 2123.8 398.33 2124.8 398.41 2125.8 398.49 2126.8 398.56 2127.8 398.64 2128.8 398.71 2129.8 398.79 2130.8 398.86 2131.8 398.93 2132.8 399.01 2133.8 399.08 2134.8 399.15 2135.8 399.22 2136.8 399.29 2137.8 399.36 2138.8 399.43 2139.8 399.50 2140.8 399.56 2141.8 399.63 2142.8 399.69 2143.8 399.76 2144.8 399.82 2145.8 399.88 2146.8 399.93 2147.8 399.99 2148.8 400.04 2149.8 400.10 2150.8 400.15 2151.8 400.20 2152.8 400.25 2153.8 400.30 2154.8 400.35 2155.8 400.40 2156.8 400.45 2157.8 400.50 2158.8 400.54 2159.8 400.59 2160.8 400.64 2161.8 400.68 2162.8 400.73 2163.8 400.77 2164.8 400.81 2165.8 400.86 2166.8 400.90 2167.8 400.94 2168.8 400.99 2169.8 401.03 2170.8 401.07 2171.8 401.12 2172.8 401.16 2173.8 401.20 2174.8 401.24 2175.8 401.28 2176.8 401.32 2177.8 401.34" stroke="#ff00ff" stroke-width="6.3" fill="none" stroke-linejoin="round"/><path d="M1604.8 525.19 1605.8 525.18 1606.8 525.17 1607.8 525.16 1608.8 525.15 1609.8 525.14 1610.8 525.13 1611.8 525.12 1612.8 525.11 1613.8 525.11 1614.8 525.10 1615.8 525.09 1616.8 525.08 1617.8 525.06 1618.8 525.05 1619.8 525.04 1620.8 525.02 1621.8 525.01 1622.8 524.99 1623.8 524.97 1624.8 524.95 1625.8 524.93 1626.8 524.90 1627.8 524.88 1628.8 524.85 1629.8 524.82 1630.8 524.79 1631.8 524.76 1632.8 524.72 1633.8 524.69 1634.8 524.65 1635.8 524.61 1636.8 524.56 1637.8 524.52 1638.8 524.47 1639.8 524.42 1640.8 524.37 1641.8 524.32 1642.8 524.27 1643.8 524.22 1644.8 524.16 1645.8 524.11 1646.8 524.06 1647.8 524.00 1648.8 523.95 1649.8 523.90 1650.8 523.84 1651.8 523.79 1652.8 523.73 1653.8 523.68 1654.8 523.62 1655.8 523.56 1656.8 523.51 1657.8 523.45 1658.8 523.39 1659.8 523.33 1660.8 523.27 1661.8 523.21 1662.8 523.15 1663.8 523.09 1664.8 523.02 1665.8 522.96 1666.8 522.90 1667.8 522.83 1668.8 522.76 1669.8 522.70 1670.8 522.63 1671.8 522.56 1672.8 522.49 1673.8 522.42 1674.8 522.35 1675.8 522.27 1676.8 522.20 1677.8 522.12 1678.8 522.05 1679.8 521.97 1680.8 521.89 1681.8 521.81 1682.8 521.73 1683.8 521.64 1684.8 521.56 1685.8 521.47 1686.8 521.38 1687.8 521.29 1688.8 521.20 1689.8 521.11 1690.8 521.01 1691.8 520.92 1692.8 520.82 1693.8 520.71 1694.8 520.61 1695.8 520.50 1696.8 520.39 1697.8 520.28 1698.8 520.17 1699.8 520.05 1700.8 519.94 1701.8 519.82 1702.8 519.70 1703.8 519.57 1704.8 519.45 1705.8 519.32 1706.8 519.19 1707.8 519.06 1708.8 518.93 1709.8 518.80 1710.8 518.66 1711.8 518.53 1712.8 518.39 1713.8 518.25 1714.8 518.11 1715.8 517.97 1716.8 517.82 1717.8 517.68 1718.8 517.53 1719.8 517.39 1720.8 517.24 1721.8 517.09 1722.8 516.94 1723.8 516.78 1724.8 516.63 1725.8 516.47 1726.8 516.32 1727.8 516.16 1728.8 516.00 1729.8 515.84 1730.8 515.68 1731.8 515.52 1732.8 515.35 1733.8 515.19 1734.8 515.02 1735.8 514.85 1736.8 514.68 1737.8 514.51 1738.8 514.34 1739.8 514.16 1740.8 513.99 1741.8 513.81 1742.8 513.63 1743.8 513.45 1744.8 513.27 1745.8 513.09 1746.8 512.90 1747.8 512.72 1748.8 512.53 1749.8 512.33 1750.8 512.14 1751.8 511.94 1752.8 511.73 1753.8 511.53 1754.8 511.31 1755.8 511.10 1756.8 510.87 1757.8 510.64 1758.8 510.40 1759.8 510.16 1760.8 509.90 1761.8 509.64 1762.8 509.37 1763.8 509.09 1764.8 508.79 1765.8 508.50 1766.8 508.19 1767.8 507.87 1768.8 507.55 1769.8 507.23 1770.8 506.90 1771.8 506.57 1772.8 506.24 1773.8 505.91 1774.8 505.59 1775.8 505.26 1776.8 504.94 1777.8 504.61 1778.8 504.29 1779.8 503.97 1780.8 503.65 1781.8 503.34 1782.8 503.02 1783.8 502.70 1784.8 502.38 1785.8 502.06 1786.8 501.73 1787.8 501.41 1788.8 501.08 1789.8 500.75 1790.8 500.42 1791.8 500.09 1792.8 499.75 1793.8 499.41 1794.8 499.07 1795.8 498.72 1796.8 498.37 1797.8 498.01 1798.8 497.65 1799.8 497.28 1800.8 496.91 1801.8 496.53 1802.8 496.14 1803.8 495.74 1804.8 495.34 1805.8 494.92 1806.8 494.49 1807.8 494.04 1808.8 493.58 1809.8 493.10 1810.8 492.60 1811.8 492.08 1812.8 491.53 1813.8 490.96 1814.8 490.36 1815.8 489.73 1816.8 489.07 1817.8 488.38 1818.8 487.65 1819.8 486.90 1820.8 486.12 1821.8 485.31 1822.8 484.49 1823.8 483.66 1824.8 482.82 1825.8 481.99 1826.8 481.16 1827.8 480.34 1828.8 479.52 1829.8 478.72 1830.8 477.93 1831.8 477.15 1832.8 476.36 1833.8 475.58 1834.8 474.79 1835.8 474.01 1836.8 473.21 1837.8 472.42 1838.8 471.62 1839.8 470.82 1840.8 470.02 1841.8 469.22 1842.8 468.42 1843.8 467.61 1844.8 466.81 1845.8 466.00 1846.8 465.19 1847.8 464.39 1848.8 463.58 1849.8 462.77 1850.8 461.97 1851.8 461.16 1852.8 460.36 1853.8 459.55 1854.8 458.75 1855.8 457.94 1856.8 457.14 1857.8 456.35 1858.8 455.55 1859.8 454.76 1860.8 453.97 1861.8 453.19 1862.8 452.41 1863.8 451.63 1864.8 450.85 1865.8 450.07 1866.8 449.29 1867.8 448.52 1868.8 447.74 1869.8 446.96 1870.8 446.18 1871.8 445.40 1872.8 444.62 1873.8 443.83 1874.8 443.04 1875.8 442.24 1876.8 441.44 1877.8 440.64 1878.8 439.82 1879.8 439.00 1880.8 438.17 1881.8 437.32 1882.8 436.44 1883.8 435.54 1884.8 434.58 1885.8 433.55 1886.8 432.43 1887.8 431.22 1888.8 429.91 1889.8 428.54 1890.8 427.13 1891.8 425.74 1892.8 424.44 1893.8 423.28 1894.8 422.30 1895.8 421.52 1896.8 420.94 1897.8 420.54 1898.8 420.30 1899.8 420.19 1900.8 420.18 1901.8 420.26 1902.8 420.42 1903.8 420.63 1904.8 420.90 1905.8 421.21 1906.8 421.55 1907.8 421.93 1908.8 422.34 1909.8 422.77 1910.8 423.22 1911.8 423.69 1912.8 424.18 1913.8 424.68 1914.8 425.19 1915.8 425.70 1916.8 426.23 1917.8 426.76 1918.8 427.30 1919.8 427.86 1920.8 428.44 1921.8 429.06 1922.8 429.71 1923.8 430.40 1924.8 431.14 1925.8 431.94 1926.8 432.80 1927.8 433.72 1928.8 434.72 1929.8 435.81 1930.8 437.01 1931.8 438.34 1932.8 439.82 1933.8 441.47 1934.8 443.27 1935.8 445.18 1936.8 447.14 1937.8 449.08 1938.8 450.93 1939.8 452.65 1940.8 454.20 1941.8 455.58 1942.8 456.80 1943.8 457.90 1944.8 458.89 1945.8 459.80 1946.8 460.64 1947.8 461.42 1948.8 462.14 1949.8 462.81 1950.8 463.44 1951.8 464.02 1952.8 464.57 1953.8 465.09 1954.8 465.58 1955.8 466.05 1956.8 466.49 1957.8 466.91 1958.8 467.31 1959.8 467.68 1960.8 468.03 1961.8 468.36 1962.8 468.66 1963.8 468.95 1964.8 469.23 1965.8 469.49 1966.8 469.74 1967.8 469.98 1968.8 470.22 1969.8 470.44 1970.8 470.67 1971.8 470.89 1972.8 471.11 1973.8 471.32 1974.8 471.54 1975.8 471.75 1976.8 471.97 1977.8 472.19 1978.8 472.41 1979.8 472.64 1980.8 472.87 1981.8 473.11 1982.8 473.35 1983.8 473.61 1984.8 473.88 1985.8 474.15 1986.8 474.43 1987.8 474.70 1988.8 474.98 1989.8 475.26 1990.8 475.54 1991.8 475.82 1992.8 476.11 1993.8 476.39 1994.8 476.69 1995.8 476.99 1996.8 477.30 1997.8 477.62 1998.8 477.96 1999.8 478.31 2000.8 478.68 2001.8 479.08 2002.8 479.49 2003.8 479.94 2004.8 480.42 2005.8 480.94 2006.8 481.50 2007.8 482.09 2008.8 482.74 2009.8 483.43 2010.8 484.17 2011.8 484.95 2012.8 485.78 2013.8 486.65 2014.8 487.55 2015.8 488.47 2016.8 489.42 2017.8 490.38 2018.8 491.38 2019.8 492.42 2020.8 493.50 2021.8 494.63 2022.8 495.80 2023.8 497.00 2024.8 498.21 2025.8 499.41 2026.8 500.59 2027.8 501.72 2028.8 502.80 2029.8 503.80 2030.8 504.73 2031.8 505.58 2032.8 506.36 2033.8 507.07 2034.8 507.73 2035.8 508.34 2036.8 508.90 2037.8 509.44 2038.8 509.94 2039.8 510.42 2040.8 510.87 2041.8 511.30 2042.8 511.71 2043.8 512.10 2044.8 512.48 2045.8 512.85 2046.8 513.20 2047.8 513.55 2048.8 513.88 2049.8 514.21 2050.8 514.52 2051.8 514.82 2052.8 515.10 2053.8 515.37 2054.8 515.62 2055.8 515.85 2056.8 516.07 2057.8 516.28 2058.8 516.49 2059.8 516.68 2060.8 516.87 2061.8 517.05 2062.8 517.23 2063.8 517.41 2064.8 517.59 2065.8 517.77 2066.8 517.95 2067.8 518.13 2068.8 518.32 2069.8 518.51 2070.8 518.71 2071.8 518.91 2072.8 519.11 2073.8 519.32 2074.8 519.53 2075.8 519.74 2076.8 519.95 2077.8 520.16 2078.8 520.37 2079.8 520.57 2080.8 520.77 2081.8 520.96 2082.8 521.15 2083.8 521.33 2084.8 521.51 2085.8 521.68 2086.8 521.84 2087.8 521.99 2088.8 522.14 2089.8 522.28 2090.8 522.41 2091.8 522.53 2092.8 522.65 2093.8 522.76 2094.8 522.87 2095.8 522.96 2096.8 523.06 2097.8 523.14 2098.8 523.23 2099.8 523.31 2100.8 523.38 2101.8 523.46 2102.8 523.53 2103.8 523.60 2104.8 523.66 2105.8 523.73 2106.8 523.79 2107.8 523.85 2108.8 523.91 2109.8 523.97 2110.8 524.03 2111.8 524.08 2112.8 524.14 2113.8 524.20 2114.8 524.25 2115.8 524.31 2116.8 524.36 2117.8 524.41 2118.8 524.47 2119.8 524.52 2120.8 524.58 2121.8 524.63 2122.8 524.69 2123.8 524.74 2124.8 524.80 2125.8 524.86 2126.8 524.92 2127.8 524.99 2128.8 525.05 2129.8 525.12 2130.8 525.19 2131.8 525.26 2132.8 525.33 2133.8 525.41 2134.8 525.48 2135.8 525.56 2136.8 525.63 2137.8 525.71 2138.8 525.79 2139.8 525.86 2140.8 525.94 2141.8 526.01 2142.8 526.07 2143.8 526.14 2144.8 526.20 2145.8 526.26 2146.8 526.31 2147.8 526.36 2148.8 526.40 2149.8 526.44 2150.8 526.47 2151.8 526.50 2152.8 526.52 2153.8 526.54 2154.8 526.56 2155.8 526.57 2156.8 526.57 2157.8 526.58 2158.8 526.58 2159.8 526.58 2160.8 526.58 2161.8 526.58 2162.8 526.57 2163.8 526.56 2164.8 526.56 2165.8 526.55 2166.8 526.54 2167.8 526.53 2168.8 526.51 2169.8 526.50 2170.8 526.49 2171.8 526.48 2172.8 526.46 2173.8 526.45 2174.8 526.44 2175.8 526.43 2176.8 526.42 2177.8 526.41" stroke="#00ffff" stroke-width="6.3" fill="none" stroke-linejoin="round"/><path d="M1604.8 652.53 1605.8 652.48 1606.8 652.42 1607.8 652.34 1608.8 652.26 1609.8 652.17 1610.8 652.09 1611.8 652.00 1612.8 651.91 1613.8 651.83 1614.8 651.74 1615.8 651.66 1616.8 651.57 1617.8 651.48 1618.8 651.40 1619.8 651.31 1620.8 651.23 1621.8 651.14 1622.8 651.06 1623.8 650.97 1624.8 650.89 1625.8 650.80 1626.8 650.72 1627.8 650.63 1628.8 650.55 1629.8 650.47 1630.8 650.38 1631.8 650.30 1632.8 650.21 1633.8 650.13 1634.8 650.05 1635.8 649.97 1636.8 649.88 1637.8 649.80 1638.8 649.72 1639.8 649.64 1640.8 649.56 1641.8 649.49 1642.8 649.41 1643.8 649.34 1644.8 649.27 1645.8 649.19 1646.8 649.13 1647.8 649.06 1648.8 648.99 1649.8 648.92 1650.8 648.86 1651.8 648.79 1652.8 648.73 1653.8 648.67 1654.8 648.60 1655.8 648.54 1656.8 648.47 1657.8 648.41 1658.8 648.34 1659.8 648.28 1660.8 648.21 1661.8 648.15 1662.8 648.08 1663.8 648.01 1664.8 647.94 1665.8 647.87 1666.8 647.80 1667.8 647.73 1668.8 647.65 1669.8 647.57 1670.8 647.49 1671.8 647.41 1672.8 647.33 1673.8 647.24 1674.8 647.14 1675.8 647.05 1676.8 646.94 1677.8 646.84 1678.8 646.72 1679.8 646.60 1680.8 646.47 1681.8 646.33 1682.8 646.18 1683.8 646.03 1684.8 645.86 1685.8 645.68 1686.8 645.48 1687.8 645.27 1688.8 645.04 1689.8 644.79 1690.8 644.52 1691.8 644.23 1692.8 643.93 1693.8 643.61 1694.8 643.29 1695.8 642.96 1696.8 642.63 1697.8 642.31 1698.8 641.99 1699.8 641.67 1700.8 641.35 1701.8 641.04 1702.8 640.72 1703.8 640.40 1704.8 640.08 1705.8 639.76 1706.8 639.44 1707.8 639.11 1708.8 638.78 1709.8 638.45 1710.8 638.11 1711.8 637.77 1712.8 637.43 1713.8 637.08 1714.8 636.73 1715.8 636.38 1716.8 636.02 1717.8 635.66 1718.8 635.29 1719.8 634.93 1720.8 634.55 1721.8 634.18 1722.8 633.80 1723.8 633.41 1724.8 633.02 1725.8 632.63 1726.8 632.23 1727.8 631.83 1728.8 631.43 1729.8 631.02 1730.8 630.61 1731.8 630.20 1732.8 629.79 1733.8 629.38 1734.8 628.96 1735.8 628.54 1736.8 628.12 1737.8 627.70 1738.8 627.27 1739.8 626.84 1740.8 626.42 1741.8 625.98 1742.8 625.55 1743.8 625.12 1744.8 624.68 1745.8 624.24 1746.8 623.80 1747.8 623.36 1748.8 622.91 1749.8 622.46 1750.8 622.01 1751.8 621.55 1752.8 621.10 1753.8 620.63 1754.8 620.17 1755.8 619.69 1756.8 619.22 1757.8 618.73 1758.8 618.24 1759.8 617.74 1760.8 617.23 1761.8 616.71 1762.8 616.19 1763.8 615.65 1764.8 615.09 1765.8 614.50 1766.8 613.87 1767.8 613.20 1768.8 612.47 1769.8 611.68 1770.8 610.85 1771.8 609.98 1772.8 609.07 1773.8 608.15 1774.8 607.20 1775.8 606.23 1776.8 605.24 1777.8 604.22 1778.8 603.19 1779.8 602.14 1780.8 601.07 1781.8 599.99 1782.8 598.90 1783.8 597.81 1784.8 596.71 1785.8 595.61 1786.8 594.50 1787.8 593.39 1788.8 592.29 1789.8 591.19 1790.8 590.09 1791.8 589.00 1792.8 587.91 1793.8 586.83 1794.8 585.75 1795.8 584.66 1796.8 583.58 1797.8 582.49 1798.8 581.40 1799.8 580.31 1800.8 579.21 1801.8 578.12 1802.8 577.03 1803.8 575.94 1804.8 574.85 1805.8 573.77 1806.8 572.70 1807.8 571.64 1808.8 570.59 1809.8 569.54 1810.8 568.52 1811.8 567.50 1812.8 566.50 1813.8 565.52 1814.8 564.55 1815.8 563.60 1816.8 562.67 1817.8 561.75 1818.8 560.84 1819.8 559.94 1820.8 559.05 1821.8 558.17 1822.8 557.30 1823.8 556.44 1824.8 555.58 1825.8 554.73 1826.8 553.88 1827.8 553.04 1828.8 552.20 1829.8 551.37 1830.8 550.54 1831.8 549.71 1832.8 548.88 1833.8 548.05 1834.8 547.20 1835.8 546.35 1836.8 545.53 1837.8 544.77 1838.8 544.13 1839.8 543.62 1840.8 543.25 1841.8 542.99 1842.8 542.79 1843.8 542.64 1844.8 542.51 1845.8 542.41 1846.8 542.33 1847.8 542.27 1848.8 542.24 1849.8 542.22 1850.8 542.22 1851.8 542.25 1852.8 542.32 1853.8 542.41 1854.8 542.56 1855.8 542.75 1856.8 543.01 1857.8 543.34 1858.8 543.75 1859.8 544.26 1860.8 544.87 1861.8 545.57 1862.8 546.36 1863.8 547.24 1864.8 548.17 1865.8 549.16 1866.8 550.18 1867.8 551.21 1868.8 552.27 1869.8 553.34 1870.8 554.44 1871.8 555.57 1872.8 556.72 1873.8 557.90 1874.8 559.10 1875.8 560.33 1876.8 561.57 1877.8 562.84 1878.8 564.12 1879.8 565.44 1880.8 566.80 1881.8 568.23 1882.8 569.75 1883.8 571.38 1884.8 573.09 1885.8 574.87 1886.8 576.68 1887.8 578.47 1888.8 580.20 1889.8 581.85 1890.8 583.38 1891.8 584.78 1892.8 586.04 1893.8 587.16 1894.8 588.15 1895.8 589.00 1896.8 589.72 1897.8 590.33 1898.8 590.84 1899.8 591.25 1900.8 591.59 1901.8 591.86 1902.8 592.08 1903.8 592.26 1904.8 592.39 1905.8 592.50 1906.8 592.57 1907.8 592.63 1908.8 592.67 1909.8 592.69 1910.8 592.70 1911.8 592.69 1912.8 592.68 1913.8 592.67 1914.8 592.64 1915.8 592.62 1916.8 592.60 1917.8 592.58 1918.8 592.56 1919.8 592.55 1920.8 592.55 1921.8 592.56 1922.8 592.59 1923.8 592.64 1924.8 592.71 1925.8 592.81 1926.8 592.94 1927.8 593.11 1928.8 593.32 1929.8 593.56 1930.8 593.83 1931.8 594.13 1932.8 594.46 1933.8 594.81 1934.8 595.19 1935.8 595.59 1936.8 596.02 1937.8 596.47 1938.8 596.94 1939.8 597.44 1940.8 597.96 1941.8 598.50 1942.8 599.05 1943.8 599.62 1944.8 600.20 1945.8 600.80 1946.8 601.40 1947.8 602.00 1948.8 602.62 1949.8 603.25 1950.8 603.90 1951.8 604.57 1952.8 605.26 1953.8 605.99 1954.8 606.76 1955.8 607.55 1956.8 608.39 1957.8 609.26 1958.8 610.17 1959.8 611.11 1960.8 612.09 1961.8 613.12 1962.8 614.21 1963.8 615.37 1964.8 616.62 1965.8 617.93 1966.8 619.28 1967.8 620.65 1968.8 622.00 1969.8 623.31 1970.8 624.55 1971.8 625.72 1972.8 626.79 1973.8 627.79 1974.8 628.70 1975.8 629.54 1976.8 630.33 1977.8 631.07 1978.8 631.77 1979.8 632.44 1980.8 633.10 1981.8 633.73 1982.8 634.34 1983.8 634.94 1984.8 635.52 1985.8 636.09 1986.8 636.65 1987.8 637.19 1988.8 637.72 1989.8 638.24 1990.8 638.76 1991.8 639.26 1992.8 639.75 1993.8 640.23 1994.8 640.70 1995.8 641.16 1996.8 641.61 1997.8 642.05 1998.8 642.47 1999.8 642.89 2000.8 643.29 2001.8 643.67 2002.8 644.04 2003.8 644.39 2004.8 644.72 2005.8 645.04 2006.8 645.35 2007.8 645.64 2008.8 645.91 2009.8 646.18 2010.8 646.43 2011.8 646.67 2012.8 646.91 2013.8 647.13 2014.8 647.35 2015.8 647.56 2016.8 647.76 2017.8 647.96 2018.8 648.16 2019.8 648.35 2020.8 648.54 2021.8 648.73 2022.8 648.93 2023.8 649.12 2024.8 649.32 2025.8 649.52 2026.8 649.71 2027.8 649.91 2028.8 650.10 2029.8 650.29 2030.8 650.46 2031.8 650.63 2032.8 650.78 2033.8 650.92 2034.8 651.05 2035.8 651.16 2036.8 651.26 2037.8 651.36 2038.8 651.44 2039.8 651.52 2040.8 651.59 2041.8 651.65 2042.8 651.71 2043.8 651.77 2044.8 651.82 2045.8 651.86 2046.8 651.90 2047.8 651.94 2048.8 651.98 2049.8 652.01 2050.8 652.04 2051.8 652.07 2052.8 652.09 2053.8 652.11 2054.8 652.13 2055.8 652.15 2056.8 652.16 2057.8 652.18 2058.8 652.19 2059.8 652.20 2060.8 652.21 2061.8 652.22 2062.8 652.23 2063.8 652.24 2064.8 652.24 2065.8 652.25 2066.8 652.25 2067.8 652.26 2068.8 652.26 2069.8 652.27 2070.8 652.27 2071.8 652.27 2072.8 652.28 2073.8 652.28 2074.8 652.28 2075.8 652.28 2076.8 652.29 2077.8 652.29 2078.8 652.29 2079.8 652.29 2080.8 652.30 2081.8 652.30 2082.8 652.30 2083.8 652.31 2084.8 652.31 2085.8 652.32 2086.8 652.32 2087.8 652.32 2088.8 652.33 2089.8 652.34 2090.8 652.34 2091.8 652.35 2092.8 652.36 2093.8 652.36 2094.8 652.37 2095.8 652.38 2096.8 652.39 2097.8 652.40 2098.8 652.41 2099.8 652.43 2100.8 652.44 2101.8 652.45 2102.8 652.47 2103.8 652.49 2104.8 652.50 2105.8 652.52 2106.8 652.54 2107.8 652.56 2108.8 652.57 2109.8 652.59 2110.8 652.61 2111.8 652.63 2112.8 652.65 2113.8 652.67 2114.8 652.69 2115.8 652.71 2116.8 652.74 2117.8 652.76 2118.8 652.78 2119.8 652.80 2120.8 652.82 2121.8 652.84 2122.8 652.87 2123.8 652.89 2124.8 652.91 2125.8 652.93 2126.8 652.96 2127.8 652.98 2128.8 653.00 2129.8 653.02 2130.8 653.05 2131.8 653.07 2132.8 653.09 2133.8 653.12 2134.8 653.14 2135.8 653.16 2136.8 653.19 2137.8 653.21 2138.8 653.23 2139.8 653.26 2140.8 653.28 2141.8 653.31 2142.8 653.33 2143.8 653.36 2144.8 653.38 2145.8 653.40 2146.8 653.43 2147.8 653.45 2148.8 653.48 2149.8 653.50 2150.8 653.53 2151.8 653.55 2152.8 653.57 2153.8 653.60 2154.8 653.62 2155.8 653.65 2156.8 653.67 2157.8 653.70 2158.8 653.72 2159.8 653.75 2160.8 653.77 2161.8 653.80 2162.8 653.82 2163.8 653.85 2164.8 653.87 2165.8 653.90 2166.8 653.92 2167.8 653.95 2168.8 653.97 2169.8 654.00 2170.8 654.02 2171.8 654.05 2172.8 654.07 2173.8 654.09 2174.8 654.12 2175.8 654.14 2176.8 654.16 2177.8 654.17" stroke="#0000ff" stroke-width="6.3" fill="none" stroke-linejoin="round"/><path d="M1604.8 774.12 1605.8 774.13 1606.8 774.16 1607.8 774.18 1608.8 774.21 1609.8 774.24 1610.8 774.26 1611.8 774.29 1612.8 774.32 1613.8 774.35 1614.8 774.38 1615.8 774.40 1616.8 774.42 1617.8 774.45 1618.8 774.47 1619.8 774.48 1620.8 774.50 1621.8 774.51 1622.8 774.52 1623.8 774.53 1624.8 774.53 1625.8 774.53 1626.8 774.52 1627.8 774.51 1628.8 774.49 1629.8 774.47 1630.8 774.44 1631.8 774.41 1632.8 774.38 1633.8 774.35 1634.8 774.31 1635.8 774.27 1636.8 774.23 1637.8 774.18 1638.8 774.12 1639.8 774.06 1640.8 774.00 1641.8 773.92 1642.8 773.84 1643.8 773.75 1644.8 773.66 1645.8 773.55 1646.8 773.44 1647.8 773.31 1648.8 773.18 1649.8 773.03 1650.8 772.88 1651.8 772.71 1652.8 772.52 1653.8 772.32 1654.8 772.11 1655.8 771.89 1656.8 771.65 1657.8 771.41 1658.8 771.16 1659.8 770.91 1660.8 770.65 1661.8 770.39 1662.8 770.13 1663.8 769.87 1664.8 769.61 1665.8 769.36 1666.8 769.12 1667.8 768.88 1668.8 768.65 1669.8 768.42 1670.8 768.21 1671.8 768.00 1672.8 767.81 1673.8 767.63 1674.8 767.46 1675.8 767.29 1676.8 767.14 1677.8 766.99 1678.8 766.85 1679.8 766.70 1680.8 766.57 1681.8 766.43 1682.8 766.29 1683.8 766.15 1684.8 766.01 1685.8 765.86 1686.8 765.71 1687.8 765.56 1688.8 765.39 1689.8 765.22 1690.8 765.04 1691.8 764.86 1692.8 764.66 1693.8 764.45 1694.8 764.23 1695.8 764.00 1696.8 763.75 1697.8 763.49 1698.8 763.22 1699.8 762.93 1700.8 762.64 1701.8 762.33 1702.8 762.01 1703.8 761.69 1704.8 761.36 1705.8 761.02 1706.8 760.67 1707.8 760.32 1708.8 759.96 1709.8 759.60 1710.8 759.23 1711.8 758.86 1712.8 758.48 1713.8 758.09 1714.8 757.71 1715.8 757.31 1716.8 756.91 1717.8 756.51 1718.8 756.10 1719.8 755.69 1720.8 755.27 1721.8 754.85 1722.8 754.42 1723.8 753.99 1724.8 753.55 1725.8 753.11 1726.8 752.67 1727.8 752.21 1728.8 751.76 1729.8 751.30 1730.8 750.83 1731.8 750.35 1732.8 749.87 1733.8 749.39 1734.8 748.89 1735.8 748.39 1736.8 747.88 1737.8 747.36 1738.8 746.84 1739.8 746.31 1740.8 745.76 1741.8 745.21 1742.8 744.66 1743.8 744.09 1744.8 743.52 1745.8 742.93 1746.8 742.34 1747.8 741.74 1748.8 741.13 1749.8 740.52 1750.8 739.89 1751.8 739.26 1752.8 738.62 1753.8 737.97 1754.8 737.31 1755.8 736.64 1756.8 735.96 1757.8 735.27 1758.8 734.58 1759.8 733.87 1760.8 733.14 1761.8 732.39 1762.8 731.62 1763.8 730.82 1764.8 729.99 1765.8 729.14 1766.8 728.27 1767.8 727.37 1768.8 726.46 1769.8 725.54 1770.8 724.60 1771.8 723.67 1772.8 722.73 1773.8 721.80 1774.8 720.89 1775.8 719.99 1776.8 719.11 1777.8 718.26 1778.8 717.44 1779.8 716.66 1780.8 715.91 1781.8 715.20 1782.8 714.53 1783.8 713.90 1784.8 713.29 1785.8 712.71 1786.8 712.15 1787.8 711.61 1788.8 711.08 1789.8 710.56 1790.8 710.03 1791.8 709.51 1792.8 708.98 1793.8 708.43 1794.8 707.87 1795.8 707.28 1796.8 706.65 1797.8 705.98 1798.8 705.26 1799.8 704.48 1800.8 703.62 1801.8 702.69 1802.8 701.66 1803.8 700.54 1804.8 699.34 1805.8 698.06 1806.8 696.71 1807.8 695.31 1808.8 693.88 1809.8 692.44 1810.8 691.02 1811.8 689.63 1812.8 688.30 1813.8 687.03 1814.8 685.81 1815.8 684.65 1816.8 683.51 1817.8 682.41 1818.8 681.33 1819.8 680.27 1820.8 679.24 1821.8 678.24 1822.8 677.26 1823.8 676.32 1824.8 675.41 1825.8 674.53 1826.8 673.68 1827.8 672.85 1828.8 672.05 1829.8 671.26 1830.8 670.48 1831.8 669.73 1832.8 669.01 1833.8 668.32 1834.8 667.69 1835.8 667.12 1836.8 666.62 1837.8 666.20 1838.8 665.88 1839.8 665.66 1840.8 665.55 1841.8 665.55 1842.8 665.67 1843.8 665.89 1844.8 666.21 1845.8 666.62 1846.8 667.12 1847.8 667.69 1848.8 668.33 1849.8 669.03 1850.8 669.78 1851.8 670.57 1852.8 671.40 1853.8 672.26 1854.8 673.17 1855.8 674.11 1856.8 675.11 1857.8 676.15 1858.8 677.24 1859.8 678.38 1860.8 679.57 1861.8 680.78 1862.8 682.04 1863.8 683.32 1864.8 684.62 1865.8 685.94 1866.8 687.29 1867.8 688.67 1868.8 690.08 1869.8 691.55 1870.8 693.06 1871.8 694.61 1872.8 696.20 1873.8 697.80 1874.8 699.41 1875.8 701.00 1876.8 702.56 1877.8 704.07 1878.8 705.52 1879.8 706.90 1880.8 708.20 1881.8 709.42 1882.8 710.59 1883.8 711.69 1884.8 712.75 1885.8 713.74 1886.8 714.68 1887.8 715.55 1888.8 716.35 1889.8 717.08 1890.8 717.74 1891.8 718.33 1892.8 718.85 1893.8 719.31 1894.8 719.70 1895.8 720.02 1896.8 720.29 1897.8 720.50 1898.8 720.66 1899.8 720.78 1900.8 720.87 1901.8 720.93 1902.8 720.97 1903.8 720.99 1904.8 721.00 1905.8 721.00 1906.8 721.00 1907.8 721.00 1908.8 721.00 1909.8 721.01 1910.8 721.02 1911.8 721.06 1912.8 721.12 1913.8 721.20 1914.8 721.31 1915.8 721.44 1916.8 721.59 1917.8 721.75 1918.8 721.93 1919.8 722.14 1920.8 722.36 1921.8 722.62 1922.8 722.91 1923.8 723.24 1924.8 723.62 1925.8 724.03 1926.8 724.47 1927.8 724.95 1928.8 725.46 1929.8 726.00 1930.8 726.56 1931.8 727.15 1932.8 727.75 1933.8 728.38 1934.8 729.02 1935.8 729.67 1936.8 730.33 1937.8 731.01 1938.8 731.69 1939.8 732.38 1940.8 733.07 1941.8 733.77 1942.8 734.47 1943.8 735.18 1944.8 735.88 1945.8 736.59 1946.8 737.29 1947.8 738.00 1948.8 738.72 1949.8 739.44 1950.8 740.17 1951.8 740.91 1952.8 741.67 1953.8 742.43 1954.8 743.21 1955.8 743.98 1956.8 744.77 1957.8 745.55 1958.8 746.32 1959.8 747.09 1960.8 747.85 1961.8 748.59 1962.8 749.33 1963.8 750.05 1964.8 750.75 1965.8 751.44 1966.8 752.11 1967.8 752.77 1968.8 753.42 1969.8 754.05 1970.8 754.68 1971.8 755.31 1972.8 755.93 1973.8 756.55 1974.8 757.16 1975.8 757.77 1976.8 758.38 1977.8 758.99 1978.8 759.59 1979.8 760.19 1980.8 760.78 1981.8 761.37 1982.8 761.95 1983.8 762.54 1984.8 763.11 1985.8 763.68 1986.8 764.25 1987.8 764.81 1988.8 765.37 1989.8 765.92 1990.8 766.46 1991.8 766.99 1992.8 767.52 1993.8 768.04 1994.8 768.54 1995.8 769.04 1996.8 769.52 1997.8 769.99 1998.8 770.44 1999.8 770.87 2000.8 771.29 2001.8 771.68 2002.8 772.05 2003.8 772.39 2004.8 772.70 2005.8 772.99 2006.8 773.25 2007.8 773.47 2008.8 773.67 2009.8 773.84 2010.8 773.99 2011.8 774.12 2012.8 774.23 2013.8 774.34 2014.8 774.44 2015.8 774.54 2016.8 774.64 2017.8 774.75 2018.8 774.86 2019.8 774.98 2020.8 775.11 2021.8 775.23 2022.8 775.35 2023.8 775.48 2024.8 775.59 2025.8 775.71 2026.8 775.82 2027.8 775.93 2028.8 776.04 2029.8 776.14 2030.8 776.24 2031.8 776.33 2032.8 776.43 2033.8 776.52 2034.8 776.60 2035.8 776.68 2036.8 776.76 2037.8 776.84 2038.8 776.92 2039.8 776.99 2040.8 777.06 2041.8 777.13 2042.8 777.19 2043.8 777.25 2044.8 777.31 2045.8 777.37 2046.8 777.43 2047.8 777.48 2048.8 777.54 2049.8 777.59 2050.8 777.64 2051.8 777.68 2052.8 777.73 2053.8 777.78 2054.8 777.82 2055.8 777.86 2056.8 777.91 2057.8 777.95 2058.8 777.98 2059.8 778.02 2060.8 778.06 2061.8 778.10 2062.8 778.13 2063.8 778.16 2064.8 778.20 2065.8 778.23 2066.8 778.26 2067.8 778.29 2068.8 778.32 2069.8 778.35 2070.8 778.38 2071.8 778.41 2072.8 778.43 2073.8 778.46 2074.8 778.48 2075.8 778.51 2076.8 778.53 2077.8 778.56 2078.8 778.58 2079.8 778.60 2080.8 778.63 2081.8 778.65 2082.8 778.67 2083.8 778.69 2084.8 778.71 2085.8 778.73 2086.8 778.76 2087.8 778.78 2088.8 778.79 2089.8 778.81 2090.8 778.83 2091.8 778.85 2092.8 778.87 2093.8 778.89 2094.8 778.91 2095.8 778.93 2096.8 778.94 2097.8 778.96 2098.8 778.98 2099.8 779.00 2100.8 779.01 2101.8 779.03 2102.8 779.04 2103.8 779.06 2104.8 779.08 2105.8 779.09 2106.8 779.10 2107.8 779.12 2108.8 779.13 2109.8 779.14 2110.8 779.16 2111.8 779.17 2112.8 779.18 2113.8 779.20 2114.8 779.21 2115.8 779.22 2116.8 779.23 2117.8 779.24 2118.8 779.25 2119.8 779.27 2120.8 779.28 2121.8 779.29 2122.8 779.30 2123.8 779.31 2124.8 779.32 2125.8 779.33 2126.8 779.34 2127.8 779.35 2128.8 779.36 2129.8 779.37 2130.8 779.38 2131.8 779.39 2132.8 779.40 2133.8 779.41 2134.8 779.42 2135.8 779.43 2136.8 779.44 2137.8 779.45 2138.8 779.46 2139.8 779.47 2140.8 779.48 2141.8 779.48 2142.8 779.49 2143.8 779.50 2144.8 779.51 2145.8 779.52 2146.8 779.53 2147.8 779.54 2148.8 779.55 2149.8 779.56 2150.8 779.56 2151.8 779.57 2152.8 779.58 2153.8 779.59 2154.8 779.60 2155.8 779.61 2156.8 779.62 2157.8 779.62 2158.8 779.63 2159.8 779.64 2160.8 779.65 2161.8 779.66 2162.8 779.67 2163.8 779.67 2164.8 779.68 2165.8 779.69 2166.8 779.70 2167.8 779.71 2168.8 779.72 2169.8 779.73 2170.8 779.73 2171.8 779.74 2172.8 779.75 2173.8 779.76 2174.8 779.77 2175.8 779.78 2176.8 779.78 2177.8 779.79" stroke="#00ff00" stroke-width="6.3" fill="none" stroke-linejoin="round"/><path d="M1604.8 900.84 1605.8 900.71 1606.8 900.55 1607.8 900.36 1608.8 900.15 1609.8 899.94 1610.8 899.73 1611.8 899.51 1612.8 899.30 1613.8 899.09 1614.8 898.88 1615.8 898.66 1616.8 898.45 1617.8 898.24 1618.8 898.04 1619.8 897.83 1620.8 897.62 1621.8 897.42 1622.8 897.22 1623.8 897.02 1624.8 896.82 1625.8 896.62 1626.8 896.43 1627.8 896.23 1628.8 896.04 1629.8 895.86 1630.8 895.68 1631.8 895.50 1632.8 895.32 1633.8 895.14 1634.8 894.97 1635.8 894.80 1636.8 894.64 1637.8 894.47 1638.8 894.31 1639.8 894.15 1640.8 893.99 1641.8 893.83 1642.8 893.67 1643.8 893.52 1644.8 893.36 1645.8 893.21 1646.8 893.06 1647.8 892.91 1648.8 892.75 1649.8 892.60 1650.8 892.46 1651.8 892.31 1652.8 892.16 1653.8 892.01 1654.8 891.87 1655.8 891.72 1656.8 891.58 1657.8 891.44 1658.8 891.30 1659.8 891.15 1660.8 891.01 1661.8 890.87 1662.8 890.74 1663.8 890.60 1664.8 890.47 1665.8 890.35 1666.8 890.24 1667.8 890.13 1668.8 890.04 1669.8 889.96 1670.8 889.88 1671.8 889.82 1672.8 889.75 1673.8 889.68 1674.8 889.60 1675.8 889.51 1676.8 889.40 1677.8 889.26 1678.8 889.10 1679.8 888.92 1680.8 888.73 1681.8 888.54 1682.8 888.35 1683.8 888.15 1684.8 887.94 1685.8 887.72 1686.8 887.48 1687.8 887.20 1688.8 886.90 1689.8 886.56 1690.8 886.17 1691.8 885.75 1692.8 885.27 1693.8 884.76 1694.8 884.20 1695.8 883.59 1696.8 882.94 1697.8 882.25 1698.8 881.51 1699.8 880.73 1700.8 879.93 1701.8 879.10 1702.8 878.24 1703.8 877.37 1704.8 876.49 1705.8 875.60 1706.8 874.71 1707.8 873.81 1708.8 872.90 1709.8 872.00 1710.8 871.11 1711.8 870.22 1712.8 869.34 1713.8 868.48 1714.8 867.63 1715.8 866.80 1716.8 866.00 1717.8 865.24 1718.8 864.52 1719.8 863.85 1720.8 863.23 1721.8 862.68 1722.8 862.19 1723.8 861.76 1724.8 861.40 1725.8 861.08 1726.8 860.82 1727.8 860.59 1728.8 860.39 1729.8 860.19 1730.8 859.99 1731.8 859.77 1732.8 859.49 1733.8 859.15 1734.8 858.71 1735.8 858.15 1736.8 857.45 1737.8 856.58 1738.8 855.55 1739.8 854.36 1740.8 853.04 1741.8 851.64 1742.8 850.21 1743.8 848.80 1744.8 847.47 1745.8 846.23 1746.8 845.09 1747.8 844.03 1748.8 843.04 1749.8 842.09 1750.8 841.18 1751.8 840.29 1752.8 839.41 1753.8 838.55 1754.8 837.70 1755.8 836.86 1756.8 836.02 1757.8 835.19 1758.8 834.36 1759.8 833.53 1760.8 832.70 1761.8 831.86 1762.8 831.03 1763.8 830.18 1764.8 829.33 1765.8 828.47 1766.8 827.59 1767.8 826.70 1768.8 825.78 1769.8 824.84 1770.8 823.89 1771.8 822.92 1772.8 821.93 1773.8 820.94 1774.8 819.95 1775.8 818.97 1776.8 818.00 1777.8 817.06 1778.8 816.15 1779.8 815.27 1780.8 814.43 1781.8 813.64 1782.8 812.90 1783.8 812.20 1784.8 811.55 1785.8 810.95 1786.8 810.39 1787.8 809.87 1788.8 809.37 1789.8 808.90 1790.8 808.45 1791.8 808.02 1792.8 807.60 1793.8 807.20 1794.8 806.79 1795.8 806.39 1796.8 805.98 1797.8 805.57 1798.8 805.14 1799.8 804.70 1800.8 804.22 1801.8 803.71 1802.8 803.17 1803.8 802.60 1804.8 801.99 1805.8 801.37 1806.8 800.75 1807.8 800.14 1808.8 799.56 1809.8 799.02 1810.8 798.56 1811.8 798.20 1812.8 797.94 1813.8 797.82 1814.8 797.85 1815.8 798.03 1816.8 798.37 1817.8 798.86 1818.8 799.50 1819.8 800.25 1820.8 801.11 1821.8 802.05 1822.8 803.04 1823.8 804.06 1824.8 805.11 1825.8 806.17 1826.8 807.26 1827.8 808.38 1828.8 809.53 1829.8 810.72 1830.8 811.95 1831.8 813.20 1832.8 814.47 1833.8 815.75 1834.8 817.05 1835.8 818.37 1836.8 819.71 1837.8 821.09 1838.8 822.52 1839.8 823.99 1840.8 825.51 1841.8 827.06 1842.8 828.62 1843.8 830.17 1844.8 831.68 1845.8 833.14 1846.8 834.53 1847.8 835.84 1848.8 837.05 1849.8 838.15 1850.8 839.14 1851.8 840.01 1852.8 840.75 1853.8 841.38 1854.8 841.91 1855.8 842.35 1856.8 842.72 1857.8 843.02 1858.8 843.28 1859.8 843.50 1860.8 843.68 1861.8 843.85 1862.8 844.01 1863.8 844.17 1864.8 844.33 1865.8 844.51 1866.8 844.72 1867.8 844.96 1868.8 845.25 1869.8 845.60 1870.8 846.02 1871.8 846.52 1872.8 847.10 1873.8 847.75 1874.8 848.46 1875.8 849.23 1876.8 850.03 1877.8 850.85 1878.8 851.68 1879.8 852.48 1880.8 853.24 1881.8 853.94 1882.8 854.55 1883.8 855.07 1884.8 855.46 1885.8 855.71 1886.8 855.83 1887.8 855.80 1888.8 855.65 1889.8 855.40 1890.8 855.06 1891.8 854.66 1892.8 854.24 1893.8 853.81 1894.8 853.41 1895.8 853.07 1896.8 852.81 1897.8 852.66 1898.8 852.63 1899.8 852.75 1900.8 853.02 1901.8 853.44 1902.8 854.00 1903.8 854.68 1904.8 855.47 1905.8 856.35 1906.8 857.31 1907.8 858.32 1908.8 859.36 1909.8 860.42 1910.8 861.48 1911.8 862.52 1912.8 863.54 1913.8 864.53 1914.8 865.50 1915.8 866.44 1916.8 867.37 1917.8 868.30 1918.8 869.23 1919.8 870.18 1920.8 871.12 1921.8 872.06 1922.8 873.00 1923.8 873.94 1924.8 874.86 1925.8 875.77 1926.8 876.66 1927.8 877.53 1928.8 878.39 1929.8 879.22 1930.8 880.02 1931.8 880.80 1932.8 881.55 1933.8 882.28 1934.8 882.97 1935.8 883.64 1936.8 884.29 1937.8 884.91 1938.8 885.51 1939.8 886.10 1940.8 886.67 1941.8 887.23 1942.8 887.77 1943.8 888.31 1944.8 888.83 1945.8 889.34 1946.8 889.85 1947.8 890.35 1948.8 890.84 1949.8 891.33 1950.8 891.80 1951.8 892.28 1952.8 892.74 1953.8 893.20 1954.8 893.66 1955.8 894.11 1956.8 894.56 1957.8 895.00 1958.8 895.44 1959.8 895.88 1960.8 896.31 1961.8 896.74 1962.8 897.16 1963.8 897.57 1964.8 897.98 1965.8 898.37 1966.8 898.76 1967.8 899.13 1968.8 899.49 1969.8 899.84 1970.8 900.16 1971.8 900.47 1972.8 900.76 1973.8 901.03 1974.8 901.29 1975.8 901.52 1976.8 901.75 1977.8 901.96 1978.8 902.16 1979.8 902.34 1980.8 902.51 1981.8 902.67 1982.8 902.81 1983.8 902.94 1984.8 903.05 1985.8 903.15 1986.8 903.23 1987.8 903.30 1988.8 903.36 1989.8 903.41 1990.8 903.45 1991.8 903.49 1992.8 903.53 1993.8 903.57 1994.8 903.60 1995.8 903.64 1996.8 903.68 1997.8 903.71 1998.8 903.75 1999.8 903.79 2000.8 903.83 2001.8 903.87 2002.8 903.92 2003.8 903.95 2004.8 903.99 2005.8 904.03 2006.8 904.07 2007.8 904.11 2008.8 904.14 2009.8 904.18 2010.8 904.21 2011.8 904.24 2012.8 904.28 2013.8 904.31 2014.8 904.34 2015.8 904.37 2016.8 904.40 2017.8 904.43 2018.8 904.46 2019.8 904.49 2020.8 904.52 2021.8 904.55 2022.8 904.58 2023.8 904.60 2024.8 904.63 2025.8 904.66 2026.8 904.68 2027.8 904.71 2028.8 904.74 2029.8 904.76 2030.8 904.79 2031.8 904.81 2032.8 904.83 2033.8 904.86 2034.8 904.88 2035.8 904.90 2036.8 904.93 2037.8 904.95 2038.8 904.97 2039.8 905.00 2040.8 905.02 2041.8 905.04 2042.8 905.06 2043.8 905.08 2044.8 905.10 2045.8 905.12 2046.8 905.14 2047.8 905.16 2048.8 905.18 2049.8 905.20 2050.8 905.22 2051.8 905.24 2052.8 905.26 2053.8 905.28 2054.8 905.30 2055.8 905.32 2056.8 905.34 2057.8 905.35 2058.8 905.37 2059.8 905.39 2060.8 905.41 2061.8 905.43 2062.8 905.44 2063.8 905.46 2064.8 905.48 2065.8 905.49 2066.8 905.51 2067.8 905.53 2068.8 905.54 2069.8 905.56 2070.8 905.58 2071.8 905.59 2072.8 905.61 2073.8 905.62 2074.8 905.64 2075.8 905.66 2076.8 905.67 2077.8 905.69 2078.8 905.70 2079.8 905.72 2080.8 905.73 2081.8 905.75 2082.8 905.76 2083.8 905.78 2084.8 905.79 2085.8 905.81 2086.8 905.82 2087.8 905.83 2088.8 905.85 2089.8 905.86 2090.8 905.88 2091.8 905.89 2092.8 905.90 2093.8 905.92 2094.8 905.93 2095.8 905.94 2096.8 905.96 2097.8 905.97 2098.8 905.98 2099.8 906.00 2100.8 906.01 2101.8 906.02 2102.8 906.04 2103.8 906.05 2104.8 906.06 2105.8 906.07 2106.8 906.08 2107.8 906.10 2108.8 906.11 2109.8 906.12 2110.8 906.13 2111.8 906.14 2112.8 906.15 2113.8 906.16 2114.8 906.18 2115.8 906.19 2116.8 906.20 2117.8 906.21 2118.8 906.22 2119.8 906.23 2120.8 906.24 2121.8 906.25 2122.8 906.26 2123.8 906.27 2124.8 906.28 2125.8 906.29 2126.8 906.30 2127.8 906.31 2128.8 906.32 2129.8 906.33 2130.8 906.34 2131.8 906.35 2132.8 906.36 2133.8 906.37 2134.8 906.38 2135.8 906.39 2136.8 906.40 2137.8 906.41 2138.8 906.42 2139.8 906.43 2140.8 906.44 2141.8 906.45 2142.8 906.46 2143.8 906.47 2144.8 906.48 2145.8 906.49 2146.8 906.50 2147.8 906.51 2148.8 906.52 2149.8 906.53 2150.8 906.54 2151.8 906.55 2152.8 906.56 2153.8 906.57 2154.8 906.58 2155.8 906.59 2156.8 906.60 2157.8 906.61 2158.8 906.62 2159.8 906.63 2160.8 906.63 2161.8 906.64 2162.8 906.65 2163.8 906.66 2164.8 906.67 2165.8 906.68 2166.8 906.69 2167.8 906.70 2168.8 906.71 2169.8 906.72 2170.8 906.73 2171.8 906.74 2172.8 906.75 2173.8 906.76 2174.8 906.77 2175.8 906.78 2176.8 906.78 2177.8 906.79" stroke="#ff0000" stroke-width="6.3" fill="none" stroke-linejoin="round"/><path d="M1935.5 236.0L1929.0 266.0M1921.0 298.5L1916.3 328.5M1910.1 360.0L1902.4 392.0M1899.3 420.5L1890.0 454.0M1885.3 484.0L1877.6 516.0M1869.9 547.5L1863.7 578.0M1859.0 609.5L1851.3 640.0M1845.1 670.0L1837.3 702.0M1832.7 733.0L1825.0 764.0M1818.7 797.5L1812.6 825.0M1806.4 858.0L1798.6 888.5" stroke="#000" stroke-width="6" fill="none"/><polygon points="1943,187 1948.5,187 1946.5,229 1939,229 1932,219 1937,208" fill="#000"/><g font-family="Liberation Sans, Arial, sans-serif" fill="#000" style="font-kerning:none"><text transform="translate(57.54 131.34) scale(0.9935 1)" font-size="98.32" font-weight="normal" stroke="#000" stroke-width="1.20">(</text><text transform="translate(90.81 132.17) scale(0.9566 1)" font-size="95.65" font-weight="normal" stroke="#000" stroke-width="1.20">a</text><text transform="translate(151.36 131.34) scale(0.9322 1)" font-size="98.32" font-weight="normal" stroke="#000" stroke-width="1.20">)</text><text transform="translate(1553.28 131.23) scale(0.9500 1)" font-size="98.86" font-weight="normal" stroke="#000" stroke-width="1.20">(</text><text transform="translate(1585.48 132.62) scale(1.0420 1)" font-size="100.09" font-weight="normal" stroke="#000" stroke-width="1.20">b</text><text transform="translate(1646.81 131.23) scale(1.0225 1)" font-size="98.86" font-weight="normal" stroke="#000" stroke-width="1.20">)</text><text transform="translate(128.01 940.28) rotate(-90) scale(0.9918 1)" font-size="65.98" font-weight="bold">Relative intensity (a.u.)</text><text transform="translate(148.91 1133.79) scale(1.0047 1)" font-size="72.46" font-weight="bold" stroke="#fff" stroke-width="0.60">10</text><text transform="translate(369.41 1133.79) scale(0.9932 1)" font-size="72.46" font-weight="bold" stroke="#fff" stroke-width="0.60">20</text><text transform="translate(596.17 1133.69) scale(0.9841 1)" font-size="72.31" font-weight="bold" stroke="#fff" stroke-width="0.60">30</text><text transform="translate(812.43 1133.79) scale(0.9761 1)" font-size="72.46" font-weight="bold" stroke="#fff" stroke-width="0.60">40</text><text transform="translate(1039.83 1133.79) scale(0.9722 1)" font-size="72.46" font-weight="bold" stroke="#fff" stroke-width="0.60">50</text><text transform="translate(1265.30 1133.79) scale(0.9791 1)" font-size="72.46" font-weight="bold" stroke="#fff" stroke-width="0.60">60</text><text transform="translate(1488.22 1133.79) scale(0.9905 1)" font-size="72.46" font-weight="bold" stroke="#fff" stroke-width="0.60">70</text><text transform="translate(1617.30 991.62) scale(0.8402 1)" font-size="51.87" font-weight="bold" stroke="#fff" stroke-width="0.80">30.9</text><text transform="translate(1732.98 991.62) scale(0.8532 1)" font-size="51.87" font-weight="bold" stroke="#fff" stroke-width="0.80">31.0</text><text transform="translate(1847.53 991.62) scale(0.8147 1)" font-size="51.87" font-weight="bold" stroke="#fff" stroke-width="0.80">31.1</text><text transform="translate(1955.68 991.62) scale(0.8527 1)" font-size="51.87" font-weight="bold" stroke="#fff" stroke-width="0.80">31.2</text><text transform="translate(2071.19 991.62) scale(0.8499 1)" font-size="51.87" font-weight="bold" stroke="#fff" stroke-width="0.80">31.3</text><text transform="translate(788.15 1250.04) scale(1.0771 1)" font-size="77.94" font-weight="normal" stroke="#000" stroke-width="2.20">θ</text><text transform="translate(860.18 1252.94) scale(0.8704 1)" font-size="81.90" font-weight="normal" stroke="#000" stroke-width="2.20">(</text><text transform="translate(891.11 1245.45) scale(0.9533 1)" font-size="80.84" font-weight="normal" stroke="#000" stroke-width="2.20">°</text><text transform="translate(928.20 1252.94) scale(0.8243 1)" font-size="81.90" font-weight="normal" stroke="#000" stroke-width="2.20">)</text><text transform="translate(1858.86 1066.33) scale(0.9134 1)" font-size="58.05" font-weight="normal" stroke="#000" stroke-width="1.80">θ</text><text transform="translate(1909.24 1066.84) scale(0.8672 1)" font-size="58.71" font-weight="normal" stroke="#000" stroke-width="1.80">(</text><text transform="translate(1931.79 1058.98) scale(0.9930 1)" font-size="54.25" font-weight="normal" stroke="#000" stroke-width="1.80">°</text><text transform="translate(1959.75 1066.84) scale(0.7130 1)" font-size="58.71" font-weight="normal" stroke="#000" stroke-width="1.80">)</text><text transform="translate(1190.13 237.22) scale(1.0182 1)" font-size="59.04" font-weight="bold">CTP:0.7Mn</text><text transform="translate(1189.53 351.74) scale(1.0484 1)" font-size="57.49" font-weight="bold">CTP:0.5Mn</text><text transform="translate(1189.53 485.26) scale(1.0506 1)" font-size="57.37" font-weight="bold">CTP:0.3Mn</text><text transform="translate(1189.53 606.16) scale(1.0830 1)" font-size="55.65" font-weight="bold">CTP:0.2Mn</text><text transform="translate(1172.93 735.54) scale(1.0474 1)" font-size="57.49" font-weight="bold">CTP:0.05Mn</text><text transform="translate(1285.86 859.91) scale(0.9901 1)" font-size="60.03" font-weight="bold">CTP</text><text transform="translate(1172.50 970.28) scale(1.0319 1)" font-size="53.67" font-weight="bold">PDF#46-0402</text><text transform="translate(1990.70 206.99) scale(1.0652 1)" font-size="52.26" font-weight="bold">0.7Mn</text><text transform="translate(1990.70 316.08) scale(1.0371 1)" font-size="53.67" font-weight="bold">0.5Mn</text><text transform="translate(1990.91 451.09) scale(1.0211 1)" font-size="54.27" font-weight="bold">0.3Mn</text><text transform="translate(1990.91 594.97) scale(1.0190 1)" font-size="54.38" font-weight="bold">0.2Mn</text><text transform="translate(1975.61 715.46) scale(1.0047 1)" font-size="55.08" font-weight="bold">0.05Mn</text><text transform="translate(2014.64 859.06) scale(0.9880 1)" font-size="55.79" font-weight="bold">CTP</text></g></svg></body></html>
